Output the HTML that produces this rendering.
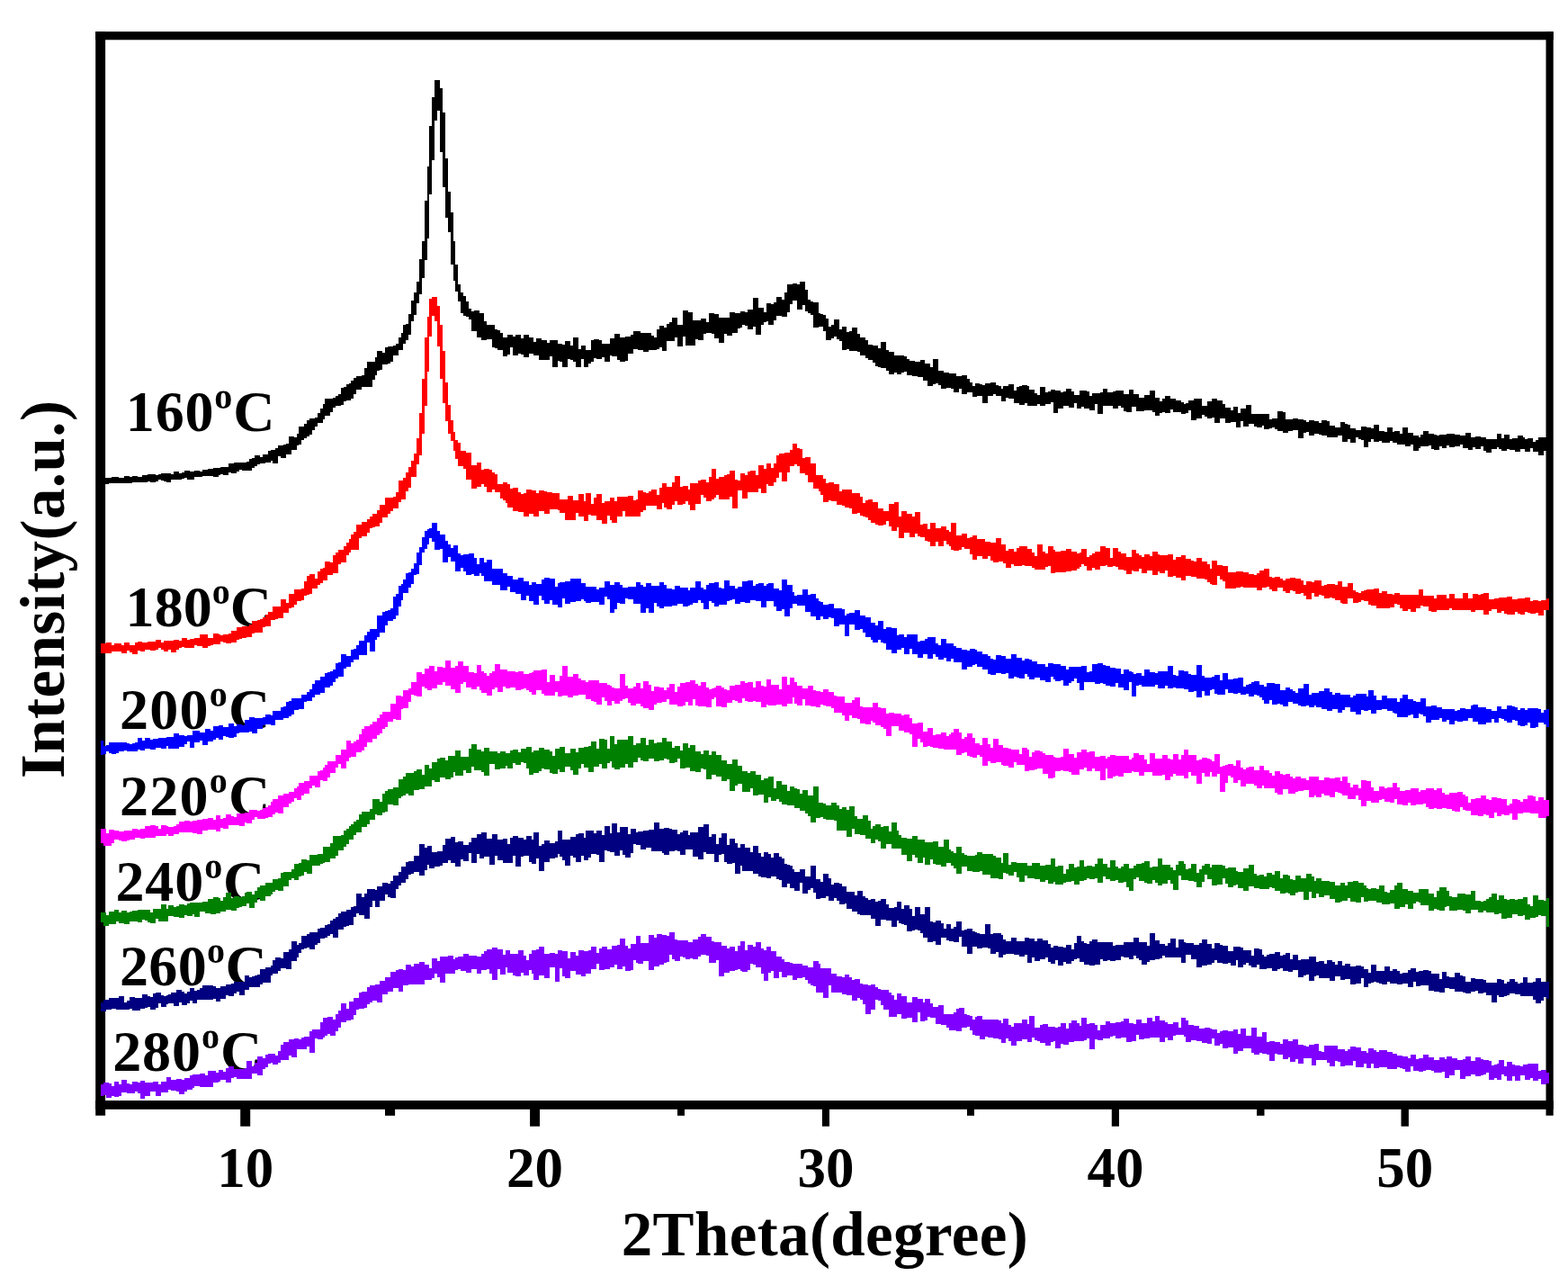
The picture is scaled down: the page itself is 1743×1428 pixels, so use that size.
<!DOCTYPE html>
<html><head><meta charset="utf-8"><title>XRD patterns</title>
<style>
html,body{margin:0;padding:0;background:#fff;}
body{width:1743px;height:1428px;overflow:hidden;}
svg{display:block;}
.tk{font-size:63px;}
.cl{font-size:64px;}
.sup{font-size:40px;}
.xl{font-size:69px;}
.yl{font-size:69px;}
</style></head>
<body>
<svg width="1743" height="1428" viewBox="0 0 1743 1428">
<rect width="1743" height="1428" fill="#fff"/>
<g fill="#000" font-family="'Liberation Serif', serif" font-weight="bold">
<text x="139.8" y="478.7" class="cl" textLength="165.6" lengthAdjust="spacing">160<tspan class="sup" dy="-25">o</tspan><tspan dy="25">C</tspan></text>
<text x="139.6" y="695.6" class="cl" textLength="162.4" lengthAdjust="spacing">180<tspan class="sup" dy="-25">o</tspan><tspan dy="25">C</tspan></text>
<text x="132.9" y="809.9" class="cl" textLength="167.3" lengthAdjust="spacing">200<tspan class="sup" dy="-25">o</tspan><tspan dy="25">C</tspan></text>
<text x="132.9" y="905.7" class="cl" textLength="167.3" lengthAdjust="spacing">220<tspan class="sup" dy="-25">o</tspan><tspan dy="25">C</tspan></text>
<text x="128.4" y="1000.5" class="cl" textLength="165.9" lengthAdjust="spacing">240<tspan class="sup" dy="-25">o</tspan><tspan dy="25">C</tspan></text>
<text x="132.9" y="1094.6" class="cl" textLength="163.8" lengthAdjust="spacing">260<tspan class="sup" dy="-25">o</tspan><tspan dy="25">C</tspan></text>
<text x="125.2" y="1189.5" class="cl" textLength="165.9" lengthAdjust="spacing">280<tspan class="sup" dy="-25">o</tspan><tspan dy="25">C</tspan></text>
</g>
<g fill="#000">
<rect x="106.2" y="35.1" width="10.9" height="1204.6"/>
<rect x="106.2" y="35.1" width="1620.5" height="9.2"/>
<rect x="1718.5" y="35.1" width="8.2" height="1204.6"/>
<rect x="106.2" y="1223.0" width="1620.5" height="9.8"/>
<rect x="267.2" y="1232.0" width="11.0" height="19.7"/>
<rect x="589.1" y="1232.0" width="10.9" height="19.7"/>
<rect x="913.9" y="1232.0" width="8.1" height="19.7"/>
<rect x="1235.8" y="1232.0" width="8.2" height="19.7"/>
<rect x="1557.5" y="1232.0" width="8.4" height="19.7"/>
<rect x="428.0" y="1232.0" width="11.1" height="7.8"/>
<rect x="753.0" y="1232.0" width="8.0" height="7.8"/>
<rect x="1075.0" y="1232.0" width="8.0" height="7.8"/>
<rect x="1397.0" y="1232.0" width="8.5" height="7.8"/>
</g>
<g shape-rendering="crispEdges">
<path fill="#000000" d="M112.0 532.1H114.9V538.0H112.0ZM114.9 530.5H117.8V538.2H114.9ZM117.8 530.5H120.7V538.2H117.8ZM120.7 531.4H123.6V537.1H120.7ZM123.6 530.0H126.5V537.1H123.6ZM126.5 530.0H129.4V536.5H126.5ZM129.4 530.4H132.3V536.9H129.4ZM132.3 531.2H135.2V536.9H132.3ZM135.2 530.9H138.1V536.9H135.2ZM138.1 529.4H141.0V536.8H138.1ZM141.0 529.4H143.9V536.9H141.0ZM143.9 529.5H146.8V536.9H143.9ZM146.8 528.8H149.7V536.2H146.8ZM149.7 528.8H152.6V535.7H149.7ZM152.6 529.6H155.5V535.7H152.6ZM155.5 529.9H158.4V535.7H155.5ZM158.4 528.0H161.3V536.4H158.4ZM161.3 528.0H164.2V536.4H161.3ZM164.2 527.4H167.1V535.3H164.2ZM167.1 526.8H170.0V536.0H167.1ZM170.0 526.8H172.9V536.0H170.0ZM172.9 527.8H175.8V535.2H172.9ZM175.8 526.7H178.7V533.1H175.8ZM178.7 526.3H181.6V534.1H178.7ZM181.6 526.3H184.5V535.2H181.6ZM184.5 525.9H187.4V535.7H184.5ZM187.4 525.9H190.3V535.7H187.4ZM190.3 526.6H193.2V533.0H190.3ZM193.2 524.0H196.1V533.0H193.2ZM196.1 524.0H199.0V532.8H196.1ZM199.0 525.6H201.9V532.8H199.0ZM201.9 524.8H204.8V532.2H201.9ZM204.8 523.1H207.7V530.5H204.8ZM207.7 523.1H210.6V533.0H207.7ZM210.6 524.3H213.5V533.0H210.6ZM213.5 524.3H216.4V533.0H213.5ZM216.4 522.6H219.3V530.1H216.4ZM219.3 522.6H222.2V529.9H219.3ZM222.2 523.7H225.1V529.9H222.2ZM225.1 521.6H228.0V528.8H225.1ZM228.0 521.6H230.9V529.2H228.0ZM230.9 521.4H233.8V529.2H230.9ZM233.8 520.9H236.7V529.3H233.8ZM236.7 519.8H239.6V529.7H236.7ZM239.6 519.6H242.5V529.7H239.6ZM242.5 519.6H245.4V527.7H242.5ZM245.4 519.4H248.3V527.3H245.4ZM248.3 518.7H251.2V527.6H248.3ZM251.2 518.7H254.1V527.6H251.2ZM254.1 515.0H257.0V525.3H254.1ZM257.0 515.0H259.9V525.7H257.0ZM259.9 514.0H262.8V525.7H259.9ZM262.8 514.0H265.7V524.2H262.8ZM265.7 513.7H268.6V522.3H265.7ZM268.6 513.7H271.5V523.4H268.6ZM271.5 514.0H274.4V523.4H271.5ZM274.4 512.7H277.3V522.6H274.4ZM277.3 509.9H280.2V522.6H277.3ZM280.2 509.3H283.1V520.1H280.2ZM283.1 506.1H286.0V518.3H283.1ZM286.0 506.1H288.9V516.1H286.0ZM288.9 508.3H291.8V515.1H288.9ZM291.8 504.9H294.7V515.1H291.8ZM294.7 504.7H297.6V514.4H294.7ZM297.6 500.7H300.5V514.4H297.6ZM300.5 499.7H303.4V511.5H300.5ZM303.4 499.6H306.3V515.1H303.4ZM306.3 498.2H309.2V515.1H306.3ZM309.2 495.3H312.1V506.8H309.2ZM312.1 495.2H315.0V509.3H312.1ZM315.0 494.4H317.9V509.3H315.0ZM317.9 492.8H320.8V505.1H317.9ZM320.8 485.3H323.7V505.1H320.8ZM323.7 485.3H326.6V500.0H323.7ZM326.6 485.7H329.5V500.0H326.6ZM329.5 482.2H332.4V495.2H329.5ZM332.4 474.4H335.3V493.5H332.4ZM335.3 474.4H338.2V488.9H335.3ZM338.2 471.0H341.1V487.2H338.2ZM341.1 467.0H344.0V485.1H341.1ZM344.0 464.5H346.9V483.2H344.0ZM346.9 464.5H349.8V478.1H346.9ZM349.8 463.8H352.7V473.5H349.8ZM352.7 458.9H355.6V469.7H352.7ZM355.6 454.0H358.5V469.7H355.6ZM358.5 449.4H361.4V465.7H358.5ZM361.4 442.8H364.3V461.9H361.4ZM364.3 442.8H367.2V461.9H364.3ZM367.2 443.4H370.1V458.1H367.2ZM370.1 441.6H373.0V452.9H370.1ZM373.0 440.2H375.9V451.4H373.0ZM375.9 437.7H378.8V451.4H375.9ZM378.8 431.3H381.7V449.7H378.8ZM381.7 429.7H384.6V446.0H381.7ZM384.6 426.5H387.5V445.3H384.6ZM387.5 425.8H390.4V445.3H387.5ZM390.4 423.2H393.3V442.8H390.4ZM393.3 420.2H396.2V438.1H393.3ZM396.2 417.7H399.1V433.4H396.2ZM399.1 417.7H402.0V432.7H399.1ZM402.0 417.4H404.9V430.4H402.0ZM404.9 408.7H407.8V430.4H404.9ZM407.8 401.7H410.7V429.5H407.8ZM410.7 401.7H413.6V429.5H410.7ZM413.6 401.7H416.5V422.2H413.6ZM416.5 397.1H419.4V416.5H416.5ZM419.4 390.0H422.3V411.8H419.4ZM422.3 390.0H425.2V410.8H422.3ZM425.2 391.5H428.1V405.3H425.2ZM428.1 386.4H431.0V405.3H428.1ZM431.0 385.3H433.9V403.7H431.0ZM433.9 384.9H436.8V401.8H433.9ZM436.8 384.2H439.7V394.6H436.8ZM439.7 382.0H442.6V394.6H439.7ZM442.6 374.6H445.5V388.9H442.6ZM445.5 369.7H448.4V388.9H445.5ZM448.4 360.9H451.3V382.0H448.4ZM451.3 360.3H454.2V377.5H451.3ZM454.2 348.9H457.1V371.7H454.2ZM457.1 333.6H460.0V356.8H457.1ZM460.0 325.2H462.9V350.1H460.0ZM462.9 313.1H465.8V336.8H462.9ZM465.8 288.3H468.7V327.1H465.8ZM468.7 268.0H471.6V309.4H468.7ZM471.6 222.8H474.5V288.5H471.6ZM474.5 185.1H477.4V265.3H474.5ZM477.4 139.9H480.3V215.8H477.4ZM480.3 107.8H483.2V177.7H480.3ZM483.2 89.2H486.1V134.2H483.2ZM486.1 89.2H489.0V123.1H486.1ZM489.0 98.2H491.9V168.7H489.0ZM491.9 124.8H494.8V207.5H491.9ZM494.8 175.6H497.7V241.9H494.8ZM497.7 213.4H500.6V258.4H497.7ZM500.6 236.3H503.5V293.8H500.6ZM503.5 268.4H506.4V311.8H503.5ZM506.4 294.4H509.3V324.4H506.4ZM509.3 315.7H512.2V334.6H509.3ZM512.2 324.7H515.1V347.5H512.2ZM515.1 329.0H518.0V350.5H515.1ZM518.0 334.6H520.9V352.0H518.0ZM520.9 342.6H523.8V354.9H520.9ZM523.8 346.1H526.7V368.3H523.8ZM526.7 345.2H529.6V368.3H526.7ZM529.6 345.2H532.5V375.4H529.6ZM532.5 348.3H535.4V375.4H532.5ZM535.4 348.3H538.3V377.5H535.4ZM538.3 356.5H541.2V377.5H538.3ZM541.2 360.7H544.1V377.2H541.2ZM544.1 360.6H547.0V377.2H544.1ZM547.0 360.6H549.9V386.3H547.0ZM549.9 365.6H552.8V387.4H549.9ZM552.8 367.2H555.7V388.6H552.8ZM555.7 369.8H558.6V388.6H555.7ZM558.6 374.9H561.5V395.6H558.6ZM561.5 374.9H564.4V395.6H561.5ZM564.4 371.5H567.3V393.8H564.4ZM567.3 371.5H570.2V385.9H567.3ZM570.2 374.3H573.1V395.4H570.2ZM573.1 372.2H576.0V395.4H573.1ZM576.0 372.2H578.9V392.5H576.0ZM578.9 375.5H581.8V393.9H578.9ZM581.8 372.4H584.7V397.2H581.8ZM584.7 372.4H587.6V397.2H584.7ZM587.6 375.2H590.5V392.6H587.6ZM590.5 375.2H593.4V392.7H590.5ZM593.4 379.7H596.3V394.8H593.4ZM596.3 375.5H599.2V394.8H596.3ZM599.2 375.5H602.1V399.6H599.2ZM602.1 378.2H605.0V399.6H602.1ZM605.0 378.2H607.9V399.5H605.0ZM607.9 381.4H610.8V399.5H607.9ZM610.8 378.1H613.7V396.2H610.8ZM613.7 378.1H616.6V407.9H613.7ZM616.6 378.1H619.5V407.9H616.6ZM619.5 381.9H622.4V401.0H619.5ZM622.4 381.9H625.3V401.8H622.4ZM625.3 382.9H628.2V407.9H625.3ZM628.2 379.0H631.1V407.9H628.2ZM631.1 379.0H634.0V399.1H631.1ZM634.0 383.7H636.9V399.5H634.0ZM636.9 375.0H639.8V402.2H636.9ZM639.8 375.0H642.7V407.6H639.8ZM642.7 387.7H645.6V407.6H642.7ZM645.6 383.8H648.5V399.3H645.6ZM648.5 383.8H651.4V408.3H648.5ZM651.4 389.4H654.3V408.3H651.4ZM654.3 388.8H657.2V404.2H654.3ZM657.2 377.7H660.1V402.1H657.2ZM660.1 377.3H663.0V398.2H660.1ZM663.0 377.3H665.9V399.1H663.0ZM665.9 378.3H668.8V399.1H665.9ZM668.8 382.3H671.7V396.7H668.8ZM671.7 381.7H674.6V402.1H671.7ZM674.6 381.7H677.5V402.1H674.6ZM677.5 376.0H680.4V394.6H677.5ZM680.4 376.0H683.3V396.4H680.4ZM683.3 371.3H686.2V396.4H683.3ZM686.2 371.3H689.1V400.0H686.2ZM689.1 375.4H692.0V401.9H689.1ZM692.0 375.4H694.9V401.9H692.0ZM694.9 374.2H697.8V401.1H694.9ZM697.8 374.2H700.7V393.4H697.8ZM700.7 371.9H703.6V393.4H700.7ZM703.6 367.7H706.5V387.9H703.6ZM706.5 367.5H709.4V387.9H706.5ZM709.4 367.5H712.3V389.0H709.4ZM712.3 370.3H715.2V389.0H712.3ZM715.2 370.3H718.1V390.6H715.2ZM718.1 370.1H721.0V390.6H718.1ZM721.0 370.1H723.9V388.8H721.0ZM723.9 372.6H726.8V389.2H723.9ZM726.8 374.9H729.7V389.2H726.8ZM729.7 365.5H732.6V387.5H729.7ZM732.6 362.4H735.5V386.4H732.6ZM735.5 362.4H738.4V390.0H735.5ZM738.4 364.2H741.3V390.0H738.4ZM741.3 359.9H744.2V379.2H741.3ZM744.2 357.7H747.1V378.5H744.2ZM747.1 353.4H750.0V378.5H747.1ZM750.0 353.4H752.9V374.5H750.0ZM752.9 361.1H755.8V384.9H752.9ZM755.8 360.7H758.7V384.9H755.8ZM758.7 345.1H761.6V373.6H758.7ZM761.6 345.1H764.5V383.9H761.6ZM764.5 347.3H767.4V383.9H764.5ZM767.4 347.3H770.3V383.5H767.4ZM770.3 355.6H773.2V383.5H770.3ZM773.2 355.6H776.1V377.0H773.2ZM776.1 355.9H779.0V377.5H776.1ZM779.0 353.8H781.9V377.5H779.0ZM781.9 353.8H784.8V370.6H781.9ZM784.8 357.8H787.7V370.0H784.8ZM787.7 348.4H790.6V370.0H787.7ZM790.6 348.4H793.5V371.1H790.6ZM793.5 349.4H796.4V375.9H793.5ZM796.4 349.4H799.3V375.9H796.4ZM799.3 352.6H802.2V381.1H799.3ZM802.2 352.6H805.1V381.1H802.2ZM805.1 353.2H808.0V370.9H805.1ZM808.0 353.2H810.9V373.2H808.0ZM810.9 347.4H813.8V373.2H810.9ZM813.8 347.4H816.7V369.7H813.8ZM816.7 348.0H819.6V369.7H816.7ZM819.6 348.0H822.5V364.6H819.6ZM822.5 345.6H825.4V363.8H822.5ZM825.4 345.6H828.3V361.3H825.4ZM828.3 346.9H831.2V361.8H828.3ZM831.2 343.7H834.1V365.5H831.2ZM834.1 343.7H837.0V365.5H834.1ZM837.0 330.9H839.9V362.5H837.0ZM839.9 330.9H842.8V371.7H839.9ZM842.8 341.9H845.7V371.7H842.8ZM845.7 341.9H848.6V361.1H845.7ZM848.6 347.2H851.5V358.2H848.6ZM851.5 337.2H854.4V357.0H851.5ZM854.4 337.2H857.3V360.6H854.4ZM857.3 337.5H860.2V360.6H857.3ZM860.2 335.9H863.1V355.5H860.2ZM863.1 329.8H866.0V351.1H863.1ZM866.0 329.8H868.9V351.2H866.0ZM868.9 333.2H871.8V351.7H868.9ZM871.8 324.6H874.7V351.7H871.8ZM874.7 315.7H877.6V346.7H874.7ZM877.6 315.7H880.5V337.9H877.6ZM880.5 314.9H883.4V333.7H880.5ZM883.4 314.9H886.3V333.7H883.4ZM886.3 315.7H889.2V344.4H886.3ZM889.2 313.3H892.1V344.4H889.2ZM892.1 313.3H895.0V339.0H892.1ZM895.0 321.6H897.9V345.6H895.0ZM897.9 332.8H900.8V347.5H897.9ZM900.8 334.8H903.7V349.5H900.8ZM903.7 335.5H906.6V363.5H903.7ZM906.6 335.5H909.5V363.5H906.6ZM909.5 347.6H912.4V362.9H909.5ZM912.4 348.8H915.3V363.1H912.4ZM915.3 349.6H918.2V367.9H915.3ZM918.2 353.7H921.1V377.6H918.2ZM921.1 362.9H924.0V377.6H921.1ZM924.0 361.1H926.9V376.3H924.0ZM926.9 355.4H929.8V373.9H926.9ZM929.8 355.4H932.7V377.2H929.8ZM932.7 365.6H935.6V378.5H932.7ZM935.6 362.8H938.5V388.5H935.6ZM938.5 362.8H941.4V388.5H938.5ZM941.4 368.7H944.3V388.1H941.4ZM944.3 368.3H947.2V389.6H944.3ZM947.2 364.4H950.1V389.6H947.2ZM950.1 364.4H953.0V389.5H950.1ZM953.0 370.7H955.9V390.9H953.0ZM955.9 374.9H958.8V395.4H955.9ZM958.8 374.9H961.7V395.4H958.8ZM961.7 377.7H964.6V397.6H961.7ZM964.6 382.6H967.5V400.1H964.6ZM967.5 382.6H970.4V400.1H967.5ZM970.4 383.5H973.3V402.7H970.4ZM973.3 383.5H976.2V406.5H973.3ZM976.2 387.2H979.1V407.6H976.2ZM979.1 380.1H982.0V408.7H979.1ZM982.0 380.1H984.9V408.7H982.0ZM984.9 388.9H987.8V412.2H984.9ZM987.8 391.0H990.7V416.3H987.8ZM990.7 391.0H993.6V416.3H990.7ZM993.6 394.6H996.5V414.1H993.6ZM996.5 395.2H999.4V415.7H996.5ZM999.4 395.1H1002.3V415.7H999.4ZM1002.3 395.1H1005.2V414.3H1002.3ZM1005.2 396.2H1008.1V413.2H1005.2ZM1008.1 399.0H1011.0V417.3H1008.1ZM1011.0 401.3H1013.9V417.3H1011.0ZM1013.9 401.3H1016.8V417.6H1013.9ZM1016.8 402.3H1019.7V417.6H1016.8ZM1019.7 401.8H1022.6V418.9H1019.7ZM1022.6 400.3H1025.5V418.9H1022.6ZM1025.5 400.3H1028.4V422.7H1025.5ZM1028.4 403.5H1031.3V422.7H1028.4ZM1031.3 403.5H1034.2V428.9H1031.3ZM1034.2 408.3H1037.1V428.9H1034.2ZM1037.1 399.2H1040.0V427.1H1037.1ZM1040.0 399.2H1042.9V425.8H1040.0ZM1042.9 412.0H1045.8V427.8H1042.9ZM1045.8 412.0H1048.7V431.5H1045.8ZM1048.7 413.6H1051.6V431.5H1048.7ZM1051.6 413.6H1054.5V430.6H1051.6ZM1054.5 415.3H1057.4V430.6H1054.5ZM1057.4 414.8H1060.3V431.5H1057.4ZM1060.3 414.8H1063.2V436.0H1060.3ZM1063.2 418.1H1066.1V436.0H1063.2ZM1066.1 418.1H1069.0V432.3H1066.1ZM1069.0 416.8H1071.9V437.7H1069.0ZM1071.9 416.8H1074.8V437.7H1071.9ZM1074.8 420.7H1077.7V435.8H1074.8ZM1077.7 424.9H1080.6V435.9H1077.7ZM1080.6 428.8H1083.5V441.3H1080.6ZM1083.5 425.8H1086.4V441.3H1083.5ZM1086.4 425.8H1089.3V440.1H1086.4ZM1089.3 427.2H1092.2V440.1H1089.3ZM1092.2 428.1H1095.1V448.1H1092.2ZM1095.1 426.2H1098.0V448.1H1095.1ZM1098.0 426.2H1100.9V440.0H1098.0ZM1100.9 424.5H1103.8V440.0H1100.9ZM1103.8 424.5H1106.7V438.3H1103.8ZM1106.7 428.2H1109.6V440.2H1106.7ZM1109.6 428.8H1112.5V440.2H1109.6ZM1112.5 431.9H1115.4V446.1H1112.5ZM1115.4 429.2H1118.3V446.1H1115.4ZM1118.3 429.2H1121.2V442.1H1118.3ZM1121.2 426.7H1124.1V443.1H1121.2ZM1124.1 426.7H1127.0V443.1H1124.1ZM1127.0 433.7H1129.9V447.5H1127.0ZM1129.9 430.3H1132.8V447.5H1129.9ZM1132.8 428.7H1135.7V450.2H1132.8ZM1135.7 428.4H1138.6V450.2H1135.7ZM1138.6 428.4H1141.5V448.1H1138.6ZM1141.5 429.3H1144.4V450.5H1141.5ZM1144.4 432.9H1147.3V450.5H1144.4ZM1147.3 432.9H1150.2V450.5H1147.3ZM1150.2 436.8H1153.1V450.5H1150.2ZM1153.1 438.9H1156.0V448.7H1153.1ZM1156.0 429.5H1158.9V450.6H1156.0ZM1158.9 429.5H1161.8V450.6H1158.9ZM1161.8 436.3H1164.7V449.1H1161.8ZM1164.7 434.5H1167.6V449.1H1164.7ZM1167.6 432.9H1170.5V447.2H1167.6ZM1170.5 432.9H1173.4V458.7H1170.5ZM1173.4 434.4H1176.3V458.7H1173.4ZM1176.3 434.4H1179.2V454.1H1176.3ZM1179.2 435.8H1182.1V454.1H1179.2ZM1182.1 434.9H1185.0V450.6H1182.1ZM1185.0 432.4H1187.9V450.6H1185.0ZM1187.9 432.4H1190.8V452.9H1187.9ZM1190.8 435.1H1193.7V452.9H1190.8ZM1193.7 439.2H1196.6V447.5H1193.7ZM1196.6 438.9H1199.5V454.4H1196.6ZM1199.5 434.1H1202.4V454.4H1199.5ZM1202.4 434.1H1205.3V451.9H1202.4ZM1205.3 434.4H1208.2V454.2H1205.3ZM1208.2 435.3H1211.1V454.2H1208.2ZM1211.1 440.0H1214.0V455.7H1211.1ZM1214.0 436.8H1216.9V455.7H1214.0ZM1216.9 436.8H1219.8V449.4H1216.9ZM1219.8 436.9H1222.7V460.4H1219.8ZM1222.7 435.5H1225.6V460.4H1222.7ZM1225.6 431.7H1228.5V451.2H1225.6ZM1228.5 431.7H1231.4V451.2H1228.5ZM1231.4 435.6H1234.3V451.4H1231.4ZM1234.3 435.6H1237.2V451.4H1234.3ZM1237.2 435.2H1240.1V453.8H1237.2ZM1240.1 434.3H1243.0V453.8H1240.1ZM1243.0 433.7H1245.9V451.4H1243.0ZM1245.9 433.7H1248.8V453.1H1245.9ZM1248.8 437.8H1251.7V456.8H1248.8ZM1251.7 437.8H1254.6V457.7H1251.7ZM1254.6 432.6H1257.5V457.7H1254.6ZM1257.5 432.6H1260.4V451.5H1257.5ZM1260.4 438.4H1263.3V451.5H1260.4ZM1263.3 438.4H1266.2V456.5H1263.3ZM1266.2 441.8H1269.1V457.0H1266.2ZM1269.1 441.7H1272.0V457.0H1269.1ZM1272.0 439.1H1274.9V455.7H1272.0ZM1274.9 439.1H1277.8V455.7H1274.9ZM1277.8 434.1H1280.7V455.7H1277.8ZM1280.7 434.1H1283.6V457.7H1280.7ZM1283.6 441.7H1286.5V462.4H1283.6ZM1286.5 441.7H1289.4V462.4H1286.5ZM1289.4 446.4H1292.3V459.3H1289.4ZM1292.3 442.7H1295.2V457.9H1292.3ZM1295.2 439.8H1298.1V459.2H1295.2ZM1298.1 439.8H1301.0V459.2H1298.1ZM1301.0 442.7H1303.9V454.7H1301.0ZM1303.9 442.9H1306.8V458.0H1303.9ZM1306.8 444.9H1309.7V458.0H1306.8ZM1309.7 444.9H1312.6V457.7H1309.7ZM1312.6 446.7H1315.5V459.8H1312.6ZM1315.5 448.7H1318.4V459.8H1315.5ZM1318.4 447.6H1321.3V458.7H1318.4ZM1321.3 445.1H1324.2V456.2H1321.3ZM1324.2 445.1H1327.1V466.6H1324.2ZM1327.1 443.4H1330.0V466.6H1327.1ZM1330.0 443.4H1332.9V465.0H1330.0ZM1332.9 443.4H1335.8V465.0H1332.9ZM1335.8 450.9H1338.7V461.1H1335.8ZM1338.7 450.8H1341.6V463.0H1338.7ZM1341.6 446.1H1344.5V464.9H1341.6ZM1344.5 446.1H1347.4V464.9H1344.5ZM1347.4 442.5H1350.3V463.5H1347.4ZM1350.3 442.5H1353.2V470.4H1350.3ZM1353.2 445.4H1356.1V470.4H1353.2ZM1356.1 445.4H1359.0V465.4H1356.1ZM1359.0 448.9H1361.9V465.1H1359.0ZM1361.9 452.9H1364.8V469.6H1361.9ZM1364.8 452.9H1367.7V469.6H1364.8ZM1367.7 455.8H1370.6V469.4H1367.7ZM1370.6 452.3H1373.5V468.6H1370.6ZM1373.5 452.3H1376.4V475.3H1373.5ZM1376.4 458.7H1379.3V475.3H1376.4ZM1379.3 454.1H1382.2V467.6H1379.3ZM1382.2 454.1H1385.1V474.0H1382.2ZM1385.1 450.2H1388.0V474.0H1385.1ZM1388.0 450.2H1390.9V470.9H1388.0ZM1390.9 460.0H1393.8V470.9H1390.9ZM1393.8 459.8H1396.7V474.3H1393.8ZM1396.7 459.8H1399.6V474.7H1396.7ZM1399.6 459.6H1402.5V474.7H1399.6ZM1402.5 459.6H1405.4V472.6H1402.5ZM1405.4 459.8H1408.3V476.8H1405.4ZM1408.3 459.8H1411.2V476.8H1408.3ZM1411.2 466.1H1414.1V475.7H1411.2ZM1414.1 464.8H1417.0V475.1H1414.1ZM1417.0 464.8H1419.9V476.7H1417.0ZM1419.9 457.2H1422.8V479.2H1419.9ZM1422.8 457.2H1425.7V479.2H1422.8ZM1425.7 458.0H1428.6V480.5H1425.7ZM1428.6 465.5H1431.5V480.5H1428.6ZM1431.5 465.5H1434.4V479.3H1431.5ZM1434.4 466.3H1437.3V479.3H1434.4ZM1437.3 464.8H1440.2V478.1H1437.3ZM1440.2 464.8H1443.1V478.3H1440.2ZM1443.1 466.4H1446.0V486.5H1443.1ZM1446.0 466.4H1448.9V486.5H1446.0ZM1448.9 466.6H1451.8V480.6H1448.9ZM1451.8 469.2H1454.7V479.8H1451.8ZM1454.7 467.0H1457.6V483.9H1454.7ZM1457.6 467.0H1460.5V483.9H1457.6ZM1460.5 467.8H1463.4V481.5H1460.5ZM1463.4 467.8H1466.3V481.5H1463.4ZM1466.3 470.0H1469.2V482.7H1466.3ZM1469.2 466.7H1472.1V484.2H1469.2ZM1472.1 466.7H1475.0V484.2H1472.1ZM1475.0 468.4H1477.9V485.7H1475.0ZM1477.9 473.1H1480.8V485.7H1477.9ZM1480.8 473.1H1483.7V485.5H1480.8ZM1483.7 475.0H1486.6V485.5H1483.7ZM1486.6 475.0H1489.5V483.9H1486.6ZM1489.5 469.1H1492.4V483.9H1489.5ZM1492.4 469.1H1495.3V490.9H1492.4ZM1495.3 471.0H1498.2V490.9H1495.3ZM1498.2 471.8H1501.1V487.7H1498.2ZM1501.1 476.1H1504.0V492.3H1501.1ZM1504.0 476.1H1506.9V492.3H1504.0ZM1506.9 478.2H1509.8V485.6H1506.9ZM1509.8 478.2H1512.7V487.5H1509.8ZM1512.7 473.9H1515.6V488.8H1512.7ZM1515.6 473.9H1518.5V497.0H1515.6ZM1518.5 474.5H1521.4V497.0H1518.5ZM1521.4 475.0H1524.3V491.4H1521.4ZM1524.3 476.4H1527.2V488.2H1524.3ZM1527.2 472.1H1530.1V491.3H1527.2ZM1530.1 472.1H1533.0V491.3H1530.1ZM1533.0 478.7H1535.9V489.6H1533.0ZM1535.9 478.7H1538.8V491.5H1535.9ZM1538.8 479.7H1541.7V492.2H1538.8ZM1541.7 474.6H1544.6V492.2H1541.7ZM1544.6 474.6H1547.5V489.9H1544.6ZM1547.5 479.6H1550.4V492.0H1547.5ZM1550.4 479.3H1553.3V492.0H1550.4ZM1553.3 479.3H1556.2V493.7H1553.3ZM1556.2 481.7H1559.1V494.0H1556.2ZM1559.1 475.0H1562.0V494.0H1559.1ZM1562.0 475.0H1564.9V496.3H1562.0ZM1564.9 481.2H1567.8V496.3H1564.9ZM1567.8 481.2H1570.7V493.7H1567.8ZM1570.7 484.1H1573.6V501.4H1570.7ZM1573.6 484.2H1576.5V501.4H1573.6ZM1576.5 485.5H1579.4V498.3H1576.5ZM1579.4 482.5H1582.3V495.6H1579.4ZM1582.3 479.2H1585.2V495.7H1582.3ZM1585.2 479.2H1588.1V495.7H1585.2ZM1588.1 482.1H1591.0V495.3H1588.1ZM1591.0 482.1H1593.9V499.3H1591.0ZM1593.9 482.8H1596.8V499.7H1593.9ZM1596.8 483.6H1599.7V499.7H1596.8ZM1599.7 483.1H1602.6V496.4H1599.7ZM1602.6 483.1H1605.5V498.1H1602.6ZM1605.5 483.4H1608.4V498.1H1605.5ZM1608.4 481.9H1611.3V495.0H1608.4ZM1611.3 481.9H1614.2V496.9H1611.3ZM1614.2 482.4H1617.1V496.9H1614.2ZM1617.1 482.8H1620.0V496.3H1617.1ZM1620.0 482.8H1622.9V496.3H1620.0ZM1622.9 483.9H1625.8V494.2H1622.9ZM1625.8 483.9H1628.7V497.5H1625.8ZM1628.7 481.0H1631.6V498.4H1628.7ZM1631.6 481.0H1634.5V500.2H1631.6ZM1634.5 485.7H1637.4V500.2H1634.5ZM1637.4 485.7H1640.3V497.0H1637.4ZM1640.3 485.1H1643.2V499.2H1640.3ZM1643.2 485.1H1646.1V499.2H1643.2ZM1646.1 486.2H1649.0V495.9H1646.1ZM1649.0 486.2H1651.9V500.7H1649.0ZM1651.9 488.3H1654.8V502.8H1651.9ZM1654.8 488.3H1657.7V502.8H1654.8ZM1657.7 487.5H1660.6V498.8H1657.7ZM1660.6 487.5H1663.5V498.8H1660.6ZM1663.5 482.3H1666.4V497.3H1663.5ZM1666.4 482.3H1669.3V499.1H1666.4ZM1669.3 487.3H1672.2V500.6H1669.3ZM1672.2 483.1H1675.1V500.6H1672.2ZM1675.1 483.1H1678.0V498.7H1675.1ZM1678.0 488.3H1680.9V499.7H1678.0ZM1680.9 486.6H1683.8V499.7H1680.9ZM1683.8 486.6H1686.7V502.0H1683.8ZM1686.7 484.4H1689.6V502.0H1686.7ZM1689.6 484.4H1692.5V498.7H1689.6ZM1692.5 486.4H1695.4V498.9H1692.5ZM1695.4 487.5H1698.3V501.6H1695.4ZM1698.3 486.7H1701.2V501.6H1698.3ZM1701.2 486.7H1704.1V498.2H1701.2ZM1704.1 491.4H1707.0V502.2H1704.1ZM1707.0 488.9H1709.9V502.2H1707.0ZM1709.9 486.3H1712.8V505.6H1709.9ZM1712.8 485.7H1715.7V505.6H1712.8ZM1715.7 485.7H1718.6V500.7H1715.7ZM1718.6 486.0H1721.5V501.1H1718.6ZM1721.5 491.9H1722.0V501.1H1721.5Z"/>
<path fill="#ff0000" d="M112.0 715.4H114.9V725.5H112.0ZM114.9 715.2H117.8V725.5H114.9ZM117.8 713.8H120.7V725.9H117.8ZM120.7 713.8H123.6V725.9H120.7ZM123.6 716.8H126.5V724.0H123.6ZM126.5 714.5H129.4V723.6H126.5ZM129.4 714.5H132.3V723.7H129.4ZM132.3 715.1H135.2V723.7H132.3ZM135.2 716.9H138.1V726.0H135.2ZM138.1 713.8H141.0V726.0H138.1ZM141.0 713.8H143.9V723.2H141.0ZM143.9 716.9H146.8V725.4H143.9ZM146.8 716.9H149.7V726.7H146.8ZM149.7 714.2H152.6V726.7H149.7ZM152.6 713.2H155.5V722.8H152.6ZM155.5 713.2H158.4V723.7H155.5ZM158.4 714.3H161.3V723.7H158.4ZM161.3 714.3H164.2V722.2H161.3ZM164.2 712.6H167.1V722.2H164.2ZM167.1 712.6H170.0V722.7H167.1ZM170.0 712.8H172.9V722.7H170.0ZM172.9 710.8H175.8V722.1H172.9ZM175.8 710.8H178.7V719.9H175.8ZM178.7 714.2H181.6V721.8H178.7ZM181.6 711.7H184.5V724.1H181.6ZM184.5 711.7H187.4V724.1H184.5ZM187.4 711.6H190.3V722.3H187.4ZM190.3 711.6H193.2V724.9H190.3ZM193.2 710.9H196.1V724.9H193.2ZM196.1 710.9H199.0V722.3H196.1ZM199.0 711.6H201.9V719.7H199.0ZM201.9 709.0H204.8V719.3H201.9ZM204.8 709.0H207.7V719.9H204.8ZM207.7 710.6H210.6V719.9H207.7ZM210.6 710.3H213.5V719.9H210.6ZM213.5 710.2H216.4V719.9H213.5ZM216.4 708.7H219.3V716.8H216.4ZM219.3 708.7H222.2V717.9H219.3ZM222.2 705.0H225.1V717.9H222.2ZM225.1 704.9H228.0V719.6H225.1ZM228.0 704.9H230.9V719.6H228.0ZM230.9 709.2H233.8V717.7H230.9ZM233.8 708.6H236.7V716.5H233.8ZM236.7 704.0H239.6V715.6H236.7ZM239.6 704.0H242.5V715.8H239.6ZM242.5 705.0H245.4V715.8H242.5ZM245.4 705.5H248.3V712.9H245.4ZM248.3 704.7H251.2V714.0H248.3ZM251.2 704.7H254.1V714.7H251.2ZM254.1 703.5H257.0V714.7H254.1ZM257.0 701.3H259.9V713.8H257.0ZM259.9 701.3H262.8V713.8H259.9ZM262.8 697.3H265.7V710.9H262.8ZM265.7 697.3H268.6V709.5H265.7ZM268.6 696.1H271.5V709.2H268.6ZM271.5 696.1H274.4V709.2H271.5ZM274.4 695.8H277.3V708.3H274.4ZM277.3 693.7H280.2V708.3H277.3ZM280.2 690.4H283.1V703.8H280.2ZM283.1 690.1H286.0V702.8H283.1ZM286.0 688.8H288.9V702.8H286.0ZM288.9 688.1H291.8V702.8H288.9ZM291.8 685.7H294.7V697.0H291.8ZM294.7 682.7H297.6V696.3H294.7ZM297.6 679.9H300.5V696.3H297.6ZM300.5 679.9H303.4V688.7H300.5ZM303.4 674.3H306.3V688.7H303.4ZM306.3 674.3H309.2V687.8H306.3ZM309.2 674.3H312.1V687.2H309.2ZM312.1 666.2H315.0V687.2H312.1ZM315.0 666.2H317.9V680.5H315.0ZM317.9 669.7H320.8V680.5H317.9ZM320.8 660.4H323.7V675.5H320.8ZM323.7 660.4H326.6V674.6H323.7ZM326.6 655.2H329.5V671.7H326.6ZM329.5 655.1H332.4V668.4H329.5ZM332.4 655.1H335.3V668.4H332.4ZM335.3 654.0H338.2V667.3H335.3ZM338.2 645.5H341.1V661.6H338.2ZM341.1 639.5H344.0V660.7H341.1ZM344.0 638.2H346.9V660.3H344.0ZM346.9 638.2H349.8V653.5H346.9ZM349.8 643.3H352.7V653.5H349.8ZM352.7 635.2H355.6V649.6H352.7ZM355.6 631.9H358.5V647.5H355.6ZM358.5 631.4H361.4V644.9H358.5ZM361.4 624.4H364.3V644.9H361.4ZM364.3 624.4H367.2V638.7H364.3ZM367.2 624.9H370.1V638.7H367.2ZM370.1 617.1H373.0V636.8H370.1ZM373.0 614.0H375.9V636.8H373.0ZM375.9 611.4H378.8V627.1H375.9ZM378.8 611.0H381.7V625.4H378.8ZM381.7 606.7H384.6V625.4H381.7ZM384.6 602.5H387.5V616.7H384.6ZM387.5 598.6H390.4V614.4H387.5ZM390.4 594.3H393.3V610.9H390.4ZM393.3 590.7H396.2V611.1H393.3ZM396.2 582.7H399.1V611.1H396.2ZM399.1 582.7H402.0V597.5H399.1ZM402.0 580.0H404.9V595.7H402.0ZM404.9 580.0H407.8V595.7H404.9ZM407.8 577.0H410.7V592.2H407.8ZM410.7 573.5H413.6V587.1H410.7ZM413.6 571.1H416.5V585.5H413.6ZM416.5 571.1H419.4V585.3H416.5ZM419.4 566.7H422.3V585.3H419.4ZM422.3 561.1H425.2V580.5H422.3ZM425.2 561.1H428.1V575.3H425.2ZM428.1 553.4H431.0V575.3H428.1ZM431.0 553.4H433.9V571.2H431.0ZM433.9 552.8H436.8V567.6H433.9ZM436.8 551.8H439.7V564.5H436.8ZM439.7 546.9H442.6V564.5H439.7ZM442.6 534.1H445.5V557.6H442.6ZM445.5 534.1H448.4V555.1H445.5ZM448.4 531.3H451.3V555.1H448.4ZM451.3 525.4H454.2V546.3H451.3ZM454.2 518.7H457.1V542.4H454.2ZM457.1 511.5H460.0V530.0H457.1ZM460.0 503.6H462.9V530.0H460.0ZM462.9 487.2H465.8V516.2H462.9ZM465.8 458.7H468.7V505.5H465.8ZM468.7 420.8H471.6V482.0H468.7ZM471.6 374.6H474.5V451.2H471.6ZM474.5 352.2H477.4V412.6H474.5ZM477.4 331.6H480.3V373.9H477.4ZM480.3 330.4H483.2V350.5H480.3ZM483.2 330.4H486.1V357.4H483.2ZM486.1 339.6H489.0V385.1H486.1ZM489.0 361.0H491.9V420.7H489.0ZM491.9 390.0H494.8V447.6H491.9ZM494.8 425.4H497.7V468.2H494.8ZM497.7 449.9H500.6V482.4H497.7ZM500.6 467.3H503.5V489.6H500.6ZM503.5 479.5H506.4V500.8H503.5ZM506.4 489.3H509.3V509.7H506.4ZM509.3 492.0H512.2V517.5H509.3ZM512.2 500.7H515.1V518.1H512.2ZM515.1 500.7H518.0V521.0H515.1ZM518.0 502.9H520.9V532.6H518.0ZM520.9 502.9H523.8V532.6H520.9ZM523.8 516.8H526.7V542.5H523.8ZM526.7 516.8H529.6V542.5H526.7ZM529.6 513.9H532.5V540.8H529.6ZM532.5 513.9H535.4V540.8H532.5ZM535.4 521.7H538.3V537.7H535.4ZM538.3 520.7H541.2V541.4H538.3ZM541.2 520.7H544.1V546.7H541.2ZM544.1 522.1H547.0V546.7H544.1ZM547.0 525.2H549.9V543.6H547.0ZM549.9 527.1H552.8V547.1H549.9ZM552.8 538.0H555.7V547.1H552.8ZM555.7 538.0H558.6V554.4H555.7ZM558.6 536.2H561.5V555.5H558.6ZM561.5 536.2H564.4V559.0H561.5ZM564.4 537.8H567.3V563.7H564.4ZM567.3 543.4H570.2V563.7H567.3ZM570.2 542.1H573.1V567.6H570.2ZM573.1 542.1H576.0V567.6H573.1ZM576.0 547.3H578.9V568.8H576.0ZM578.9 549.0H581.8V568.8H578.9ZM581.8 547.8H584.7V573.9H581.8ZM584.7 544.2H587.6V573.9H584.7ZM587.6 544.2H590.5V571.1H587.6ZM590.5 544.5H593.4V571.1H590.5ZM593.4 544.5H596.3V573.8H593.4ZM596.3 547.7H599.2V573.8H596.3ZM599.2 544.5H602.1V567.7H599.2ZM602.1 544.5H605.0V567.7H602.1ZM605.0 545.5H607.9V571.4H605.0ZM607.9 546.7H610.8V571.4H607.9ZM610.8 546.7H613.7V566.2H610.8ZM613.7 548.1H616.6V566.2H613.7ZM616.6 548.1H619.5V566.3H616.6ZM619.5 548.3H622.4V567.3H619.5ZM622.4 555.0H625.3V569.8H622.4ZM625.3 555.4H628.2V569.8H625.3ZM628.2 554.7H631.1V577.6H628.2ZM631.1 551.3H634.0V577.6H631.1ZM634.0 551.3H636.9V578.1H634.0ZM636.9 556.2H639.8V578.1H636.9ZM639.8 556.2H642.7V569.6H639.8ZM642.7 549.4H645.6V573.5H642.7ZM645.6 549.4H648.5V573.5H645.6ZM648.5 556.6H651.4V578.7H648.5ZM651.4 548.3H654.3V578.7H651.4ZM654.3 548.3H657.2V572.1H654.3ZM657.2 560.1H660.1V573.2H657.2ZM660.1 552.7H663.0V573.2H660.1ZM663.0 549.0H665.9V578.2H663.0ZM665.9 549.0H668.8V578.2H665.9ZM668.8 558.5H671.7V581.7H668.8ZM671.7 557.2H674.6V581.7H671.7ZM674.6 557.2H677.5V573.2H674.6ZM677.5 552.7H680.4V577.8H677.5ZM680.4 552.7H683.3V581.0H680.4ZM683.3 557.2H686.2V581.0H683.3ZM686.2 551.8H689.1V574.3H686.2ZM689.1 551.8H692.0V574.3H689.1ZM692.0 551.8H694.9V568.2H692.0ZM694.9 551.8H697.8V573.9H694.9ZM697.8 550.5H700.7V573.9H697.8ZM700.7 550.5H703.6V573.6H700.7ZM703.6 556.0H706.5V573.6H703.6ZM706.5 554.5H709.4V574.4H706.5ZM709.4 544.7H712.3V574.4H709.4ZM712.3 544.7H715.2V568.6H712.3ZM715.2 546.6H718.1V566.5H715.2ZM718.1 547.6H721.0V561.6H718.1ZM721.0 546.0H723.9V561.9H721.0ZM723.9 543.9H726.8V561.9H723.9ZM726.8 543.9H729.7V562.0H726.8ZM729.7 550.2H732.6V566.4H729.7ZM732.6 541.5H735.5V566.4H732.6ZM735.5 537.3H738.4V558.9H735.5ZM738.4 537.3H741.3V564.2H738.4ZM741.3 540.7H744.2V566.1H741.3ZM744.2 540.7H747.1V566.1H744.2ZM747.1 536.0H750.0V560.6H747.1ZM750.0 529.3H752.9V556.7H750.0ZM752.9 529.3H755.8V561.4H752.9ZM755.8 541.2H758.7V561.4H755.8ZM758.7 540.1H761.6V559.7H758.7ZM761.6 540.1H764.5V556.9H761.6ZM764.5 544.4H767.4V561.1H764.5ZM767.4 536.9H770.3V566.7H767.4ZM770.3 536.9H773.2V566.7H770.3ZM773.2 537.1H776.1V560.3H773.2ZM776.1 533.8H779.0V560.3H776.1ZM779.0 532.5H781.9V550.0H779.0ZM781.9 532.5H784.8V552.8H781.9ZM784.8 536.3H787.7V557.0H784.8ZM787.7 529.8H790.6V557.0H787.7ZM790.6 521.2H793.5V555.1H790.6ZM793.5 521.2H796.4V552.9H793.5ZM796.4 532.4H799.3V549.6H796.4ZM799.3 529.7H802.2V555.4H799.3ZM802.2 529.7H805.1V555.4H802.2ZM805.1 527.5H808.0V554.6H805.1ZM808.0 527.0H810.9V554.6H808.0ZM810.9 522.6H813.8V551.9H810.9ZM813.8 522.6H816.7V564.6H813.8ZM816.7 532.8H819.6V564.6H816.7ZM819.6 533.6H822.5V545.3H819.6ZM822.5 525.6H825.4V545.3H822.5ZM825.4 525.6H828.3V554.4H825.4ZM828.3 527.7H831.2V554.4H828.3ZM831.2 523.8H834.1V547.1H831.2ZM834.1 523.4H837.0V547.1H834.1ZM837.0 523.4H839.9V547.4H837.0ZM839.9 527.7H842.8V547.4H839.9ZM842.8 517.2H845.7V543.2H842.8ZM845.7 517.2H848.6V548.1H845.7ZM848.6 521.3H851.5V548.1H848.6ZM851.5 515.4H854.4V537.6H851.5ZM854.4 515.4H857.3V539.7H854.4ZM857.3 519.9H860.2V539.7H857.3ZM860.2 514.5H863.1V536.3H860.2ZM863.1 506.4H866.0V530.7H863.1ZM866.0 503.5H868.9V524.9H866.0ZM868.9 503.5H871.8V534.5H868.9ZM871.8 502.5H874.7V534.5H871.8ZM874.7 502.5H877.6V524.6H874.7ZM877.6 500.4H880.5V517.8H877.6ZM880.5 492.6H883.4V517.8H880.5ZM883.4 492.6H886.3V516.1H883.4ZM886.3 498.3H889.2V517.9H886.3ZM889.2 498.7H892.1V525.5H889.2ZM892.1 509.1H895.0V525.5H892.1ZM895.0 508.1H897.9V528.4H895.0ZM897.9 508.1H900.8V535.8H897.9ZM900.8 514.8H903.7V535.8H900.8ZM903.7 514.8H906.6V542.5H903.7ZM906.6 527.5H909.5V543.2H906.6ZM909.5 527.5H912.4V545.7H909.5ZM912.4 527.7H915.3V549.7H912.4ZM915.3 531.7H918.2V557.7H915.3ZM918.2 536.7H921.1V557.7H918.2ZM921.1 536.2H924.0V555.9H921.1ZM924.0 536.2H926.9V556.6H924.0ZM926.9 538.2H929.8V556.6H926.9ZM929.8 538.2H932.7V561.3H929.8ZM932.7 545.7H935.6V561.4H932.7ZM935.6 544.2H938.5V561.5H935.6ZM938.5 544.2H941.4V564.0H938.5ZM941.4 543.8H944.3V564.0H941.4ZM944.3 543.8H947.2V565.2H944.3ZM947.2 547.7H950.1V571.1H947.2ZM950.1 548.1H953.0V571.1H950.1ZM953.0 548.1H955.9V570.0H953.0ZM955.9 552.3H958.8V572.6H955.9ZM958.8 558.6H961.7V573.9H958.8ZM961.7 556.1H964.6V574.8H961.7ZM964.6 555.1H967.5V578.2H964.6ZM967.5 555.1H970.4V580.6H967.5ZM970.4 558.2H973.3V580.6H970.4ZM973.3 558.2H976.2V583.3H973.3ZM976.2 564.7H979.1V584.4H976.2ZM979.1 564.7H982.0V584.4H979.1ZM982.0 568.4H984.9V583.3H982.0ZM984.9 568.0H987.8V578.7H984.9ZM987.8 560.2H990.7V585.3H987.8ZM990.7 560.2H993.6V590.3H990.7ZM993.6 558.3H996.5V590.3H993.6ZM996.5 558.3H999.4V586.3H996.5ZM999.4 574.1H1002.3V597.6H999.4ZM1002.3 567.6H1005.2V597.6H1002.3ZM1005.2 567.6H1008.1V592.4H1005.2ZM1008.1 571.0H1011.0V592.4H1008.1ZM1011.0 571.0H1013.9V596.9H1011.0ZM1013.9 573.7H1016.8V596.9H1013.9ZM1016.8 568.9H1019.7V593.2H1016.8ZM1019.7 568.9H1022.6V595.9H1019.7ZM1022.6 583.4H1025.5V596.5H1022.6ZM1025.5 581.7H1028.4V596.5H1025.5ZM1028.4 581.7H1031.3V600.7H1028.4ZM1031.3 587.5H1034.2V602.2H1031.3ZM1034.2 581.1H1037.1V606.5H1034.2ZM1037.1 581.1H1040.0V606.5H1037.1ZM1040.0 587.0H1042.9V602.4H1040.0ZM1042.9 587.0H1045.8V607.0H1042.9ZM1045.8 585.2H1048.7V607.0H1045.8ZM1048.7 585.2H1051.6V601.0H1048.7ZM1051.6 588.6H1054.5V604.5H1051.6ZM1054.5 591.0H1057.4V607.3H1054.5ZM1057.4 580.8H1060.3V611.0H1057.4ZM1060.3 580.8H1063.2V611.7H1060.3ZM1063.2 594.9H1066.1V611.7H1063.2ZM1066.1 594.9H1069.0V611.2H1066.1ZM1069.0 593.2H1071.9V607.9H1069.0ZM1071.9 593.2H1074.8V610.3H1071.9ZM1074.8 597.7H1077.7V610.3H1074.8ZM1077.7 596.9H1080.6V616.1H1077.7ZM1080.6 594.9H1083.5V622.4H1080.6ZM1083.5 594.9H1086.4V622.4H1083.5ZM1086.4 598.9H1089.3V617.8H1086.4ZM1089.3 599.2H1092.2V617.8H1089.3ZM1092.2 599.2H1095.1V620.9H1092.2ZM1095.1 601.8H1098.0V620.9H1095.1ZM1098.0 601.8H1100.9V618.0H1098.0ZM1100.9 602.5H1103.8V623.1H1100.9ZM1103.8 602.5H1106.7V624.8H1103.8ZM1106.7 598.2H1109.6V624.8H1106.7ZM1109.6 598.2H1112.5V623.5H1109.6ZM1112.5 605.0H1115.4V623.5H1112.5ZM1115.4 605.0H1118.3V626.2H1115.4ZM1118.3 611.5H1121.2V631.4H1118.3ZM1121.2 610.3H1124.1V631.4H1121.2ZM1124.1 610.3H1127.0V626.8H1124.1ZM1127.0 612.7H1129.9V629.0H1127.0ZM1129.9 608.9H1132.8V629.0H1129.9ZM1132.8 606.8H1135.7V628.5H1132.8ZM1135.7 606.8H1138.6V627.5H1135.7ZM1138.6 606.8H1141.5V629.4H1138.6ZM1141.5 609.7H1144.4V629.4H1141.5ZM1144.4 609.7H1147.3V629.4H1144.4ZM1147.3 613.6H1150.2V631.4H1147.3ZM1150.2 617.8H1153.1V633.2H1150.2ZM1153.1 605.3H1156.0V633.2H1153.1ZM1156.0 605.3H1158.9V633.3H1156.0ZM1158.9 613.0H1161.8V633.3H1158.9ZM1161.8 615.0H1164.7V630.1H1161.8ZM1164.7 607.4H1167.6V629.4H1164.7ZM1167.6 607.4H1170.5V636.8H1167.6ZM1170.5 610.9H1173.4V636.8H1170.5ZM1173.4 613.4H1176.3V636.2H1173.4ZM1176.3 613.4H1179.2V636.2H1176.3ZM1179.2 611.5H1182.1V636.2H1179.2ZM1182.1 611.5H1185.0V636.2H1182.1ZM1185.0 609.9H1187.9V635.0H1185.0ZM1187.9 609.9H1190.8V635.0H1187.9ZM1190.8 612.8H1193.7V633.7H1190.8ZM1193.7 612.8H1196.6V633.7H1193.7ZM1196.6 614.5H1199.5V631.8H1196.6ZM1199.5 614.3H1202.4V630.1H1199.5ZM1202.4 609.7H1205.3V626.9H1202.4ZM1205.3 609.7H1208.2V628.6H1205.3ZM1208.2 618.5H1211.1V633.5H1208.2ZM1211.1 616.9H1214.0V633.5H1211.1ZM1214.0 614.9H1216.9V630.9H1214.0ZM1216.9 613.4H1219.8V632.7H1216.9ZM1219.8 613.4H1222.7V632.7H1219.8ZM1222.7 606.7H1225.6V629.2H1222.7ZM1225.6 606.7H1228.5V629.2H1225.6ZM1228.5 609.4H1231.4V628.3H1228.5ZM1231.4 609.4H1234.3V630.2H1231.4ZM1234.3 619.6H1237.2V630.2H1234.3ZM1237.2 608.8H1240.1V628.9H1237.2ZM1240.1 608.8H1243.0V630.2H1240.1ZM1243.0 612.9H1245.9V633.3H1243.0ZM1245.9 615.2H1248.8V633.3H1245.9ZM1248.8 615.4H1251.7V633.6H1248.8ZM1251.7 619.2H1254.6V638.1H1251.7ZM1254.6 619.2H1257.5V638.1H1254.6ZM1257.5 611.0H1260.4V633.7H1257.5ZM1260.4 611.0H1263.3V635.2H1260.4ZM1263.3 614.5H1266.2V635.2H1263.3ZM1266.2 616.5H1269.1V631.8H1266.2ZM1269.1 619.2H1272.0V636.6H1269.1ZM1272.0 615.7H1274.9V636.6H1272.0ZM1274.9 615.7H1277.8V633.9H1274.9ZM1277.8 617.5H1280.7V633.9H1277.8ZM1280.7 613.1H1283.6V639.1H1280.7ZM1283.6 613.1H1286.5V639.1H1283.6ZM1286.5 616.1H1289.4V635.1H1286.5ZM1289.4 616.9H1292.3V636.7H1289.4ZM1292.3 616.8H1295.2V636.7H1292.3ZM1295.2 616.8H1298.1V634.2H1295.2ZM1298.1 615.9H1301.0V640.9H1298.1ZM1301.0 615.9H1303.9V640.9H1301.0ZM1303.9 622.4H1306.8V640.2H1303.9ZM1306.8 618.5H1309.7V641.8H1306.8ZM1309.7 618.5H1312.6V642.3H1309.7ZM1312.6 617.0H1315.5V644.6H1312.6ZM1315.5 617.0H1318.4V644.6H1315.5ZM1318.4 620.7H1321.3V640.0H1318.4ZM1321.3 620.7H1324.2V640.0H1321.3ZM1324.2 622.9H1327.1V640.6H1324.2ZM1327.1 624.4H1330.0V640.6H1327.1ZM1330.0 620.1H1332.9V642.5H1330.0ZM1332.9 620.1H1335.8V643.4H1332.9ZM1335.8 624.4H1338.7V643.4H1335.8ZM1338.7 624.4H1341.6V643.8H1338.7ZM1341.6 626.7H1344.5V647.0H1341.6ZM1344.5 632.3H1347.4V649.1H1344.5ZM1347.4 623.3H1350.3V649.9H1347.4ZM1350.3 623.3H1353.2V649.9H1350.3ZM1353.2 627.6H1356.1V639.7H1353.2ZM1356.1 627.6H1359.0V644.1H1356.1ZM1359.0 628.8H1361.9V646.3H1359.0ZM1361.9 628.8H1364.8V654.0H1361.9ZM1364.8 636.4H1367.7V654.0H1364.8ZM1367.7 636.2H1370.6V653.9H1367.7ZM1370.6 636.2H1373.5V653.9H1370.6ZM1373.5 634.6H1376.4V653.1H1373.5ZM1376.4 634.6H1379.3V653.1H1376.4ZM1379.3 634.9H1382.2V652.1H1379.3ZM1382.2 635.8H1385.1V652.6H1382.2ZM1385.1 635.8H1388.0V652.6H1385.1ZM1388.0 637.5H1390.9V652.5H1388.0ZM1390.9 637.6H1393.8V652.5H1390.9ZM1393.8 639.4H1396.7V652.5H1393.8ZM1396.7 636.9H1399.6V656.1H1396.7ZM1399.6 633.8H1402.5V656.1H1399.6ZM1402.5 633.8H1405.4V653.1H1402.5ZM1405.4 632.4H1408.3V653.1H1405.4ZM1408.3 632.4H1411.2V652.2H1408.3ZM1411.2 641.1H1414.1V655.0H1411.2ZM1414.1 641.7H1417.0V656.8H1414.1ZM1417.0 641.4H1419.9V656.8H1417.0ZM1419.9 641.4H1422.8V653.4H1419.9ZM1422.8 643.4H1425.7V652.9H1422.8ZM1425.7 645.2H1428.6V656.5H1425.7ZM1428.6 642.6H1431.5V659.2H1428.6ZM1431.5 642.6H1434.4V659.2H1431.5ZM1434.4 642.3H1437.3V656.2H1434.4ZM1437.3 642.3H1440.2V656.7H1437.3ZM1440.2 642.6H1443.1V659.9H1440.2ZM1443.1 642.7H1446.0V659.9H1443.1ZM1446.0 644.9H1448.9V659.3H1446.0ZM1448.9 649.8H1451.8V661.7H1448.9ZM1451.8 646.0H1454.7V666.2H1451.8ZM1454.7 646.0H1457.6V666.2H1454.7ZM1457.6 646.5H1460.5V658.5H1457.6ZM1460.5 645.3H1463.4V662.8H1460.5ZM1463.4 645.1H1466.3V662.8H1463.4ZM1466.3 645.1H1469.2V661.1H1466.3ZM1469.2 650.8H1472.1V661.9H1469.2ZM1472.1 650.0H1475.0V665.4H1472.1ZM1475.0 649.4H1477.9V665.4H1475.0ZM1477.9 648.8H1480.8V664.0H1477.9ZM1480.8 648.8H1483.7V664.6H1480.8ZM1483.7 649.7H1486.6V666.6H1483.7ZM1486.6 645.7H1489.5V666.8H1486.6ZM1489.5 645.7H1492.4V669.7H1489.5ZM1492.4 651.6H1495.3V671.3H1492.4ZM1495.3 651.6H1498.2V671.3H1495.3ZM1498.2 648.2H1501.1V665.2H1498.2ZM1501.1 648.2H1504.0V665.4H1501.1ZM1504.0 655.7H1506.9V669.9H1504.0ZM1506.9 657.7H1509.8V669.9H1506.9ZM1509.8 658.6H1512.7V668.6H1509.8ZM1512.7 657.4H1515.6V667.4H1512.7ZM1515.6 655.7H1518.5V668.1H1515.6ZM1518.5 655.3H1521.4V668.1H1518.5ZM1521.4 655.3H1524.3V671.5H1521.4ZM1524.3 654.6H1527.2V672.6H1524.3ZM1527.2 654.3H1530.1V672.8H1527.2ZM1530.1 654.3H1533.0V675.7H1530.1ZM1533.0 659.1H1535.9V675.7H1533.0ZM1535.9 657.3H1538.8V675.5H1535.9ZM1538.8 657.3H1541.7V676.0H1538.8ZM1541.7 659.5H1544.6V676.0H1541.7ZM1544.6 659.5H1547.5V675.1H1544.6ZM1547.5 661.3H1550.4V675.1H1547.5ZM1550.4 658.8H1553.3V670.8H1550.4ZM1553.3 658.8H1556.2V671.7H1553.3ZM1556.2 661.4H1559.1V676.3H1556.2ZM1559.1 660.5H1562.0V679.0H1559.1ZM1562.0 660.5H1564.9V679.0H1562.0ZM1564.9 660.7H1567.8V676.6H1564.9ZM1567.8 660.7H1570.7V679.6H1567.8ZM1570.7 660.8H1573.6V679.6H1570.7ZM1573.6 660.8H1576.5V675.9H1573.6ZM1576.5 655.4H1579.4V675.9H1576.5ZM1579.4 655.4H1582.3V673.0H1579.4ZM1582.3 661.6H1585.2V674.0H1582.3ZM1585.2 661.6H1588.1V674.0H1585.2ZM1588.1 661.8H1591.0V679.3H1588.1ZM1591.0 661.9H1593.9V679.7H1591.0ZM1593.9 664.5H1596.8V679.7H1593.9ZM1596.8 661.2H1599.7V677.7H1596.8ZM1599.7 661.2H1602.6V677.7H1599.7ZM1602.6 661.1H1605.5V678.1H1602.6ZM1605.5 661.1H1608.4V678.3H1605.5ZM1608.4 664.5H1611.3V678.3H1608.4ZM1611.3 660.1H1614.2V675.9H1611.3ZM1614.2 660.1H1617.1V678.4H1614.2ZM1617.1 664.8H1620.0V678.4H1617.1ZM1620.0 665.2H1622.9V677.9H1620.0ZM1622.9 664.7H1625.8V678.0H1622.9ZM1625.8 658.9H1628.7V678.0H1625.8ZM1628.7 658.9H1631.6V678.1H1628.7ZM1631.6 664.9H1634.5V678.1H1631.6ZM1634.5 664.9H1637.4V679.9H1634.5ZM1637.4 660.0H1640.3V679.9H1637.4ZM1640.3 660.0H1643.2V677.5H1640.3ZM1643.2 661.2H1646.1V678.4H1643.2ZM1646.1 659.6H1649.0V678.4H1646.1ZM1649.0 659.0H1651.9V683.0H1649.0ZM1651.9 659.0H1654.8V683.0H1651.9ZM1654.8 665.9H1657.7V678.9H1654.8ZM1657.7 665.9H1660.6V676.5H1657.7ZM1660.6 665.3H1663.5V676.5H1660.6ZM1663.5 665.3H1666.4V680.9H1663.5ZM1666.4 663.5H1669.3V680.9H1666.4ZM1669.3 663.5H1672.2V679.2H1669.3ZM1672.2 664.0H1675.1V681.9H1672.2ZM1675.1 663.4H1678.0V682.5H1675.1ZM1678.0 663.4H1680.9V682.8H1678.0ZM1680.9 666.1H1683.8V682.8H1680.9ZM1683.8 666.1H1686.7V679.6H1683.8ZM1686.7 664.5H1689.6V681.5H1686.7ZM1689.6 664.5H1692.5V682.5H1689.6ZM1692.5 665.1H1695.4V682.5H1692.5ZM1695.4 663.9H1698.3V679.6H1695.4ZM1698.3 663.9H1701.2V681.0H1698.3ZM1701.2 667.8H1704.1V682.0H1701.2ZM1704.1 667.2H1707.0V682.0H1704.1ZM1707.0 667.2H1709.9V680.8H1707.0ZM1709.9 667.7H1712.8V683.8H1709.9ZM1712.8 667.3H1715.7V683.8H1712.8ZM1715.7 667.3H1718.6V678.4H1715.7ZM1718.6 664.8H1721.5V677.5H1718.6ZM1721.5 664.8H1722.0V676.5H1721.5Z"/>
<path fill="#0000ff" d="M112.0 822.5H114.9V838.5H112.0ZM114.9 828.7H117.8V838.3H114.9ZM117.8 828.4H120.7V835.2H117.8ZM120.7 825.0H123.6V837.4H120.7ZM123.6 825.0H126.5V837.9H123.6ZM126.5 825.3H129.4V837.9H126.5ZM129.4 825.3H132.3V836.6H129.4ZM132.3 825.3H135.2V835.2H132.3ZM135.2 824.7H138.1V834.9H135.2ZM138.1 824.7H141.0V833.8H138.1ZM141.0 826.2H143.9V835.0H141.0ZM143.9 827.3H146.8V835.0H143.9ZM146.8 825.6H149.7V835.1H146.8ZM149.7 825.2H152.6V835.1H149.7ZM152.6 819.6H155.5V833.3H152.6ZM155.5 819.6H158.4V834.4H155.5ZM158.4 823.2H161.3V834.4H158.4ZM161.3 820.4H164.2V831.6H161.3ZM164.2 820.4H167.1V831.6H164.2ZM167.1 821.6H170.0V832.5H167.1ZM170.0 820.5H172.9V832.5H170.0ZM172.9 820.5H175.8V831.4H172.9ZM175.8 819.5H178.7V831.4H175.8ZM178.7 819.5H181.6V832.1H178.7ZM181.6 820.2H184.5V832.1H181.6ZM184.5 819.3H187.4V829.4H184.5ZM187.4 819.2H190.3V832.2H187.4ZM190.3 819.2H193.2V832.2H190.3ZM193.2 815.2H196.1V831.8H193.2ZM196.1 815.2H199.0V831.8H196.1ZM199.0 816.7H201.9V829.5H199.0ZM201.9 816.7H204.8V829.5H201.9ZM204.8 818.2H207.7V826.7H204.8ZM207.7 816.8H210.6V824.3H207.7ZM210.6 816.8H213.5V830.8H210.6ZM213.5 811.7H216.4V830.8H213.5ZM216.4 811.7H219.3V824.7H216.4ZM219.3 812.0H222.2V824.7H219.3ZM222.2 814.0H225.1V823.3H222.2ZM225.1 814.0H228.0V827.7H225.1ZM228.0 809.7H230.9V827.7H228.0ZM230.9 809.7H233.8V824.3H230.9ZM233.8 811.5H236.7V824.3H233.8ZM236.7 807.1H239.6V822.4H236.7ZM239.6 807.1H242.5V820.1H239.6ZM242.5 806.0H245.4V821.8H242.5ZM245.4 806.0H248.3V821.8H245.4ZM248.3 807.6H251.2V818.3H248.3ZM251.2 807.6H254.1V819.4H251.2ZM254.1 804.1H257.0V820.4H254.1ZM257.0 804.1H259.9V820.4H257.0ZM259.9 807.0H262.8V818.8H259.9ZM262.8 804.5H265.7V815.1H262.8ZM265.7 804.5H268.6V813.7H265.7ZM268.6 805.7H271.5V813.7H268.6ZM271.5 799.6H274.4V814.1H271.5ZM274.4 799.6H277.3V814.1H274.4ZM277.3 797.0H280.2V813.4H277.3ZM280.2 797.0H283.1V814.5H280.2ZM283.1 797.6H286.0V814.5H283.1ZM286.0 797.6H288.9V809.6H286.0ZM288.9 798.0H291.8V809.6H288.9ZM291.8 796.8H294.7V806.2H291.8ZM294.7 794.0H297.6V804.9H294.7ZM297.6 794.0H300.5V804.9H297.6ZM300.5 794.7H303.4V806.1H300.5ZM303.4 789.7H306.3V806.1H303.4ZM306.3 789.5H309.2V799.8H306.3ZM309.2 789.5H312.1V799.9H309.2ZM312.1 786.4H315.0V799.9H312.1ZM315.0 784.6H317.9V797.5H315.0ZM317.9 779.7H320.8V797.5H317.9ZM320.8 778.6H323.7V796.4H320.8ZM323.7 776.3H326.6V794.3H323.7ZM326.6 776.3H329.5V788.9H326.6ZM329.5 776.3H332.4V788.9H329.5ZM332.4 776.1H335.3V787.6H332.4ZM335.3 772.0H338.2V787.6H335.3ZM338.2 771.8H341.1V780.4H338.2ZM341.1 768.9H344.0V778.9H341.1ZM344.0 766.4H346.9V778.6H344.0ZM346.9 759.6H349.8V774.5H346.9ZM349.8 755.8H352.7V772.2H349.8ZM352.7 755.8H355.6V772.2H352.7ZM355.6 751.7H358.5V770.1H355.6ZM358.5 751.7H361.4V770.1H358.5ZM361.4 748.4H364.3V763.8H361.4ZM364.3 746.9H367.2V763.8H364.3ZM367.2 745.7H370.1V762.1H367.2ZM370.1 744.1H373.0V758.2H370.1ZM373.0 737.0H375.9V753.7H373.0ZM375.9 736.2H378.8V751.8H375.9ZM378.8 726.9H381.7V751.8H378.8ZM381.7 726.9H384.6V742.9H381.7ZM384.6 728.9H387.5V741.2H384.6ZM387.5 728.5H390.4V741.2H387.5ZM390.4 722.2H393.3V736.1H390.4ZM393.3 721.3H396.2V733.0H393.3ZM396.2 716.6H399.1V732.6H396.2ZM399.1 711.6H402.0V727.5H399.1ZM402.0 711.6H404.9V727.8H402.0ZM404.9 705.9H407.8V727.8H404.9ZM407.8 701.8H410.7V714.4H407.8ZM410.7 698.9H413.6V723.5H410.7ZM413.6 698.9H416.5V723.5H413.6ZM416.5 699.3H419.4V711.2H416.5ZM419.4 683.8H422.3V707.5H419.4ZM422.3 683.8H425.2V703.1H422.3ZM425.2 680.0H428.1V703.1H425.2ZM428.1 679.0H431.0V694.6H428.1ZM431.0 677.5H433.9V690.1H431.0ZM433.9 676.1H436.8V690.1H433.9ZM436.8 662.6H439.7V688.3H436.8ZM439.7 659.7H442.6V683.8H439.7ZM442.6 650.6H445.5V673.8H442.6ZM445.5 648.7H448.4V667.3H445.5ZM448.4 643.9H451.3V659.3H448.4ZM451.3 637.3H454.2V659.3H451.3ZM454.2 635.8H457.1V652.7H454.2ZM457.1 631.6H460.0V648.7H457.1ZM460.0 625.8H462.9V639.2H460.0ZM462.9 614.2H465.8V637.9H462.9ZM465.8 608.2H468.7V628.3H465.8ZM468.7 596.6H471.6V614.1H468.7ZM471.6 590.0H474.5V610.2H471.6ZM474.5 588.0H477.4V605.3H474.5ZM477.4 587.0H480.3V598.4H477.4ZM480.3 580.6H483.2V601.6H480.3ZM483.2 580.6H486.1V610.6H483.2ZM486.1 589.7H489.0V610.6H486.1ZM489.0 593.5H491.9V610.3H489.0ZM491.9 593.5H494.8V624.7H491.9ZM494.8 601.1H497.7V624.7H494.8ZM497.7 604.9H500.6V619.0H497.7ZM500.6 608.7H503.5V623.7H500.6ZM503.5 605.6H506.4V623.7H503.5ZM506.4 605.6H509.3V635.0H506.4ZM509.3 615.4H512.2V635.0H509.3ZM512.2 616.5H515.1V630.9H512.2ZM515.1 615.9H518.0V634.5H515.1ZM518.0 615.9H520.9V639.0H518.0ZM520.9 615.4H523.8V639.0H520.9ZM523.8 615.4H526.7V637.6H523.8ZM526.7 619.8H529.6V639.6H526.7ZM529.6 626.6H532.5V639.6H529.6ZM532.5 619.6H535.4V637.1H532.5ZM535.4 619.6H538.3V640.2H535.4ZM538.3 624.5H541.2V646.3H538.3ZM541.2 621.9H544.1V646.3H541.2ZM544.1 621.9H547.0V645.6H544.1ZM547.0 631.8H549.9V649.8H547.0ZM549.9 632.2H552.8V649.8H549.9ZM552.8 631.7H555.7V650.2H552.8ZM555.7 631.7H558.6V655.6H555.7ZM558.6 636.7H561.5V656.4H558.6ZM561.5 636.7H564.4V656.4H561.5ZM564.4 640.3H567.3V651.9H564.4ZM567.3 640.3H570.2V657.8H567.3ZM570.2 643.9H573.1V658.2H570.2ZM573.1 644.2H576.0V660.3H573.1ZM576.0 642.4H578.9V660.3H576.0ZM578.9 642.4H581.8V666.9H578.9ZM581.8 646.2H584.7V666.9H581.8ZM584.7 646.2H587.6V662.3H584.7ZM587.6 649.5H590.5V668.1H587.6ZM590.5 646.5H593.4V668.1H590.5ZM593.4 646.5H596.3V672.2H593.4ZM596.3 648.9H599.2V672.2H596.3ZM599.2 648.9H602.1V662.4H599.2ZM602.1 644.3H605.0V666.5H602.1ZM605.0 641.8H607.9V670.9H605.0ZM607.9 641.8H610.8V670.9H607.9ZM610.8 643.2H613.7V667.3H610.8ZM613.7 643.2H616.6V672.0H613.7ZM616.6 652.1H619.5V672.0H616.6ZM619.5 647.7H622.4V674.6H619.5ZM622.4 646.6H625.3V674.6H622.4ZM625.3 646.6H628.2V664.7H625.3ZM628.2 645.6H631.1V670.6H628.2ZM631.1 645.6H634.0V670.6H631.1ZM634.0 642.6H636.9V669.2H634.0ZM636.9 642.6H639.8V668.9H636.9ZM639.8 643.3H642.7V668.3H639.8ZM642.7 643.3H645.6V668.3H642.7ZM645.6 648.2H648.5V666.0H645.6ZM648.5 648.2H651.4V668.3H648.5ZM651.4 651.5H654.3V670.1H651.4ZM654.3 651.5H657.2V670.1H654.3ZM657.2 652.0H660.1V669.1H657.2ZM660.1 652.0H663.0V669.1H660.1ZM663.0 655.0H665.9V668.8H663.0ZM665.9 652.8H668.8V672.4H665.9ZM668.8 652.8H671.7V672.4H668.8ZM671.7 646.1H674.6V662.7H671.7ZM674.6 646.1H677.5V665.8H674.6ZM677.5 650.1H680.4V680.8H677.5ZM680.4 650.1H683.3V680.8H680.4ZM683.3 646.8H686.2V676.7H683.3ZM686.2 646.8H689.1V670.2H686.2ZM689.1 649.9H692.0V670.9H689.1ZM692.0 653.0H694.9V670.9H692.0ZM694.9 652.5H697.8V665.3H694.9ZM697.8 651.7H700.7V666.2H697.8ZM700.7 651.7H703.6V666.2H700.7ZM703.6 651.8H706.5V670.6H703.6ZM706.5 646.8H709.4V670.6H706.5ZM709.4 646.8H712.3V670.6H709.4ZM712.3 650.2H715.2V681.1H712.3ZM715.2 652.4H718.1V681.1H715.2ZM718.1 648.4H721.0V676.4H718.1ZM721.0 648.4H723.9V680.6H721.0ZM723.9 651.0H726.8V680.6H723.9ZM726.8 650.8H729.7V670.0H726.8ZM729.7 650.8H732.6V674.2H729.7ZM732.6 647.1H735.5V675.8H732.6ZM735.5 647.1H738.4V675.8H735.5ZM738.4 649.8H741.3V673.7H738.4ZM741.3 654.2H744.2V673.7H741.3ZM744.2 654.2H747.1V673.7H744.2ZM747.1 654.9H750.0V673.1H747.1ZM750.0 650.9H752.9V673.1H750.0ZM752.9 650.9H755.8V670.5H752.9ZM755.8 653.4H758.7V670.7H755.8ZM758.7 653.0H761.6V673.9H758.7ZM761.6 653.0H764.5V673.9H761.6ZM764.5 655.9H767.4V673.3H764.5ZM767.4 653.2H770.3V672.3H767.4ZM770.3 653.2H773.2V670.2H770.3ZM773.2 646.0H776.1V670.2H773.2ZM776.1 646.0H779.0V666.9H776.1ZM779.0 653.1H781.9V669.8H779.0ZM781.9 655.1H784.8V677.3H781.9ZM784.8 650.0H787.7V677.3H784.8ZM787.7 647.8H790.6V667.9H787.7ZM790.6 647.8H793.5V670.4H790.6ZM793.5 647.0H796.4V673.9H793.5ZM796.4 647.0H799.3V673.9H796.4ZM799.3 652.8H802.2V671.7H799.3ZM802.2 653.6H805.1V672.1H802.2ZM805.1 645.3H808.0V672.1H805.1ZM808.0 645.3H810.9V667.9H808.0ZM810.9 651.1H813.8V666.6H810.9ZM813.8 651.1H816.7V666.4H813.8ZM816.7 653.5H819.6V671.3H816.7ZM819.6 651.7H822.5V671.3H819.6ZM822.5 651.7H825.4V669.1H822.5ZM825.4 646.1H828.3V669.1H825.4ZM828.3 646.1H831.2V669.6H828.3ZM831.2 644.5H834.1V669.6H831.2ZM834.1 644.5H837.0V666.9H834.1ZM837.0 650.7H839.9V666.9H837.0ZM839.9 648.9H842.8V668.3H839.9ZM842.8 647.6H845.7V668.3H842.8ZM845.7 647.6H848.6V675.1H845.7ZM848.6 650.9H851.5V675.1H848.6ZM851.5 648.8H854.4V667.8H851.5ZM854.4 648.2H857.3V668.4H854.4ZM857.3 648.2H860.2V668.4H857.3ZM860.2 654.0H863.1V673.9H860.2ZM863.1 654.0H866.0V679.3H863.1ZM866.0 655.5H868.9V679.3H866.0ZM868.9 643.7H871.8V677.4H868.9ZM871.8 643.7H874.7V684.5H871.8ZM874.7 649.5H877.6V684.5H874.7ZM877.6 649.5H880.5V676.3H877.6ZM880.5 657.6H883.4V670.6H880.5ZM883.4 661.9H886.3V670.6H883.4ZM886.3 661.3H889.2V672.6H886.3ZM889.2 661.3H892.1V672.6H889.2ZM892.1 654.9H895.0V672.5H892.1ZM895.0 654.9H897.9V679.8H895.0ZM897.9 661.4H900.8V679.8H897.9ZM900.8 660.3H903.7V685.3H900.8ZM903.7 660.3H906.6V685.3H903.7ZM906.6 664.7H909.5V688.7H906.6ZM909.5 667.8H912.4V688.7H909.5ZM912.4 669.0H915.3V684.5H912.4ZM915.3 671.8H918.2V687.8H915.3ZM918.2 671.8H921.1V687.8H918.2ZM921.1 671.0H924.0V685.6H921.1ZM924.0 671.0H926.9V686.7H924.0ZM926.9 675.8H929.8V696.0H926.9ZM929.8 675.7H932.7V696.0H929.8ZM932.7 675.7H935.6V693.6H932.7ZM935.6 676.6H938.5V693.6H935.6ZM938.5 683.9H941.4V707.2H938.5ZM941.4 681.5H944.3V707.2H941.4ZM944.3 680.9H947.2V693.6H944.3ZM947.2 680.9H950.1V694.3H947.2ZM950.1 677.9H953.0V700.3H950.1ZM953.0 677.9H955.9V700.3H953.0ZM955.9 684.2H958.8V699.0H955.9ZM958.8 684.3H961.7V703.2H958.8ZM961.7 686.4H964.6V708.2H961.7ZM964.6 686.4H967.5V708.2H964.6ZM967.5 691.6H970.4V710.5H967.5ZM970.4 691.6H973.3V714.2H970.4ZM973.3 694.6H976.2V714.2H973.3ZM976.2 690.3H979.1V710.5H976.2ZM979.1 690.3H982.0V713.7H979.1ZM982.0 698.6H984.9V715.4H982.0ZM984.9 697.4H987.8V722.4H984.9ZM987.8 697.4H990.7V722.4H987.8ZM990.7 697.5H993.6V725.8H990.7ZM993.6 697.5H996.5V725.8H993.6ZM996.5 706.2H999.4V721.6H996.5ZM999.4 705.2H1002.3V721.6H999.4ZM1002.3 705.2H1005.2V720.1H1002.3ZM1005.2 708.1H1008.1V726.6H1005.2ZM1008.1 704.5H1011.0V726.6H1008.1ZM1011.0 704.5H1013.9V721.0H1011.0ZM1013.9 704.9H1016.8V727.4H1013.9ZM1016.8 704.9H1019.7V727.4H1016.8ZM1019.7 713.2H1022.6V731.0H1019.7ZM1022.6 712.0H1025.5V731.0H1022.6ZM1025.5 712.0H1028.4V727.4H1025.5ZM1028.4 709.5H1031.3V727.4H1028.4ZM1031.3 708.4H1034.2V731.7H1031.3ZM1034.2 707.7H1037.1V731.7H1034.2ZM1037.1 707.7H1040.0V726.5H1037.1ZM1040.0 714.6H1042.9V730.1H1040.0ZM1042.9 717.1H1045.8V733.2H1042.9ZM1045.8 710.1H1048.7V733.2H1045.8ZM1048.7 710.1H1051.6V730.8H1048.7ZM1051.6 714.6H1054.5V735.0H1051.6ZM1054.5 714.8H1057.4V735.0H1054.5ZM1057.4 714.8H1060.3V732.2H1057.4ZM1060.3 718.4H1063.2V736.1H1060.3ZM1063.2 720.2H1066.1V736.1H1063.2ZM1066.1 720.2H1069.0V736.1H1066.1ZM1069.0 721.6H1071.9V744.1H1069.0ZM1071.9 721.6H1074.8V744.1H1071.9ZM1074.8 723.0H1077.7V740.9H1074.8ZM1077.7 721.0H1080.6V740.9H1077.7ZM1080.6 721.0H1083.5V739.4H1080.6ZM1083.5 722.3H1086.4V738.1H1083.5ZM1086.4 724.3H1089.3V740.6H1086.4ZM1089.3 724.3H1092.2V740.6H1089.3ZM1092.2 727.1H1095.1V743.9H1092.2ZM1095.1 727.1H1098.0V743.9H1095.1ZM1098.0 729.1H1100.9V748.5H1098.0ZM1100.9 731.9H1103.8V749.9H1100.9ZM1103.8 733.3H1106.7V749.9H1103.8ZM1106.7 727.9H1109.6V747.9H1106.7ZM1109.6 727.9H1112.5V747.5H1109.6ZM1112.5 729.4H1115.4V749.2H1112.5ZM1115.4 729.4H1118.3V749.2H1115.4ZM1118.3 732.0H1121.2V748.1H1118.3ZM1121.2 732.0H1124.1V754.2H1121.2ZM1124.1 727.1H1127.0V754.2H1124.1ZM1127.0 727.1H1129.9V751.8H1127.0ZM1129.9 730.6H1132.8V753.0H1129.9ZM1132.8 730.6H1135.7V753.6H1132.8ZM1135.7 733.7H1138.6V753.6H1135.7ZM1138.6 732.4H1141.5V749.0H1138.6ZM1141.5 732.4H1144.4V752.1H1141.5ZM1144.4 732.6H1147.3V755.2H1144.4ZM1147.3 734.7H1150.2V755.2H1147.3ZM1150.2 734.7H1153.1V752.5H1150.2ZM1153.1 737.8H1156.0V752.5H1153.1ZM1156.0 737.5H1158.9V755.7H1156.0ZM1158.9 737.5H1161.8V755.7H1158.9ZM1161.8 740.8H1164.7V757.7H1161.8ZM1164.7 737.0H1167.6V757.7H1164.7ZM1167.6 737.0H1170.5V752.1H1167.6ZM1170.5 737.5H1173.4V755.0H1170.5ZM1173.4 737.9H1176.3V756.5H1173.4ZM1176.3 737.9H1179.2V756.5H1176.3ZM1179.2 739.8H1182.1V755.9H1179.2ZM1182.1 739.8H1185.0V761.7H1182.1ZM1185.0 744.0H1187.9V761.7H1185.0ZM1187.9 741.3H1190.8V759.3H1187.9ZM1190.8 741.3H1193.7V757.1H1190.8ZM1193.7 740.9H1196.6V754.3H1193.7ZM1196.6 740.9H1199.5V758.9H1196.6ZM1199.5 741.1H1202.4V767.0H1199.5ZM1202.4 739.8H1205.3V767.0H1202.4ZM1205.3 739.8H1208.2V757.8H1205.3ZM1208.2 747.2H1211.1V757.8H1208.2ZM1211.1 745.8H1214.0V758.0H1211.1ZM1214.0 738.3H1216.9V758.0H1214.0ZM1216.9 738.3H1219.8V759.9H1216.9ZM1219.8 736.8H1222.7V759.9H1219.8ZM1222.7 736.8H1225.6V759.4H1222.7ZM1225.6 739.4H1228.5V759.8H1225.6ZM1228.5 740.2H1231.4V761.8H1228.5ZM1231.4 740.2H1234.3V761.8H1231.4ZM1234.3 741.6H1237.2V763.0H1234.3ZM1237.2 741.6H1240.1V763.0H1237.2ZM1240.1 742.9H1243.0V759.2H1240.1ZM1243.0 742.9H1245.9V763.9H1243.0ZM1245.9 748.7H1248.8V763.9H1245.9ZM1248.8 743.9H1251.7V766.6H1248.8ZM1251.7 743.9H1254.6V766.6H1251.7ZM1254.6 745.6H1257.5V757.5H1254.6ZM1257.5 746.8H1260.4V774.3H1257.5ZM1260.4 748.5H1263.3V774.3H1260.4ZM1263.3 748.3H1266.2V762.1H1263.3ZM1266.2 748.3H1269.1V761.0H1266.2ZM1269.1 750.7H1272.0V762.5H1269.1ZM1272.0 743.6H1274.9V762.5H1272.0ZM1274.9 743.6H1277.8V763.3H1274.9ZM1277.8 747.1H1280.7V763.3H1277.8ZM1280.7 747.1H1283.6V763.1H1280.7ZM1283.6 748.3H1286.5V761.4H1283.6ZM1286.5 746.1H1289.4V765.0H1286.5ZM1289.4 746.1H1292.3V765.0H1289.4ZM1292.3 745.8H1295.2V764.8H1292.3ZM1295.2 745.8H1298.1V761.9H1295.2ZM1298.1 740.0H1301.0V765.1H1298.1ZM1301.0 740.0H1303.9V765.1H1301.0ZM1303.9 750.4H1306.8V764.0H1303.9ZM1306.8 750.5H1309.7V765.4H1306.8ZM1309.7 745.2H1312.6V765.4H1309.7ZM1312.6 745.2H1315.5V764.6H1312.6ZM1315.5 746.3H1318.4V766.2H1315.5ZM1318.4 746.3H1321.3V766.2H1318.4ZM1321.3 749.2H1324.2V768.9H1321.3ZM1324.2 749.8H1327.1V768.9H1324.2ZM1327.1 749.8H1330.0V768.0H1327.1ZM1330.0 739.4H1332.9V774.9H1330.0ZM1332.9 739.4H1335.8V774.9H1332.9ZM1335.8 750.6H1338.7V768.0H1335.8ZM1338.7 752.9H1341.6V772.5H1338.7ZM1341.6 752.9H1344.5V772.5H1341.6ZM1344.5 753.0H1347.4V766.6H1344.5ZM1347.4 751.6H1350.3V765.9H1347.4ZM1350.3 750.2H1353.2V771.2H1350.3ZM1353.2 750.2H1356.1V772.2H1353.2ZM1356.1 756.3H1359.0V772.2H1356.1ZM1359.0 748.3H1361.9V772.2H1359.0ZM1361.9 748.3H1364.8V766.1H1361.9ZM1364.8 754.9H1367.7V770.4H1364.8ZM1367.7 754.9H1370.6V770.4H1367.7ZM1370.6 754.4H1373.5V770.6H1370.6ZM1373.5 754.4H1376.4V770.6H1373.5ZM1376.4 752.7H1379.3V770.3H1376.4ZM1379.3 752.7H1382.2V771.8H1379.3ZM1382.2 762.9H1385.1V771.8H1382.2ZM1385.1 761.0H1388.0V770.8H1385.1ZM1388.0 760.1H1390.9V774.3H1388.0ZM1390.9 757.6H1393.8V774.3H1390.9ZM1393.8 756.9H1396.7V772.0H1393.8ZM1396.7 756.9H1399.6V772.7H1396.7ZM1399.6 761.1H1402.5V774.8H1399.6ZM1402.5 761.1H1405.4V777.6H1402.5ZM1405.4 762.5H1408.3V781.6H1405.4ZM1408.3 759.4H1411.2V781.6H1408.3ZM1411.2 759.0H1414.1V777.8H1411.2ZM1414.1 759.0H1417.0V782.7H1414.1ZM1417.0 760.0H1419.9V782.7H1417.0ZM1419.9 760.0H1422.8V781.5H1419.9ZM1422.8 767.4H1425.7V782.8H1422.8ZM1425.7 767.4H1428.6V784.7H1425.7ZM1428.6 764.1H1431.5V784.7H1428.6ZM1431.5 764.1H1434.4V779.9H1431.5ZM1434.4 766.1H1437.3V779.9H1434.4ZM1437.3 767.5H1440.2V782.4H1437.3ZM1440.2 770.4H1443.1V782.4H1440.2ZM1443.1 765.2H1446.0V783.7H1443.1ZM1446.0 765.2H1448.9V785.0H1446.0ZM1448.9 759.9H1451.8V785.0H1448.9ZM1451.8 759.9H1454.7V783.9H1451.8ZM1454.7 771.5H1457.6V785.7H1454.7ZM1457.6 770.2H1460.5V785.7H1457.6ZM1460.5 770.0H1463.4V783.6H1460.5ZM1463.4 770.0H1466.3V786.2H1463.4ZM1466.3 768.0H1469.2V786.2H1466.3ZM1469.2 768.0H1472.1V787.8H1469.2ZM1472.1 765.4H1475.0V787.8H1472.1ZM1475.0 765.4H1477.9V790.2H1475.0ZM1477.9 769.3H1480.8V790.2H1477.9ZM1480.8 771.5H1483.7V788.4H1480.8ZM1483.7 770.4H1486.6V788.4H1483.7ZM1486.6 770.4H1489.5V792.0H1486.6ZM1489.5 772.0H1492.4V792.0H1489.5ZM1492.4 772.0H1495.3V788.8H1492.4ZM1495.3 771.9H1498.2V785.9H1495.3ZM1498.2 771.9H1501.1V786.4H1498.2ZM1501.1 774.9H1504.0V791.1H1501.1ZM1504.0 772.5H1506.9V791.1H1504.0ZM1506.9 771.1H1509.8V793.5H1506.9ZM1509.8 771.1H1512.7V793.5H1509.8ZM1512.7 771.4H1515.6V789.1H1512.7ZM1515.6 771.4H1518.5V789.7H1515.6ZM1518.5 774.4H1521.4V789.7H1518.5ZM1521.4 767.2H1524.3V788.8H1521.4ZM1524.3 767.2H1527.2V792.7H1524.3ZM1527.2 773.2H1530.1V792.7H1527.2ZM1530.1 777.5H1533.0V789.1H1530.1ZM1533.0 777.5H1535.9V789.1H1533.0ZM1535.9 772.8H1538.8V787.9H1535.9ZM1538.8 772.8H1541.7V787.9H1538.8ZM1541.7 775.6H1544.6V790.0H1541.7ZM1544.6 775.6H1547.5V790.0H1544.6ZM1547.5 776.1H1550.4V791.7H1547.5ZM1550.4 776.1H1553.3V793.3H1550.4ZM1553.3 779.7H1556.2V797.1H1553.3ZM1556.2 775.8H1559.1V797.1H1556.2ZM1559.1 771.9H1562.0V797.3H1559.1ZM1562.0 771.9H1564.9V797.3H1562.0ZM1564.9 777.0H1567.8V795.2H1564.9ZM1567.8 777.0H1570.7V793.7H1567.8ZM1570.7 778.6H1573.6V798.3H1570.7ZM1573.6 779.9H1576.5V798.3H1573.6ZM1576.5 779.7H1579.4V793.1H1576.5ZM1579.4 776.0H1582.3V793.9H1579.4ZM1582.3 776.0H1585.2V795.5H1582.3ZM1585.2 784.9H1588.1V802.8H1585.2ZM1588.1 784.6H1591.0V802.8H1588.1ZM1591.0 783.9H1593.9V800.1H1591.0ZM1593.9 783.9H1596.8V800.0H1593.9ZM1596.8 786.2H1599.7V800.0H1596.8ZM1599.7 786.2H1602.6V798.2H1599.7ZM1602.6 787.9H1605.5V801.6H1602.6ZM1605.5 787.5H1608.4V801.6H1605.5ZM1608.4 787.5H1611.3V800.0H1608.4ZM1611.3 787.5H1614.2V804.5H1611.3ZM1614.2 787.5H1617.1V804.5H1614.2ZM1617.1 789.9H1620.0V800.8H1617.1ZM1620.0 789.3H1622.9V802.4H1620.0ZM1622.9 786.7H1625.8V802.4H1622.9ZM1625.8 786.7H1628.7V801.4H1625.8ZM1628.7 788.1H1631.6V801.4H1628.7ZM1631.6 787.7H1634.5V798.2H1631.6ZM1634.5 783.7H1637.4V798.0H1634.5ZM1637.4 782.5H1640.3V801.7H1637.4ZM1640.3 782.5H1643.2V801.7H1640.3ZM1643.2 786.4H1646.1V805.4H1643.2ZM1646.1 785.8H1649.0V805.4H1646.1ZM1649.0 785.8H1651.9V804.6H1649.0ZM1651.9 787.9H1654.8V802.5H1651.9ZM1654.8 788.3H1657.7V802.5H1654.8ZM1657.7 789.7H1660.6V799.1H1657.7ZM1660.6 789.7H1663.5V803.2H1660.6ZM1663.5 784.5H1666.4V803.2H1663.5ZM1666.4 784.5H1669.3V798.3H1666.4ZM1669.3 787.7H1672.2V799.0H1669.3ZM1672.2 787.7H1675.1V801.0H1672.2ZM1675.1 784.1H1678.0V802.5H1675.1ZM1678.0 784.1H1680.9V802.5H1678.0ZM1680.9 784.7H1683.8V800.1H1680.9ZM1683.8 785.9H1686.7V800.8H1683.8ZM1686.7 789.3H1689.6V806.3H1686.7ZM1689.6 786.5H1692.5V806.7H1689.6ZM1692.5 786.5H1695.4V806.7H1692.5ZM1695.4 789.1H1698.3V806.2H1695.4ZM1698.3 787.4H1701.2V802.5H1698.3ZM1701.2 787.4H1704.1V808.6H1701.2ZM1704.1 787.4H1707.0V808.6H1704.1ZM1707.0 787.4H1709.9V807.7H1707.0ZM1709.9 788.0H1712.8V803.0H1709.9ZM1712.8 792.0H1715.7V803.0H1712.8ZM1715.7 789.4H1718.6V804.6H1715.7ZM1718.6 787.9H1721.5V807.9H1718.6ZM1721.5 787.9H1722.0V807.9H1721.5Z"/>
<path fill="#ff00ff" d="M112.0 921.2H114.9V936.5H112.0ZM114.9 921.2H117.8V940.1H114.9ZM117.8 926.4H120.7V940.2H117.8ZM120.7 922.4H123.6V940.2H120.7ZM123.6 922.4H126.5V936.7H123.6ZM126.5 923.0H129.4V933.1H126.5ZM129.4 923.0H132.3V933.4H129.4ZM132.3 923.8H135.2V933.7H132.3ZM135.2 923.8H138.1V935.2H135.2ZM138.1 923.4H141.0V935.2H138.1ZM141.0 922.7H143.9V934.1H141.0ZM143.9 922.7H146.8V932.9H143.9ZM146.8 921.1H149.7V932.6H146.8ZM149.7 921.1H152.6V931.3H149.7ZM152.6 921.7H155.5V931.3H152.6ZM155.5 920.5H158.4V931.9H155.5ZM158.4 920.5H161.3V931.9H158.4ZM161.3 917.5H164.2V930.7H161.3ZM164.2 917.5H167.1V930.7H164.2ZM167.1 917.2H170.0V930.6H167.1ZM170.0 917.2H172.9V930.6H170.0ZM172.9 918.4H175.8V928.5H172.9ZM175.8 920.9H178.7V929.3H175.8ZM178.7 916.8H181.6V929.4H178.7ZM181.6 916.8H184.5V929.4H181.6ZM184.5 917.9H187.4V927.1H184.5ZM187.4 918.5H190.3V929.2H187.4ZM190.3 918.9H193.2V929.2H190.3ZM193.2 918.2H196.1V927.0H193.2ZM196.1 915.5H199.0V927.0H196.1ZM199.0 913.3H201.9V924.8H199.0ZM201.9 913.3H204.8V924.6H201.9ZM204.8 912.3H207.7V925.2H204.8ZM207.7 912.3H210.6V925.2H207.7ZM210.6 913.0H213.5V925.4H210.6ZM213.5 911.5H216.4V926.0H213.5ZM216.4 911.5H219.3V926.0H216.4ZM219.3 910.7H222.2V927.1H219.3ZM222.2 910.7H225.1V927.1H222.2ZM225.1 909.7H228.0V922.5H225.1ZM228.0 909.7H230.9V922.5H228.0ZM230.9 909.2H233.8V922.0H230.9ZM233.8 909.2H236.7V921.6H233.8ZM236.7 910.9H239.6V921.6H236.7ZM239.6 905.8H242.5V923.5H239.6ZM242.5 905.8H245.4V923.5H242.5ZM245.4 910.0H248.3V920.2H245.4ZM248.3 909.1H251.2V921.1H248.3ZM251.2 905.4H254.1V921.1H251.2ZM254.1 905.4H257.0V917.2H254.1ZM257.0 906.8H259.9V917.2H257.0ZM259.9 907.5H262.8V917.2H259.9ZM262.8 904.1H265.7V917.2H262.8ZM265.7 904.0H268.6V918.4H265.7ZM268.6 903.5H271.5V918.4H268.6ZM271.5 903.4H274.4V914.2H271.5ZM274.4 903.4H277.3V915.3H274.4ZM277.3 900.3H280.2V915.3H277.3ZM280.2 900.0H283.1V911.4H280.2ZM283.1 900.0H286.0V908.2H283.1ZM286.0 900.9H288.9V909.9H286.0ZM288.9 899.7H291.8V910.3H288.9ZM291.8 897.5H294.7V910.3H291.8ZM294.7 897.2H297.6V908.6H294.7ZM297.6 894.6H300.5V907.8H297.6ZM300.5 890.8H303.4V907.8H300.5ZM303.4 888.1H306.3V904.9H303.4ZM306.3 888.1H309.2V902.9H306.3ZM309.2 884.3H312.1V903.9H309.2ZM312.1 884.3H315.0V903.9H312.1ZM315.0 882.2H317.9V896.5H315.0ZM317.9 882.2H320.8V896.5H317.9ZM320.8 879.9H323.7V893.2H320.8ZM323.7 879.9H326.6V890.6H323.7ZM326.6 875.7H329.5V886.8H326.6ZM329.5 874.4H332.4V888.8H329.5ZM332.4 870.0H335.3V888.8H332.4ZM335.3 870.0H338.2V883.9H335.3ZM338.2 867.5H341.1V882.2H338.2ZM341.1 867.5H344.0V882.2H341.1ZM344.0 861.9H346.9V875.6H344.0ZM346.9 861.9H349.8V873.0H346.9ZM349.8 862.3H352.7V874.8H349.8ZM352.7 856.9H355.6V874.8H352.7ZM355.6 856.2H358.5V866.5H355.6ZM358.5 853.4H361.4V868.1H358.5ZM361.4 850.1H364.3V868.1H361.4ZM364.3 845.5H367.2V863.6H364.3ZM367.2 845.5H370.1V858.9H367.2ZM370.1 845.6H373.0V858.9H370.1ZM373.0 838.5H375.9V852.8H373.0ZM375.9 838.5H378.8V848.8H375.9ZM378.8 833.1H381.7V854.0H378.8ZM381.7 833.1H384.6V854.0H381.7ZM384.6 823.3H387.5V846.2H384.6ZM387.5 823.3H390.4V841.8H387.5ZM390.4 826.1H393.3V840.5H390.4ZM393.3 823.6H396.2V840.5H393.3ZM396.2 822.4H399.1V836.1H396.2ZM399.1 815.6H402.0V836.1H399.1ZM402.0 810.0H404.9V833.9H402.0ZM404.9 807.4H407.8V829.8H404.9ZM407.8 807.4H410.7V824.9H407.8ZM410.7 804.5H413.6V824.9H410.7ZM413.6 802.0H416.5V820.8H413.6ZM416.5 802.0H419.4V820.8H416.5ZM419.4 798.1H422.3V817.1H419.4ZM422.3 794.3H425.2V814.5H422.3ZM425.2 790.9H428.1V809.8H425.2ZM428.1 790.9H431.0V808.1H428.1ZM431.0 791.4H433.9V802.0H431.0ZM433.9 781.8H436.8V802.0H433.9ZM436.8 781.8H439.7V798.5H436.8ZM439.7 772.8H442.6V799.9H439.7ZM442.6 772.8H445.5V799.9H442.6ZM445.5 774.3H448.4V787.5H445.5ZM448.4 767.4H451.3V787.4H448.4ZM451.3 767.4H454.2V786.9H451.3ZM454.2 764.9H457.1V780.3H454.2ZM457.1 758.4H460.0V771.7H457.1ZM460.0 758.4H462.9V772.6H460.0ZM462.9 746.7H465.8V773.5H462.9ZM465.8 746.7H468.7V773.5H465.8ZM468.7 749.0H471.6V763.3H468.7ZM471.6 742.5H474.5V765.1H471.6ZM474.5 742.5H477.4V766.5H474.5ZM477.4 740.1H480.3V766.5H477.4ZM480.3 740.1H483.2V765.0H480.3ZM483.2 746.0H486.1V765.0H483.2ZM486.1 740.6H489.0V761.4H486.1ZM489.0 740.6H491.9V761.4H489.0ZM491.9 741.9H494.8V758.2H491.9ZM494.8 734.4H497.7V762.4H494.8ZM497.7 734.4H500.6V762.4H497.7ZM500.6 742.0H503.5V766.4H500.6ZM503.5 742.0H506.4V766.4H503.5ZM506.4 740.0H509.3V769.7H506.4ZM509.3 735.0H512.2V769.7H509.3ZM512.2 735.0H515.1V759.5H512.2ZM515.1 740.1H518.0V758.0H515.1ZM518.0 740.1H520.9V763.6H518.0ZM520.9 747.2H523.8V763.6H520.9ZM523.8 747.2H526.7V765.6H523.8ZM526.7 747.6H529.6V765.6H526.7ZM529.6 739.0H532.5V762.7H529.6ZM532.5 739.0H535.4V767.3H532.5ZM535.4 746.3H538.3V769.8H535.4ZM538.3 747.6H541.2V769.8H538.3ZM541.2 750.6H544.1V772.8H541.2ZM544.1 747.7H547.0V772.8H544.1ZM547.0 745.7H549.9V765.8H547.0ZM549.9 737.9H552.8V763.6H549.9ZM552.8 737.9H555.7V768.8H552.8ZM555.7 743.7H558.6V768.8H555.7ZM558.6 743.7H561.5V762.7H558.6ZM561.5 744.0H564.4V765.1H561.5ZM564.4 746.4H567.3V765.1H564.4ZM567.3 745.6H570.2V763.5H567.3ZM570.2 745.6H573.1V763.5H570.2ZM573.1 746.9H576.0V767.3H573.1ZM576.0 745.8H578.9V767.3H576.0ZM578.9 745.8H581.8V766.1H578.9ZM581.8 749.2H584.7V765.0H581.8ZM584.7 749.4H587.6V767.0H584.7ZM587.6 748.3H590.5V768.5H587.6ZM590.5 747.4H593.4V771.6H590.5ZM593.4 744.6H596.3V771.6H593.4ZM596.3 744.6H599.2V766.8H596.3ZM599.2 744.6H602.1V766.8H599.2ZM602.1 743.9H605.0V771.2H602.1ZM605.0 743.9H607.9V773.4H605.0ZM607.9 757.8H610.8V773.4H607.9ZM610.8 750.2H613.7V772.9H610.8ZM613.7 750.2H616.6V772.9H613.7ZM616.6 757.3H619.5V769.2H616.6ZM619.5 757.3H622.4V774.0H619.5ZM622.4 750.5H625.3V774.0H622.4ZM625.3 740.3H628.2V773.2H625.3ZM628.2 740.3H631.1V773.2H628.2ZM631.1 751.6H634.0V774.8H631.1ZM634.0 751.6H636.9V774.8H634.0ZM636.9 748.5H639.8V772.5H636.9ZM639.8 748.5H642.7V772.5H639.8ZM642.7 753.7H645.6V771.7H642.7ZM645.6 756.3H648.5V772.0H645.6ZM648.5 756.3H651.4V772.4H648.5ZM651.4 757.5H654.3V777.3H651.4ZM654.3 755.8H657.2V777.3H654.3ZM657.2 755.8H660.1V778.7H657.2ZM660.1 755.5H663.0V779.8H660.1ZM663.0 755.5H665.9V783.4H663.0ZM665.9 759.1H668.8V783.4H665.9ZM668.8 759.1H671.7V774.8H668.8ZM671.7 759.1H674.6V779.0H671.7ZM674.6 761.3H677.5V783.6H674.6ZM677.5 762.2H680.4V783.6H677.5ZM680.4 763.5H683.3V778.7H680.4ZM683.3 765.3H686.2V782.4H683.3ZM686.2 765.3H689.1V782.4H686.2ZM689.1 748.8H692.0V779.3H689.1ZM692.0 748.8H694.9V777.1H692.0ZM694.9 762.0H697.8V776.4H694.9ZM697.8 765.1H700.7V781.2H697.8ZM700.7 764.7H703.6V783.5H700.7ZM703.6 762.6H706.5V783.5H703.6ZM706.5 758.8H709.4V782.2H706.5ZM709.4 758.8H712.3V782.2H709.4ZM712.3 764.8H715.2V784.7H712.3ZM715.2 756.6H718.1V787.1H715.2ZM718.1 756.6H721.0V787.1H718.1ZM721.0 761.4H723.9V789.4H721.0ZM723.9 767.9H726.8V789.4H723.9ZM726.8 763.4H729.7V783.2H726.8ZM729.7 763.4H732.6V781.3H729.7ZM732.6 763.7H735.5V781.3H732.6ZM735.5 763.7H738.4V779.7H735.5ZM738.4 766.7H741.3V779.7H738.4ZM741.3 763.5H744.2V777.1H741.3ZM744.2 760.1H747.1V783.1H744.2ZM747.1 760.1H750.0V783.1H747.1ZM750.0 769.2H752.9V782.8H750.0ZM752.9 762.6H755.8V784.8H752.9ZM755.8 759.2H758.7V784.8H755.8ZM758.7 759.2H761.6V783.9H758.7ZM761.6 758.0H764.5V780.2H761.6ZM764.5 758.0H767.4V784.1H764.5ZM767.4 755.7H770.3V784.1H767.4ZM770.3 755.7H773.2V777.4H770.3ZM773.2 760.0H776.1V784.4H773.2ZM776.1 762.3H779.0V784.8H776.1ZM779.0 758.4H781.9V784.8H779.0ZM781.9 758.4H784.8V784.6H781.9ZM784.8 764.0H787.7V785.9H784.8ZM787.7 766.4H790.6V785.9H787.7ZM790.6 764.8H793.5V777.0H790.6ZM793.5 764.2H796.4V775.3H793.5ZM796.4 761.6H799.3V784.8H796.4ZM799.3 761.6H802.2V784.8H799.3ZM802.2 763.8H805.1V786.0H802.2ZM805.1 765.8H808.0V786.0H805.1ZM808.0 766.8H810.9V781.4H808.0ZM810.9 762.0H813.8V781.4H810.9ZM813.8 762.0H816.7V777.5H813.8ZM816.7 760.8H819.6V779.4H816.7ZM819.6 760.8H822.5V780.6H819.6ZM822.5 757.1H825.4V780.6H822.5ZM825.4 757.1H828.3V775.7H825.4ZM828.3 758.8H831.2V779.0H828.3ZM831.2 758.4H834.1V779.5H831.2ZM834.1 758.4H837.0V779.5H834.1ZM837.0 763.7H839.9V778.7H837.0ZM839.9 757.4H842.8V779.7H839.9ZM842.8 757.4H845.7V779.7H842.8ZM845.7 762.1H848.6V786.1H845.7ZM848.6 762.5H851.5V786.1H848.6ZM851.5 754.7H854.4V782.5H851.5ZM854.4 754.7H857.3V784.0H854.4ZM857.3 760.6H860.2V784.2H857.3ZM860.2 760.6H863.1V784.2H860.2ZM863.1 760.8H866.0V783.3H863.1ZM866.0 765.5H868.9V783.3H866.0ZM868.9 751.5H871.8V785.0H868.9ZM871.8 751.5H874.7V785.0H871.8ZM874.7 761.4H877.6V782.1H874.7ZM877.6 753.4H880.5V782.1H877.6ZM880.5 753.4H883.4V775.1H880.5ZM883.4 757.8H886.3V782.4H883.4ZM886.3 762.0H889.2V783.6H886.3ZM889.2 762.0H892.1V783.6H889.2ZM892.1 765.3H895.0V776.7H892.1ZM895.0 765.4H897.9V784.4H895.0ZM897.9 761.8H900.8V784.4H897.9ZM900.8 761.8H903.7V784.5H900.8ZM903.7 766.6H906.6V784.5H903.7ZM906.6 767.8H909.5V786.0H906.6ZM909.5 767.8H912.4V786.0H909.5ZM912.4 769.2H915.3V782.6H912.4ZM915.3 765.9H918.2V783.7H915.3ZM918.2 765.9H921.1V785.4H918.2ZM921.1 768.6H924.0V785.4H921.1ZM924.0 768.6H926.9V787.4H924.0ZM926.9 773.1H929.8V791.6H926.9ZM929.8 773.6H932.7V791.7H929.8ZM932.7 773.6H935.6V791.7H932.7ZM935.6 774.1H938.5V795.3H935.6ZM938.5 781.1H941.4V800.5H938.5ZM941.4 781.1H944.3V800.5H941.4ZM944.3 781.4H947.2V795.2H944.3ZM947.2 778.2H950.1V797.8H947.2ZM950.1 774.5H953.0V797.8H950.1ZM953.0 774.5H955.9V798.9H953.0ZM955.9 784.7H958.8V804.4H955.9ZM958.8 785.7H961.7V804.4H958.8ZM961.7 785.7H964.6V805.2H961.7ZM964.6 786.0H967.5V805.2H964.6ZM967.5 786.0H970.4V800.6H967.5ZM970.4 781.1H973.3V803.1H970.4ZM973.3 781.1H976.2V805.5H973.3ZM976.2 785.9H979.1V805.5H976.2ZM979.1 787.3H982.0V808.1H979.1ZM982.0 787.3H984.9V810.3H982.0ZM984.9 792.7H987.8V817.6H984.9ZM987.8 791.8H990.7V817.6H987.8ZM990.7 791.8H993.6V806.6H990.7ZM993.6 792.8H996.5V807.4H993.6ZM996.5 793.4H999.4V807.4H996.5ZM999.4 793.4H1002.3V811.5H999.4ZM1002.3 795.0H1005.2V812.0H1002.3ZM1005.2 794.0H1008.1V814.2H1005.2ZM1008.1 794.0H1011.0V814.2H1008.1ZM1011.0 798.2H1013.9V815.9H1011.0ZM1013.9 803.7H1016.8V830.0H1013.9ZM1016.8 803.7H1019.7V830.0H1016.8ZM1019.7 803.0H1022.6V821.2H1019.7ZM1022.6 803.0H1025.5V824.7H1022.6ZM1025.5 812.5H1028.4V830.0H1025.5ZM1028.4 812.7H1031.3V830.0H1028.4ZM1031.3 808.5H1034.2V828.7H1031.3ZM1034.2 808.5H1037.1V829.5H1034.2ZM1037.1 816.6H1040.0V831.1H1037.1ZM1040.0 815.9H1042.9V831.1H1040.0ZM1042.9 815.9H1045.8V832.2H1042.9ZM1045.8 813.7H1048.7V832.2H1045.8ZM1048.7 813.7H1051.6V833.4H1048.7ZM1051.6 817.8H1054.5V833.4H1051.6ZM1054.5 816.2H1057.4V833.0H1054.5ZM1057.4 814.2H1060.3V832.6H1057.4ZM1060.3 810.1H1063.2V832.6H1060.3ZM1063.2 810.1H1066.1V838.7H1063.2ZM1066.1 814.4H1069.0V838.7H1066.1ZM1069.0 821.2H1071.9V837.4H1069.0ZM1071.9 818.5H1074.8V836.1H1071.9ZM1074.8 815.4H1077.7V840.0H1074.8ZM1077.7 815.4H1080.6V841.0H1077.7ZM1080.6 820.1H1083.5V842.0H1080.6ZM1083.5 826.0H1086.4V842.0H1083.5ZM1086.4 826.0H1089.3V838.6H1086.4ZM1089.3 827.6H1092.2V841.3H1089.3ZM1092.2 820.3H1095.1V851.1H1092.2ZM1095.1 820.3H1098.0V851.1H1095.1ZM1098.0 826.5H1100.9V846.4H1098.0ZM1100.9 830.5H1103.8V848.1H1100.9ZM1103.8 820.7H1106.7V848.1H1103.8ZM1106.7 820.7H1109.6V847.3H1106.7ZM1109.6 828.4H1112.5V847.3H1109.6ZM1112.5 828.4H1115.4V850.1H1112.5ZM1115.4 830.8H1118.3V850.8H1115.4ZM1118.3 830.8H1121.2V850.8H1118.3ZM1121.2 831.7H1124.1V853.1H1121.2ZM1124.1 832.7H1127.0V853.1H1124.1ZM1127.0 832.5H1129.9V846.6H1127.0ZM1129.9 832.5H1132.8V849.7H1129.9ZM1132.8 838.1H1135.7V849.8H1132.8ZM1135.7 830.7H1138.6V849.8H1135.7ZM1138.6 830.7H1141.5V856.5H1138.6ZM1141.5 833.1H1144.4V856.5H1141.5ZM1144.4 840.8H1147.3V855.5H1144.4ZM1147.3 835.9H1150.2V855.5H1147.3ZM1150.2 833.5H1153.1V855.4H1150.2ZM1153.1 833.5H1156.0V854.2H1153.1ZM1156.0 834.9H1158.9V854.2H1156.0ZM1158.9 837.3H1161.8V859.5H1158.9ZM1161.8 838.8H1164.7V859.5H1161.8ZM1164.7 839.1H1167.6V864.6H1164.7ZM1167.6 839.1H1170.5V864.6H1167.6ZM1170.5 840.7H1173.4V863.8H1170.5ZM1173.4 842.2H1176.3V856.8H1173.4ZM1176.3 842.2H1179.2V856.8H1176.3ZM1179.2 841.1H1182.1V855.6H1179.2ZM1182.1 831.7H1185.0V857.2H1182.1ZM1185.0 831.7H1187.9V857.2H1185.0ZM1187.9 837.9H1190.8V857.7H1187.9ZM1190.8 838.1H1193.7V860.7H1190.8ZM1193.7 841.7H1196.6V860.7H1193.7ZM1196.6 835.6H1199.5V860.6H1196.6ZM1199.5 835.6H1202.4V855.4H1199.5ZM1202.4 833.2H1205.3V855.4H1202.4ZM1205.3 833.2H1208.2V853.2H1205.3ZM1208.2 835.7H1211.1V857.2H1208.2ZM1211.1 835.0H1214.0V857.2H1211.1ZM1214.0 835.0H1216.9V854.2H1214.0ZM1216.9 840.5H1219.8V857.1H1216.9ZM1219.8 840.5H1222.7V857.1H1219.8ZM1222.7 840.0H1225.6V867.1H1222.7ZM1225.6 840.0H1228.5V867.1H1225.6ZM1228.5 842.5H1231.4V853.9H1228.5ZM1231.4 841.2H1234.3V864.6H1231.4ZM1234.3 839.0H1237.2V864.6H1234.3ZM1237.2 839.0H1240.1V863.1H1237.2ZM1240.1 840.0H1243.0V861.7H1240.1ZM1243.0 839.8H1245.9V863.1H1243.0ZM1245.9 839.8H1248.8V863.1H1245.9ZM1248.8 840.4H1251.7V859.3H1248.8ZM1251.7 840.4H1254.6V858.8H1251.7ZM1254.6 844.1H1257.5V858.8H1254.6ZM1257.5 841.6H1260.4V856.5H1257.5ZM1260.4 836.7H1263.3V858.4H1260.4ZM1263.3 836.7H1266.2V858.4H1263.3ZM1266.2 838.5H1269.1V861.6H1266.2ZM1269.1 838.5H1272.0V861.6H1269.1ZM1272.0 843.8H1274.9V858.3H1272.0ZM1274.9 848.5H1277.8V858.4H1274.9ZM1277.8 837.4H1280.7V858.4H1277.8ZM1280.7 837.4H1283.6V861.9H1280.7ZM1283.6 842.6H1286.5V861.9H1283.6ZM1286.5 842.6H1289.4V861.5H1286.5ZM1289.4 843.2H1292.3V861.5H1289.4ZM1292.3 838.8H1295.2V860.9H1292.3ZM1295.2 838.8H1298.1V867.3H1295.2ZM1298.1 843.3H1301.0V867.3H1298.1ZM1301.0 843.7H1303.9V862.8H1301.0ZM1303.9 838.0H1306.8V859.7H1303.9ZM1306.8 838.0H1309.7V861.7H1306.8ZM1309.7 844.0H1312.6V861.7H1309.7ZM1312.6 839.4H1315.5V861.5H1312.6ZM1315.5 833.4H1318.4V864.9H1315.5ZM1318.4 833.4H1321.3V864.9H1318.4ZM1321.3 839.2H1324.2V857.5H1321.3ZM1324.2 839.4H1327.1V862.1H1324.2ZM1327.1 839.4H1330.0V862.1H1327.1ZM1330.0 845.3H1332.9V870.5H1330.0ZM1332.9 843.8H1335.8V870.5H1332.9ZM1335.8 841.6H1338.7V858.9H1335.8ZM1338.7 841.6H1341.6V863.4H1338.7ZM1341.6 843.1H1344.5V863.4H1341.6ZM1344.5 844.3H1347.4V858.3H1344.5ZM1347.4 845.7H1350.3V862.5H1347.4ZM1350.3 838.1H1353.2V862.5H1350.3ZM1353.2 838.1H1356.1V860.2H1353.2ZM1356.1 852.4H1359.0V879.6H1356.1ZM1359.0 851.0H1361.9V879.6H1359.0ZM1361.9 849.7H1364.8V869.5H1361.9ZM1364.8 849.2H1367.7V861.9H1364.8ZM1367.7 849.2H1370.6V863.9H1367.7ZM1370.6 851.2H1373.5V870.3H1370.6ZM1373.5 845.4H1376.4V870.3H1373.5ZM1376.4 845.4H1379.3V867.1H1376.4ZM1379.3 852.9H1382.2V874.2H1379.3ZM1382.2 855.3H1385.1V874.2H1382.2ZM1385.1 853.1H1388.0V871.4H1385.1ZM1388.0 851.6H1390.9V871.2H1388.0ZM1390.9 851.6H1393.8V871.2H1390.9ZM1393.8 855.6H1396.7V873.3H1393.8ZM1396.7 855.6H1399.6V875.6H1396.7ZM1399.6 850.8H1402.5V875.6H1399.6ZM1402.5 850.8H1405.4V873.3H1402.5ZM1405.4 855.9H1408.3V875.7H1405.4ZM1408.3 856.3H1411.2V875.7H1408.3ZM1411.2 858.8H1414.1V876.1H1411.2ZM1414.1 862.2H1417.0V876.1H1414.1ZM1417.0 856.6H1419.9V881.3H1417.0ZM1419.9 856.6H1422.8V882.6H1419.9ZM1422.8 859.8H1425.7V882.6H1422.8ZM1425.7 861.1H1428.6V877.3H1425.7ZM1428.6 860.2H1431.5V877.3H1428.6ZM1431.5 860.2H1434.4V881.5H1431.5ZM1434.4 862.5H1437.3V882.3H1434.4ZM1437.3 864.7H1440.2V882.3H1437.3ZM1440.2 863.0H1443.1V880.4H1440.2ZM1443.1 863.0H1446.0V879.4H1443.1ZM1446.0 865.3H1448.9V879.4H1446.0ZM1448.9 865.3H1451.8V878.0H1448.9ZM1451.8 866.8H1454.7V877.9H1451.8ZM1454.7 862.9H1457.6V885.9H1454.7ZM1457.6 862.9H1460.5V885.9H1457.6ZM1460.5 863.4H1463.4V883.8H1460.5ZM1463.4 863.4H1466.3V885.7H1463.4ZM1466.3 866.8H1469.2V885.7H1466.3ZM1469.2 866.8H1472.1V881.8H1469.2ZM1472.1 864.4H1475.0V883.8H1472.1ZM1475.0 864.4H1477.9V883.8H1475.0ZM1477.9 864.5H1480.8V886.0H1477.9ZM1480.8 864.5H1483.7V886.0H1480.8ZM1483.7 863.5H1486.6V879.6H1483.7ZM1486.6 863.5H1489.5V880.7H1486.6ZM1489.5 867.5H1492.4V882.2H1489.5ZM1492.4 862.7H1495.3V883.8H1492.4ZM1495.3 862.7H1498.2V883.8H1495.3ZM1498.2 870.0H1501.1V888.0H1498.2ZM1501.1 875.1H1504.0V888.0H1501.1ZM1504.0 872.2H1506.9V887.9H1504.0ZM1506.9 872.2H1509.8V884.4H1506.9ZM1509.8 876.2H1512.7V888.9H1509.8ZM1512.7 867.4H1515.6V895.8H1512.7ZM1515.6 867.4H1518.5V895.8H1515.6ZM1518.5 867.5H1521.4V890.2H1518.5ZM1521.4 867.5H1524.3V890.0H1521.4ZM1524.3 875.4H1527.2V892.1H1524.3ZM1527.2 878.8H1530.1V892.1H1527.2ZM1530.1 878.8H1533.0V891.9H1530.1ZM1533.0 874.4H1535.9V889.0H1533.0ZM1535.9 874.4H1538.8V888.4H1535.9ZM1538.8 876.3H1541.7V891.4H1538.8ZM1541.7 874.7H1544.6V891.4H1541.7ZM1544.6 874.7H1547.5V892.4H1544.6ZM1547.5 870.2H1550.4V892.4H1547.5ZM1550.4 870.2H1553.3V888.0H1550.4ZM1553.3 874.8H1556.2V893.6H1553.3ZM1556.2 879.2H1559.1V893.6H1556.2ZM1559.1 879.2H1562.0V894.7H1559.1ZM1562.0 877.5H1564.9V894.7H1562.0ZM1564.9 877.5H1567.8V891.9H1564.9ZM1567.8 875.5H1570.7V894.5H1567.8ZM1570.7 875.5H1573.6V894.5H1570.7ZM1573.6 876.3H1576.5V893.6H1573.6ZM1576.5 879.9H1579.4V893.9H1576.5ZM1579.4 877.5H1582.3V893.9H1579.4ZM1582.3 877.5H1585.2V893.3H1582.3ZM1585.2 876.2H1588.1V896.5H1585.2ZM1588.1 875.8H1591.0V898.7H1588.1ZM1591.0 875.8H1593.9V898.7H1591.0ZM1593.9 877.5H1596.8V898.0H1593.9ZM1596.8 876.2H1599.7V898.8H1596.8ZM1599.7 876.2H1602.6V898.8H1599.7ZM1602.6 881.1H1605.5V897.6H1602.6ZM1605.5 882.5H1608.4V897.7H1605.5ZM1608.4 882.7H1611.3V898.9H1608.4ZM1611.3 881.3H1614.2V898.9H1611.3ZM1614.2 880.6H1617.1V901.3H1614.2ZM1617.1 880.6H1620.0V901.5H1617.1ZM1620.0 880.0H1622.9V901.5H1620.0ZM1622.9 880.0H1625.8V897.1H1622.9ZM1625.8 882.5H1628.7V899.6H1625.8ZM1628.7 884.9H1631.6V901.2H1628.7ZM1631.6 891.7H1634.5V901.2H1631.6ZM1634.5 887.7H1637.4V906.0H1634.5ZM1637.4 887.7H1640.3V906.4H1637.4ZM1640.3 887.4H1643.2V906.4H1640.3ZM1643.2 887.4H1646.1V907.0H1643.2ZM1646.1 883.7H1649.0V907.0H1646.1ZM1649.0 883.7H1651.9V905.0H1649.0ZM1651.9 887.8H1654.8V905.5H1651.9ZM1654.8 888.6H1657.7V908.8H1654.8ZM1657.7 885.9H1660.6V908.8H1657.7ZM1660.6 885.9H1663.5V903.3H1660.6ZM1663.5 886.7H1666.4V907.2H1663.5ZM1666.4 886.7H1669.3V907.2H1666.4ZM1669.3 888.2H1672.2V905.2H1669.3ZM1672.2 888.2H1675.1V906.4H1672.2ZM1675.1 894.8H1678.0V906.4H1675.1ZM1678.0 892.7H1680.9V903.6H1678.0ZM1680.9 888.0H1683.8V910.8H1680.9ZM1683.8 888.0H1686.7V910.8H1683.8ZM1686.7 888.8H1689.6V904.2H1686.7ZM1689.6 891.0H1692.5V904.2H1689.6ZM1692.5 888.4H1695.4V902.7H1692.5ZM1695.4 888.4H1698.3V903.4H1695.4ZM1698.3 883.7H1701.2V903.4H1698.3ZM1701.2 883.7H1704.1V904.2H1701.2ZM1704.1 884.8H1707.0V904.2H1704.1ZM1707.0 889.8H1709.9V903.6H1707.0ZM1709.9 885.6H1712.8V909.2H1709.9ZM1712.8 885.6H1715.7V909.2H1712.8ZM1715.7 888.9H1718.6V908.7H1715.7ZM1718.6 888.9H1721.5V906.9H1718.6ZM1721.5 892.3H1722.0V905.8H1721.5Z"/>
<path fill="#008000" d="M112.0 1014.0H114.9V1025.0H112.0ZM114.9 1014.0H117.8V1029.1H114.9ZM117.8 1016.7H120.7V1029.1H117.8ZM120.7 1013.4H123.6V1027.4H120.7ZM123.6 1013.2H126.5V1027.4H123.6ZM126.5 1010.6H129.4V1026.5H126.5ZM129.4 1010.6H132.3V1024.0H129.4ZM132.3 1013.5H135.2V1026.3H132.3ZM135.2 1012.2H138.1V1026.3H135.2ZM138.1 1012.2H141.0V1027.0H138.1ZM141.0 1013.7H143.9V1027.0H141.0ZM143.9 1012.9H146.8V1024.1H143.9ZM146.8 1012.2H149.7V1024.1H146.8ZM149.7 1012.2H152.6V1023.9H149.7ZM152.6 1011.3H155.5V1025.3H152.6ZM155.5 1010.7H158.4V1025.3H155.5ZM158.4 1010.7H161.3V1022.1H158.4ZM161.3 1010.7H164.2V1022.6H161.3ZM164.2 1010.7H167.1V1024.6H164.2ZM167.1 1013.5H170.0V1025.5H167.1ZM170.0 1010.2H172.9V1025.5H170.0ZM172.9 1010.2H175.8V1020.8H172.9ZM175.8 1010.4H178.7V1023.9H175.8ZM178.7 1005.4H181.6V1023.9H178.7ZM181.6 1005.4H184.5V1023.7H181.6ZM184.5 1009.9H187.4V1023.7H184.5ZM187.4 1006.4H190.3V1018.1H187.4ZM190.3 1006.4H193.2V1018.1H190.3ZM193.2 1007.5H196.1V1018.8H193.2ZM196.1 1007.1H199.0V1018.8H196.1ZM199.0 1005.1H201.9V1020.2H199.0ZM201.9 1005.1H204.8V1020.2H201.9ZM204.8 1006.4H207.7V1016.9H204.8ZM207.7 1003.8H210.6V1017.8H207.7ZM210.6 1002.9H213.5V1017.8H210.6ZM213.5 1002.5H216.4V1016.2H213.5ZM216.4 1002.5H219.3V1019.3H216.4ZM219.3 1003.3H222.2V1019.3H219.3ZM222.2 1002.5H225.1V1013.1H222.2ZM225.1 1002.3H228.0V1013.1H225.1ZM228.0 1002.3H230.9V1014.9H228.0ZM230.9 999.3H233.8V1014.9H230.9ZM233.8 999.3H236.7V1015.5H233.8ZM236.7 997.3H239.6V1015.5H236.7ZM239.6 997.3H242.5V1015.1H239.6ZM242.5 998.1H245.4V1015.1H242.5ZM245.4 1000.6H248.3V1012.7H245.4ZM248.3 996.6H251.2V1012.7H248.3ZM251.2 991.6H254.1V1010.8H251.2ZM254.1 991.6H257.0V1010.7H254.1ZM257.0 997.6H259.9V1012.3H257.0ZM259.9 995.8H262.8V1012.3H259.9ZM262.8 995.8H265.7V1009.1H262.8ZM265.7 997.0H268.6V1007.6H265.7ZM268.6 995.9H271.5V1006.5H268.6ZM271.5 991.7H274.4V1006.5H271.5ZM274.4 991.1H277.3V1004.3H274.4ZM277.3 991.1H280.2V1009.3H277.3ZM280.2 993.5H283.1V1009.3H280.2ZM283.1 990.2H286.0V1002.8H283.1ZM286.0 985.8H288.9V998.4H286.0ZM288.9 983.7H291.8V1000.9H288.9ZM291.8 983.5H294.7V1000.9H291.8ZM294.7 981.2H297.6V995.7H294.7ZM297.6 981.2H300.5V995.7H297.6ZM300.5 981.4H303.4V993.7H300.5ZM303.4 977.2H306.3V991.4H303.4ZM306.3 977.2H309.2V989.3H306.3ZM309.2 975.7H312.1V989.8H309.2ZM312.1 970.2H315.0V989.8H312.1ZM315.0 969.0H317.9V984.7H315.0ZM317.9 968.8H320.8V984.7H317.9ZM320.8 968.8H323.7V978.4H320.8ZM323.7 966.0H326.6V976.0H323.7ZM326.6 959.9H329.5V977.9H326.6ZM329.5 959.9H332.4V977.9H329.5ZM332.4 959.4H335.3V974.2H332.4ZM335.3 954.6H338.2V973.0H335.3ZM338.2 954.6H341.1V968.8H338.2ZM341.1 956.1H344.0V970.6H341.1ZM344.0 950.1H346.9V970.6H344.0ZM346.9 949.5H349.8V962.3H346.9ZM349.8 949.5H352.7V961.7H349.8ZM352.7 948.6H355.6V961.7H352.7ZM355.6 948.5H358.5V960.3H355.6ZM358.5 940.9H361.4V959.0H358.5ZM361.4 940.9H364.3V957.6H361.4ZM364.3 940.8H367.2V957.6H364.3ZM367.2 937.4H370.1V954.3H367.2ZM370.1 928.8H373.0V954.3H370.1ZM373.0 928.8H375.9V951.1H373.0ZM375.9 928.9H378.8V945.2H375.9ZM378.8 927.8H381.7V944.8H378.8ZM381.7 922.8H384.6V941.1H381.7ZM384.6 921.0H387.5V937.7H384.6ZM387.5 917.9H390.4V933.3H387.5ZM390.4 915.9H393.3V933.3H390.4ZM393.3 913.0H396.2V927.9H393.3ZM396.2 910.5H399.1V924.8H396.2ZM399.1 904.7H402.0V924.8H399.1ZM402.0 902.0H404.9V919.3H402.0ZM404.9 902.0H407.8V919.3H404.9ZM407.8 902.2H410.7V916.4H407.8ZM410.7 898.9H413.6V911.2H410.7ZM413.6 887.6H416.5V910.7H413.6ZM416.5 887.6H419.4V904.8H416.5ZM419.4 887.8H422.3V905.7H419.4ZM422.3 890.6H425.2V905.7H422.3ZM425.2 881.6H428.1V903.4H425.2ZM428.1 879.3H431.0V901.5H428.1ZM431.0 876.5H433.9V894.0H431.0ZM433.9 876.5H436.8V894.0H433.9ZM436.8 874.9H439.7V894.8H436.8ZM439.7 874.9H442.6V894.8H439.7ZM442.6 865.6H445.5V886.5H442.6ZM445.5 865.6H448.4V884.9H445.5ZM448.4 863.3H451.3V884.2H448.4ZM451.3 859.0H454.2V882.1H451.3ZM454.2 859.0H457.1V883.7H454.2ZM457.1 859.4H460.0V883.7H457.1ZM460.0 857.0H462.9V877.6H460.0ZM462.9 855.4H465.8V877.6H462.9ZM465.8 855.4H468.7V876.6H465.8ZM468.7 860.5H471.6V876.6H468.7ZM471.6 849.9H474.5V874.3H471.6ZM474.5 849.9H477.4V874.4H474.5ZM477.4 854.4H480.3V874.4H477.4ZM480.3 847.3H483.2V867.0H480.3ZM483.2 847.3H486.1V869.2H483.2ZM486.1 842.7H489.0V869.2H486.1ZM489.0 842.1H491.9V863.8H489.0ZM491.9 842.1H494.8V863.8H491.9ZM494.8 845.4H497.7V865.8H494.8ZM497.7 840.0H500.6V865.8H497.7ZM500.6 839.8H503.5V864.3H500.6ZM503.5 839.8H506.4V858.3H503.5ZM506.4 834.4H509.3V861.6H506.4ZM509.3 834.4H512.2V861.6H509.3ZM512.2 840.7H515.1V861.5H512.2ZM515.1 840.7H518.0V856.3H515.1ZM518.0 841.3H520.9V859.0H518.0ZM520.9 832.0H523.8V859.0H520.9ZM523.8 827.3H526.7V851.8H523.8ZM526.7 827.3H529.6V856.4H526.7ZM529.6 832.6H532.5V856.4H529.6ZM532.5 832.6H535.4V856.0H532.5ZM535.4 834.8H538.3V857.9H535.4ZM538.3 830.6H541.2V862.4H538.3ZM541.2 830.6H544.1V862.4H541.2ZM544.1 834.8H547.0V849.2H544.1ZM547.0 834.8H549.9V848.9H547.0ZM549.9 835.2H552.8V854.6H549.9ZM552.8 836.5H555.7V854.6H552.8ZM555.7 835.1H558.6V853.9H555.7ZM558.6 835.1H561.5V853.9H558.6ZM561.5 836.8H564.4V850.8H561.5ZM564.4 837.2H567.3V854.1H564.4ZM567.3 833.7H570.2V854.1H567.3ZM570.2 832.7H573.1V847.8H570.2ZM573.1 832.7H576.0V850.2H573.1ZM576.0 835.7H578.9V850.2H576.0ZM578.9 832.2H581.8V847.3H578.9ZM581.8 832.2H584.7V847.8H581.8ZM584.7 829.7H587.6V853.8H584.7ZM587.6 829.7H590.5V860.5H587.6ZM590.5 836.0H593.4V860.5H590.5ZM593.4 833.6H596.3V859.4H593.4ZM596.3 833.6H599.2V859.4H596.3ZM599.2 830.6H602.1V857.0H599.2ZM602.1 830.6H605.0V854.0H602.1ZM605.0 832.8H607.9V854.8H605.0ZM607.9 832.8H610.8V854.8H607.9ZM610.8 834.7H613.7V858.8H610.8ZM613.7 839.9H616.6V860.4H613.7ZM616.6 832.4H619.5V860.4H616.6ZM619.5 832.4H622.4V854.8H619.5ZM622.4 830.1H625.3V857.7H622.4ZM625.3 830.1H628.2V857.7H625.3ZM628.2 836.6H631.1V851.7H628.2ZM631.1 836.6H634.0V851.7H631.1ZM634.0 831.5H636.9V856.1H634.0ZM636.9 831.5H639.8V860.9H636.9ZM639.8 836.0H642.7V860.9H639.8ZM642.7 830.6H645.6V854.2H642.7ZM645.6 830.6H648.5V849.2H645.6ZM648.5 830.2H651.4V852.6H648.5ZM651.4 830.2H654.3V852.6H651.4ZM654.3 828.5H657.2V858.3H654.3ZM657.2 824.4H660.1V858.3H657.2ZM660.1 824.4H663.0V851.9H660.1ZM663.0 831.9H665.9V851.9H663.0ZM665.9 820.7H668.8V849.2H665.9ZM668.8 820.7H671.7V853.5H668.8ZM671.7 821.7H674.6V853.5H671.7ZM674.6 831.6H677.5V848.3H674.6ZM677.5 818.2H680.4V845.9H677.5ZM680.4 818.2H683.3V852.8H680.4ZM683.3 827.4H686.2V854.5H683.3ZM686.2 822.4H689.1V854.5H686.2ZM689.1 822.4H692.0V853.3H689.1ZM692.0 821.5H694.9V853.3H692.0ZM694.9 821.5H697.8V848.6H694.9ZM697.8 817.5H700.7V852.5H697.8ZM700.7 817.5H703.6V852.5H700.7ZM703.6 827.7H706.5V847.1H703.6ZM706.5 825.9H709.4V847.1H706.5ZM709.4 825.9H712.3V841.9H709.4ZM712.3 819.9H715.2V844.5H712.3ZM715.2 819.9H718.1V846.1H715.2ZM718.1 827.5H721.0V846.1H718.1ZM721.0 822.2H723.9V842.6H721.0ZM723.9 822.2H726.8V842.6H723.9ZM726.8 825.7H729.7V846.1H726.8ZM729.7 825.2H732.6V846.1H729.7ZM732.6 825.2H735.5V844.9H732.6ZM735.5 820.4H738.4V844.9H735.5ZM738.4 820.4H741.3V843.4H738.4ZM741.3 823.6H744.2V844.3H741.3ZM744.2 823.6H747.1V847.9H744.2ZM747.1 831.3H750.0V847.9H747.1ZM750.0 828.8H752.9V846.8H750.0ZM752.9 828.8H755.8V842.8H752.9ZM755.8 833.7H758.7V853.8H755.8ZM758.7 825.7H761.6V853.8H758.7ZM761.6 825.7H764.5V853.3H761.6ZM764.5 831.4H767.4V853.3H764.5ZM767.4 828.1H770.3V857.0H767.4ZM770.3 828.1H773.2V857.0H770.3ZM773.2 835.0H776.1V858.3H773.2ZM776.1 835.1H779.0V858.3H776.1ZM779.0 837.7H781.9V854.3H779.0ZM781.9 834.4H784.8V854.5H781.9ZM784.8 834.4H787.7V865.9H784.8ZM787.7 839.1H790.6V865.9H787.7ZM790.6 834.7H793.5V860.5H790.6ZM793.5 834.7H796.4V860.5H793.5ZM796.4 839.2H799.3V862.5H796.4ZM799.3 839.2H802.2V862.5H799.3ZM802.2 844.9H805.1V868.4H802.2ZM805.1 844.9H808.0V868.4H805.1ZM808.0 848.5H810.9V866.1H808.0ZM810.9 848.5H813.8V878.9H810.9ZM813.8 843.6H816.7V878.9H813.8ZM816.7 843.6H819.6V873.1H816.7ZM819.6 850.5H822.5V870.6H819.6ZM822.5 850.5H825.4V870.6H822.5ZM825.4 857.1H828.3V879.5H825.4ZM828.3 857.1H831.2V880.3H828.3ZM831.2 858.5H834.1V880.3H831.2ZM834.1 857.4H837.0V876.3H834.1ZM837.0 857.4H839.9V883.6H837.0ZM839.9 861.0H842.8V883.6H839.9ZM842.8 861.0H845.7V883.3H842.8ZM845.7 866.9H848.6V883.3H845.7ZM848.6 865.3H851.5V892.1H848.6ZM851.5 865.3H854.4V892.1H851.5ZM854.4 863.4H857.3V885.7H854.4ZM857.3 863.4H860.2V890.4H857.3ZM860.2 875.7H863.1V890.4H860.2ZM863.1 868.1H866.0V888.3H863.1ZM866.0 868.1H868.9V890.9H866.0ZM868.9 871.7H871.8V893.7H868.9ZM871.8 871.7H874.7V893.7H871.8ZM874.7 878.6H877.6V895.3H874.7ZM877.6 873.9H880.5V895.3H877.6ZM880.5 873.9H883.4V895.0H880.5ZM883.4 875.9H886.3V897.8H883.4ZM886.3 877.3H889.2V897.8H886.3ZM889.2 881.5H892.1V901.1H889.2ZM892.1 877.5H895.0V901.1H892.1ZM895.0 877.5H897.9V903.9H895.0ZM897.9 883.6H900.8V906.5H897.9ZM900.8 883.6H903.7V913.5H900.8ZM903.7 873.6H906.6V913.5H903.7ZM906.6 873.6H909.5V909.4H906.6ZM909.5 892.4H912.4V909.4H909.5ZM912.4 892.4H915.3V907.6H912.4ZM915.3 893.3H918.2V909.9H915.3ZM918.2 894.9H921.1V910.9H918.2ZM921.1 895.0H924.0V911.2H921.1ZM924.0 892.4H926.9V911.2H924.0ZM926.9 892.4H929.8V911.8H926.9ZM929.8 894.5H932.7V922.9H929.8ZM932.7 898.5H935.6V922.9H932.7ZM935.6 897.4H938.5V923.3H935.6ZM938.5 897.4H941.4V923.3H938.5ZM941.4 899.7H944.3V929.6H941.4ZM944.3 895.6H947.2V929.6H944.3ZM947.2 895.6H950.1V920.7H947.2ZM950.1 907.3H953.0V927.2H950.1ZM953.0 910.0H955.9V927.2H953.0ZM955.9 910.0H958.8V928.4H955.9ZM958.8 906.2H961.7V928.4H958.8ZM961.7 906.2H964.6V931.6H961.7ZM964.6 912.3H967.5V931.6H964.6ZM967.5 921.0H970.4V936.5H967.5ZM970.4 917.9H973.3V936.5H970.4ZM973.3 915.7H976.2V932.8H973.3ZM976.2 915.7H979.1V934.7H976.2ZM979.1 919.2H982.0V943.2H979.1ZM982.0 917.9H984.9V943.2H982.0ZM984.9 917.9H987.8V937.5H984.9ZM987.8 923.5H990.7V937.5H987.8ZM990.7 914.3H993.6V942.8H990.7ZM993.6 914.3H996.5V942.8H993.6ZM996.5 922.7H999.4V942.7H996.5ZM999.4 927.5H1002.3V942.7H999.4ZM1002.3 930.9H1005.2V949.8H1002.3ZM1005.2 930.9H1008.1V949.8H1005.2ZM1008.1 931.8H1011.0V956.7H1008.1ZM1011.0 931.8H1013.9V956.7H1011.0ZM1013.9 929.4H1016.8V949.7H1013.9ZM1016.8 929.4H1019.7V953.1H1016.8ZM1019.7 933.3H1022.6V959.3H1019.7ZM1022.6 932.5H1025.5V959.3H1022.6ZM1025.5 932.5H1028.4V953.1H1025.5ZM1028.4 936.4H1031.3V960.9H1028.4ZM1031.3 935.8H1034.2V960.9H1031.3ZM1034.2 935.8H1037.1V955.2H1034.2ZM1037.1 934.7H1040.0V960.4H1037.1ZM1040.0 934.7H1042.9V960.6H1040.0ZM1042.9 941.2H1045.8V960.6H1042.9ZM1045.8 941.2H1048.7V963.0H1045.8ZM1048.7 932.5H1051.6V963.0H1048.7ZM1051.6 932.5H1054.5V958.8H1051.6ZM1054.5 944.0H1057.4V959.0H1054.5ZM1057.4 945.5H1060.3V961.7H1057.4ZM1060.3 947.8H1063.2V965.4H1060.3ZM1063.2 941.2H1066.1V970.5H1063.2ZM1066.1 941.2H1069.0V970.5H1066.1ZM1069.0 948.2H1071.9V962.7H1069.0ZM1071.9 949.8H1074.8V962.7H1071.9ZM1074.8 951.0H1077.7V967.5H1074.8ZM1077.7 950.6H1080.6V967.5H1077.7ZM1080.6 950.6H1083.5V968.9H1080.6ZM1083.5 950.1H1086.4V969.2H1083.5ZM1086.4 946.8H1089.3V969.2H1086.4ZM1089.3 946.8H1092.2V967.5H1089.3ZM1092.2 948.7H1095.1V971.8H1092.2ZM1095.1 948.7H1098.0V971.8H1095.1ZM1098.0 948.9H1100.9V972.1H1098.0ZM1100.9 948.9H1103.8V975.9H1100.9ZM1103.8 950.7H1106.7V975.9H1103.8ZM1106.7 952.5H1109.6V975.5H1106.7ZM1109.6 952.5H1112.5V976.8H1109.6ZM1112.5 958.8H1115.4V976.8H1112.5ZM1115.4 948.3H1118.3V969.7H1115.4ZM1118.3 948.3H1121.2V971.3H1118.3ZM1121.2 961.1H1124.1V973.2H1121.2ZM1124.1 958.3H1127.0V973.2H1124.1ZM1127.0 958.3H1129.9V969.3H1127.0ZM1129.9 958.5H1132.8V974.9H1129.9ZM1132.8 958.9H1135.7V980.1H1132.8ZM1135.7 958.9H1138.6V980.1H1135.7ZM1138.6 958.9H1141.5V973.3H1138.6ZM1141.5 962.3H1144.4V976.3H1141.5ZM1144.4 962.3H1147.3V976.3H1144.4ZM1147.3 959.3H1150.2V976.1H1147.3ZM1150.2 958.5H1153.1V976.8H1150.2ZM1153.1 958.5H1156.0V976.8H1153.1ZM1156.0 961.7H1158.9V979.6H1156.0ZM1158.9 961.7H1161.8V979.6H1158.9ZM1161.8 960.5H1164.7V978.4H1161.8ZM1164.7 960.5H1167.6V982.2H1164.7ZM1167.6 954.2H1170.5V982.2H1167.6ZM1170.5 954.2H1173.4V979.6H1170.5ZM1173.4 963.0H1176.3V983.2H1173.4ZM1176.3 961.9H1179.2V983.2H1176.3ZM1179.2 961.9H1182.1V982.7H1179.2ZM1182.1 970.9H1185.0V980.9H1182.1ZM1185.0 965.5H1187.9V980.0H1185.0ZM1187.9 960.0H1190.8V980.0H1187.9ZM1190.8 960.0H1193.7V978.6H1190.8ZM1193.7 963.5H1196.6V983.3H1193.7ZM1196.6 962.9H1199.5V983.3H1196.6ZM1199.5 955.8H1202.4V978.6H1199.5ZM1202.4 955.8H1205.3V978.5H1202.4ZM1205.3 962.7H1208.2V977.6H1205.3ZM1208.2 962.1H1211.1V975.7H1208.2ZM1211.1 962.1H1214.0V977.0H1211.1ZM1214.0 962.5H1216.9V977.0H1214.0ZM1216.9 959.9H1219.8V976.3H1216.9ZM1219.8 953.6H1222.7V981.2H1219.8ZM1222.7 953.6H1225.6V981.2H1222.7ZM1225.6 959.5H1228.5V974.3H1225.6ZM1228.5 959.5H1231.4V977.3H1228.5ZM1231.4 963.5H1234.3V977.3H1231.4ZM1234.3 956.3H1237.2V979.3H1234.3ZM1237.2 956.3H1240.1V979.3H1237.2ZM1240.1 963.1H1243.0V977.8H1240.1ZM1243.0 964.5H1245.9V981.1H1243.0ZM1245.9 963.4H1248.8V981.1H1245.9ZM1248.8 960.4H1251.7V980.0H1248.8ZM1251.7 960.4H1254.6V986.1H1251.7ZM1254.6 964.7H1257.5V989.5H1254.6ZM1257.5 964.7H1260.4V989.5H1257.5ZM1260.4 961.6H1263.3V976.9H1260.4ZM1263.3 960.0H1266.2V975.1H1263.3ZM1266.2 960.0H1269.1V979.0H1266.2ZM1269.1 959.1H1272.0V979.0H1269.1ZM1272.0 957.0H1274.9V980.6H1272.0ZM1274.9 957.0H1277.8V982.3H1274.9ZM1277.8 963.8H1280.7V982.3H1277.8ZM1280.7 963.0H1283.6V978.1H1280.7ZM1283.6 962.9H1286.5V980.5H1283.6ZM1286.5 953.8H1289.4V983.7H1286.5ZM1289.4 953.8H1292.3V983.7H1289.4ZM1292.3 961.1H1295.2V981.8H1292.3ZM1295.2 961.3H1298.1V981.8H1295.2ZM1298.1 961.3H1301.0V978.0H1298.1ZM1301.0 964.3H1303.9V981.5H1301.0ZM1303.9 967.0H1306.8V988.9H1303.9ZM1306.8 960.5H1309.7V988.9H1306.8ZM1309.7 956.8H1312.6V973.2H1309.7ZM1312.6 956.8H1315.5V977.8H1312.6ZM1315.5 959.5H1318.4V977.8H1315.5ZM1318.4 965.8H1321.3V977.6H1318.4ZM1321.3 965.1H1324.2V979.4H1321.3ZM1324.2 960.3H1327.1V979.4H1324.2ZM1327.1 960.3H1330.0V980.0H1327.1ZM1330.0 969.5H1332.9V986.4H1330.0ZM1332.9 965.5H1335.8V986.4H1332.9ZM1335.8 961.7H1338.7V979.6H1335.8ZM1338.7 959.6H1341.6V972.1H1338.7ZM1341.6 959.6H1344.5V977.1H1341.6ZM1344.5 964.1H1347.4V977.1H1344.5ZM1347.4 961.4H1350.3V983.8H1347.4ZM1350.3 961.4H1353.2V983.8H1350.3ZM1353.2 960.7H1356.1V983.0H1353.2ZM1356.1 960.7H1359.0V983.0H1356.1ZM1359.0 962.4H1361.9V976.2H1359.0ZM1361.9 964.8H1364.8V981.6H1361.9ZM1364.8 963.8H1367.7V985.6H1364.8ZM1367.7 963.8H1370.6V985.6H1367.7ZM1370.6 963.9H1373.5V983.9H1370.6ZM1373.5 967.7H1376.4V983.0H1373.5ZM1376.4 968.5H1379.3V986.7H1376.4ZM1379.3 968.5H1382.2V986.7H1379.3ZM1382.2 965.2H1385.1V990.2H1382.2ZM1385.1 965.2H1388.0V990.2H1385.1ZM1388.0 960.6H1390.9V985.2H1388.0ZM1390.9 960.6H1393.8V985.2H1390.9ZM1393.8 971.2H1396.7V986.5H1393.8ZM1396.7 972.5H1399.6V986.5H1396.7ZM1399.6 972.1H1402.5V987.7H1399.6ZM1402.5 972.1H1405.4V987.7H1402.5ZM1405.4 974.3H1408.3V987.7H1405.4ZM1408.3 970.2H1411.2V987.7H1408.3ZM1411.2 970.2H1414.1V986.0H1411.2ZM1414.1 971.9H1417.0V986.5H1414.1ZM1417.0 967.6H1419.9V989.6H1417.0ZM1419.9 967.6H1422.8V989.6H1419.9ZM1422.8 976.2H1425.7V992.7H1422.8ZM1425.7 971.7H1428.6V992.7H1425.7ZM1428.6 971.7H1431.5V992.0H1428.6ZM1431.5 973.4H1434.4V993.3H1431.5ZM1434.4 976.8H1437.3V995.4H1434.4ZM1437.3 977.9H1440.2V995.4H1437.3ZM1440.2 973.4H1443.1V991.9H1440.2ZM1443.1 973.4H1446.0V990.8H1443.1ZM1446.0 975.9H1448.9V990.7H1446.0ZM1448.9 975.9H1451.8V999.9H1448.9ZM1451.8 970.7H1454.7V999.9H1451.8ZM1454.7 970.7H1457.6V990.9H1454.7ZM1457.6 974.1H1460.5V998.3H1457.6ZM1460.5 978.8H1463.4V998.3H1460.5ZM1463.4 976.4H1466.3V992.9H1463.4ZM1466.3 976.4H1469.2V996.9H1466.3ZM1469.2 978.5H1472.1V996.9H1469.2ZM1472.1 978.5H1475.0V994.6H1472.1ZM1475.0 979.4H1477.9V994.6H1475.0ZM1477.9 980.0H1480.8V999.1H1477.9ZM1480.8 980.0H1483.7V999.1H1480.8ZM1483.7 983.7H1486.6V1002.9H1483.7ZM1486.6 983.7H1489.5V1002.9H1486.6ZM1489.5 981.1H1492.4V1002.0H1489.5ZM1492.4 981.1H1495.3V1000.6H1492.4ZM1495.3 984.2H1498.2V1000.6H1495.3ZM1498.2 980.2H1501.1V998.2H1498.2ZM1501.1 980.2H1504.0V1001.6H1501.1ZM1504.0 978.8H1506.9V1001.6H1504.0ZM1506.9 978.8H1509.8V1003.2H1506.9ZM1509.8 980.9H1512.7V1003.2H1509.8ZM1512.7 980.9H1515.6V997.3H1512.7ZM1515.6 983.7H1518.5V1002.2H1515.6ZM1518.5 986.7H1521.4V1002.2H1518.5ZM1521.4 987.8H1524.3V1000.6H1521.4ZM1524.3 987.4H1527.2V1001.1H1524.3ZM1527.2 987.4H1530.1V1001.1H1527.2ZM1530.1 988.3H1533.0V1002.8H1530.1ZM1533.0 984.3H1535.9V1002.8H1533.0ZM1535.9 984.3H1538.8V1005.2H1535.9ZM1538.8 991.3H1541.7V1005.2H1538.8ZM1541.7 991.7H1544.6V1004.6H1541.7ZM1544.6 988.9H1547.5V1004.1H1544.6ZM1547.5 988.9H1550.4V1004.1H1547.5ZM1550.4 983.5H1553.3V1010.2H1550.4ZM1553.3 981.3H1556.2V1010.2H1553.3ZM1556.2 981.3H1559.1V1008.3H1556.2ZM1559.1 988.4H1562.0V1007.8H1559.1ZM1562.0 988.4H1564.9V1004.6H1562.0ZM1564.9 990.3H1567.8V1010.2H1564.9ZM1567.8 990.3H1570.7V1010.2H1567.8ZM1570.7 991.6H1573.6V1003.5H1570.7ZM1573.6 991.6H1576.5V1001.9H1573.6ZM1576.5 988.2H1579.4V1002.8H1576.5ZM1579.4 988.2H1582.3V1005.8H1579.4ZM1582.3 987.7H1585.2V1005.9H1582.3ZM1585.2 987.7H1588.1V1006.1H1585.2ZM1588.1 993.0H1591.0V1011.6H1588.1ZM1591.0 993.0H1593.9V1011.6H1591.0ZM1593.9 996.5H1596.8V1009.6H1593.9ZM1596.8 990.2H1599.7V1011.0H1596.8ZM1599.7 986.4H1602.6V1012.3H1599.7ZM1602.6 985.5H1605.5V1012.3H1602.6ZM1605.5 985.5H1608.4V1008.1H1605.5ZM1608.4 990.4H1611.3V1006.9H1608.4ZM1611.3 996.0H1614.2V1011.8H1611.3ZM1614.2 996.8H1617.1V1012.0H1614.2ZM1617.1 996.8H1620.0V1012.0H1617.1ZM1620.0 992.8H1622.9V1010.7H1620.0ZM1622.9 992.8H1625.8V1010.7H1622.9ZM1625.8 993.3H1628.7V1012.1H1625.8ZM1628.7 994.4H1631.6V1014.7H1628.7ZM1631.6 994.4H1634.5V1014.7H1631.6ZM1634.5 990.3H1637.4V1011.3H1634.5ZM1637.4 990.3H1640.3V1011.0H1637.4ZM1640.3 1000.6H1643.2V1011.0H1640.3ZM1643.2 1000.6H1646.1V1014.2H1643.2ZM1646.1 1001.5H1649.0V1014.2H1646.1ZM1649.0 1000.9H1651.9V1012.2H1649.0ZM1651.9 999.3H1654.8V1014.0H1651.9ZM1654.8 996.7H1657.7V1014.0H1654.8ZM1657.7 992.8H1660.6V1013.8H1657.7ZM1660.6 992.8H1663.5V1016.2H1660.6ZM1663.5 999.9H1666.4V1016.2H1663.5ZM1666.4 994.9H1669.3V1015.3H1666.4ZM1669.3 994.9H1672.2V1020.9H1669.3ZM1672.2 998.7H1675.1V1020.9H1672.2ZM1675.1 999.9H1678.0V1019.7H1675.1ZM1678.0 999.2H1680.9V1019.7H1678.0ZM1680.9 999.2H1683.8V1016.4H1680.9ZM1683.8 999.5H1686.7V1016.4H1683.8ZM1686.7 999.2H1689.6V1017.6H1686.7ZM1689.6 999.2H1692.5V1017.6H1689.6ZM1692.5 996.9H1695.4V1016.8H1692.5ZM1695.4 996.9H1698.3V1022.4H1695.4ZM1698.3 1004.7H1701.2V1022.4H1698.3ZM1701.2 1006.7H1704.1V1020.0H1701.2ZM1704.1 995.2H1707.0V1020.0H1704.1ZM1707.0 995.2H1709.9V1018.8H1707.0ZM1709.9 999.6H1712.8V1017.1H1709.9ZM1712.8 999.6H1715.7V1017.7H1712.8ZM1715.7 1000.6H1718.6V1017.7H1715.7ZM1718.6 998.1H1721.5V1029.5H1718.6ZM1721.5 998.1H1722.0V1029.5H1721.5Z"/>
<path fill="#000080" d="M112.0 1113.5H114.9V1124.2H112.0ZM114.9 1110.7H117.8V1124.2H114.9ZM117.8 1110.7H120.7V1121.8H117.8ZM120.7 1109.0H123.6V1121.8H120.7ZM123.6 1109.0H126.5V1121.2H123.6ZM126.5 1109.1H129.4V1120.7H126.5ZM129.4 1109.1H132.3V1122.2H129.4ZM132.3 1107.4H135.2V1122.2H132.3ZM135.2 1107.4H138.1V1121.6H135.2ZM138.1 1113.8H141.0V1121.9H138.1ZM141.0 1112.3H143.9V1121.9H141.0ZM143.9 1107.5H146.8V1120.5H143.9ZM146.8 1107.5H149.7V1123.3H146.8ZM149.7 1109.2H152.6V1123.3H149.7ZM152.6 1109.2H155.5V1122.5H152.6ZM155.5 1109.4H158.4V1121.4H155.5ZM158.4 1105.4H161.3V1121.4H158.4ZM161.3 1105.4H164.2V1119.7H161.3ZM164.2 1107.1H167.1V1118.9H164.2ZM167.1 1108.2H170.0V1121.9H167.1ZM170.0 1104.4H172.9V1121.9H170.0ZM172.9 1102.5H175.8V1120.4H172.9ZM175.8 1102.5H178.7V1115.0H175.8ZM178.7 1106.4H181.6V1118.5H178.7ZM181.6 1107.1H184.5V1118.5H181.6ZM184.5 1105.5H187.4V1115.6H184.5ZM187.4 1105.1H190.3V1114.8H187.4ZM190.3 1102.5H193.2V1114.8H190.3ZM193.2 1102.5H196.1V1118.3H193.2ZM196.1 1100.4H199.0V1118.3H196.1ZM199.0 1100.4H201.9V1114.4H199.0ZM201.9 1101.7H204.8V1116.6H201.9ZM204.8 1104.3H207.7V1116.6H204.8ZM207.7 1101.5H210.6V1115.0H207.7ZM210.6 1098.3H213.5V1111.6H210.6ZM213.5 1098.3H216.4V1115.0H213.5ZM216.4 1101.4H219.3V1115.0H216.4ZM219.3 1100.4H222.2V1111.2H219.3ZM222.2 1098.4H225.1V1111.1H222.2ZM225.1 1095.2H228.0V1110.5H225.1ZM228.0 1095.2H230.9V1110.5H228.0ZM230.9 1095.4H233.8V1110.6H230.9ZM233.8 1095.4H236.7V1110.6H233.8ZM236.7 1096.4H239.6V1109.9H236.7ZM239.6 1097.5H242.5V1112.5H239.6ZM242.5 1098.1H245.4V1112.5H242.5ZM245.4 1095.7H248.3V1109.6H245.4ZM248.3 1095.7H251.2V1109.6H248.3ZM251.2 1093.8H254.1V1105.8H251.2ZM254.1 1093.8H257.0V1106.7H254.1ZM257.0 1092.6H259.9V1106.7H257.0ZM259.9 1091.0H262.8V1104.4H259.9ZM262.8 1091.0H265.7V1102.3H262.8ZM265.7 1091.2H268.6V1106.1H265.7ZM268.6 1091.2H271.5V1106.1H268.6ZM271.5 1084.4H274.4V1099.8H271.5ZM274.4 1084.4H277.3V1099.8H274.4ZM277.3 1085.5H280.2V1096.8H277.3ZM280.2 1085.0H283.1V1097.2H280.2ZM283.1 1083.8H286.0V1097.2H283.1ZM286.0 1083.0H288.9V1096.7H286.0ZM288.9 1076.9H291.8V1093.6H288.9ZM291.8 1076.9H294.7V1091.8H291.8ZM294.7 1074.8H297.6V1092.3H294.7ZM297.6 1074.8H300.5V1092.3H297.6ZM300.5 1072.8H303.4V1084.3H300.5ZM303.4 1067.2H306.3V1081.8H303.4ZM306.3 1064.2H309.2V1081.8H306.3ZM309.2 1064.2H312.1V1079.4H309.2ZM312.1 1064.6H315.0V1076.1H312.1ZM315.0 1058.4H317.9V1076.1H315.0ZM317.9 1058.4H320.8V1076.8H317.9ZM320.8 1054.8H323.7V1076.8H320.8ZM323.7 1046.0H326.6V1067.9H323.7ZM326.6 1046.0H329.5V1067.9H326.6ZM329.5 1049.5H332.4V1064.2H329.5ZM332.4 1047.7H335.3V1059.3H332.4ZM335.3 1039.6H338.2V1055.2H335.3ZM338.2 1039.6H341.1V1054.2H338.2ZM341.1 1037.9H344.0V1053.4H341.1ZM344.0 1036.2H346.9V1055.1H344.0ZM346.9 1036.2H349.8V1055.1H346.9ZM349.8 1035.5H352.7V1049.7H349.8ZM352.7 1031.9H355.6V1048.2H352.7ZM355.6 1031.4H358.5V1042.7H355.6ZM358.5 1031.4H361.4V1042.7H358.5ZM361.4 1027.9H364.3V1041.7H361.4ZM364.3 1027.3H367.2V1040.2H364.3ZM367.2 1022.5H370.1V1037.8H367.2ZM370.1 1021.3H373.0V1041.9H370.1ZM373.0 1019.4H375.9V1041.9H373.0ZM375.9 1015.0H378.8V1032.9H375.9ZM378.8 1012.5H381.7V1032.9H378.8ZM381.7 1012.5H384.6V1029.6H381.7ZM384.6 1010.6H387.5V1029.0H384.6ZM387.5 1010.6H390.4V1028.1H387.5ZM390.4 1007.9H393.3V1028.1H390.4ZM393.3 1006.5H396.2V1019.4H393.3ZM396.2 993.4H399.1V1014.7H396.2ZM399.1 993.4H402.0V1016.6H399.1ZM402.0 996.7H404.9V1016.6H402.0ZM404.9 993.2H407.8V1021.0H404.9ZM407.8 987.6H410.7V1021.0H407.8ZM410.7 987.6H413.6V1007.5H410.7ZM413.6 988.3H416.5V1000.5H413.6ZM416.5 988.8H419.4V1008.4H416.5ZM419.4 984.7H422.3V1008.4H419.4ZM422.3 984.7H425.2V1000.7H422.3ZM425.2 980.7H428.1V1000.7H425.2ZM428.1 980.7H431.0V994.2H428.1ZM431.0 981.9H433.9V996.8H431.0ZM433.9 978.9H436.8V998.2H433.9ZM436.8 972.6H439.7V998.2H436.8ZM439.7 972.6H442.6V987.6H439.7ZM442.6 968.8H445.5V983.7H442.6ZM445.5 963.4H448.4V980.6H445.5ZM448.4 963.4H451.3V980.6H448.4ZM451.3 957.7H454.2V977.2H451.3ZM454.2 956.9H457.1V972.2H454.2ZM457.1 956.9H460.0V971.0H457.1ZM460.0 951.3H462.9V968.9H460.0ZM462.9 951.3H465.8V969.3H462.9ZM465.8 938.3H468.7V972.8H465.8ZM468.7 938.3H471.6V972.8H468.7ZM471.6 942.4H474.5V966.6H471.6ZM474.5 939.6H477.4V960.9H474.5ZM477.4 939.6H480.3V964.5H477.4ZM480.3 947.0H483.2V964.5H480.3ZM483.2 947.0H486.1V963.4H483.2ZM486.1 945.9H489.0V963.4H486.1ZM489.0 945.9H491.9V962.4H489.0ZM491.9 939.1H494.8V958.7H491.9ZM494.8 931.6H497.7V958.7H494.8ZM497.7 931.6H500.6V956.0H497.7ZM500.6 930.2H503.5V959.3H500.6ZM503.5 930.2H506.4V959.3H503.5ZM506.4 936.1H509.3V963.4H506.4ZM509.3 935.2H512.2V963.4H509.3ZM512.2 935.2H515.1V954.6H512.2ZM515.1 939.4H518.0V956.6H515.1ZM518.0 939.1H520.9V956.6H518.0ZM520.9 935.5H523.8V947.8H520.9ZM523.8 930.5H526.7V958.5H523.8ZM526.7 930.5H529.6V958.5H526.7ZM529.6 927.1H532.5V948.5H529.6ZM532.5 927.1H535.4V954.3H532.5ZM535.4 925.0H538.3V954.3H535.4ZM538.3 925.0H541.2V951.5H538.3ZM541.2 931.6H544.1V951.5H541.2ZM544.1 931.6H547.0V960.9H544.1ZM547.0 927.3H549.9V960.9H547.0ZM549.9 927.3H552.8V950.9H549.9ZM552.8 932.7H555.7V956.3H552.8ZM555.7 933.3H558.6V956.3H555.7ZM558.6 932.0H561.5V958.8H558.6ZM561.5 932.0H564.4V958.8H561.5ZM564.4 937.6H567.3V959.4H564.4ZM567.3 931.2H570.2V959.4H567.3ZM570.2 929.0H573.1V951.2H570.2ZM573.1 929.0H576.0V962.5H573.1ZM576.0 930.6H578.9V962.5H576.0ZM578.9 930.6H581.8V952.4H578.9ZM581.8 933.1H584.7V951.0H581.8ZM584.7 928.5H587.6V951.0H584.7ZM587.6 928.5H590.5V958.4H587.6ZM590.5 933.0H593.4V959.6H590.5ZM593.4 924.6H596.3V959.6H593.4ZM596.3 924.6H599.2V953.5H596.3ZM599.2 940.1H602.1V968.4H599.2ZM602.1 938.2H605.0V968.4H602.1ZM605.0 934.1H607.9V957.8H605.0ZM607.9 934.1H610.8V957.8H607.9ZM610.8 936.6H613.7V954.4H610.8ZM613.7 937.1H616.6V954.4H613.7ZM616.6 935.2H619.5V953.4H616.6ZM619.5 922.8H622.4V948.9H619.5ZM622.4 922.8H625.3V952.4H622.4ZM625.3 933.0H628.2V955.5H625.3ZM628.2 933.0H631.1V962.2H628.2ZM631.1 933.4H634.0V962.2H631.1ZM634.0 930.1H636.9V950.8H634.0ZM636.9 930.1H639.8V952.7H636.9ZM639.8 927.1H642.7V958.0H639.8ZM642.7 926.0H645.6V958.0H642.7ZM645.6 926.0H648.5V951.3H645.6ZM648.5 931.3H651.4V956.3H648.5ZM651.4 923.4H654.3V956.3H651.4ZM654.3 922.6H657.2V953.3H654.3ZM657.2 922.6H660.1V949.1H657.2ZM660.1 925.8H663.0V949.1H660.1ZM663.0 923.1H665.9V950.4H663.0ZM665.9 923.1H668.8V958.1H665.9ZM668.8 927.9H671.7V958.1H668.8ZM671.7 918.3H674.6V944.6H671.7ZM674.6 918.3H677.5V946.0H674.6ZM677.5 926.4H680.4V947.1H677.5ZM680.4 914.5H683.3V947.1H680.4ZM683.3 914.5H686.2V951.0H683.3ZM686.2 925.2H689.1V951.0H686.2ZM689.1 919.2H692.0V945.3H689.1ZM692.0 918.8H694.9V949.6H692.0ZM694.9 918.8H697.8V952.6H694.9ZM697.8 926.5H700.7V952.6H697.8ZM700.7 920.9H703.6V947.6H700.7ZM703.6 920.9H706.5V937.6H703.6ZM706.5 924.7H709.4V938.6H706.5ZM709.4 923.8H712.3V938.6H709.4ZM712.3 923.8H715.2V944.1H712.3ZM715.2 922.8H718.1V944.1H715.2ZM718.1 922.8H721.0V942.4H718.1ZM721.0 921.8H723.9V942.4H721.0ZM723.9 921.8H726.8V945.5H723.9ZM726.8 913.5H729.7V946.2H726.8ZM729.7 913.5H732.6V946.2H729.7ZM732.6 921.1H735.5V945.9H732.6ZM735.5 921.1H738.4V947.9H735.5ZM738.4 920.3H741.3V950.4H738.4ZM741.3 920.3H744.2V950.4H741.3ZM744.2 920.8H747.1V945.9H744.2ZM747.1 921.5H750.0V945.9H747.1ZM750.0 921.5H752.9V944.8H750.0ZM752.9 926.9H755.8V946.2H752.9ZM755.8 924.7H758.7V950.2H755.8ZM758.7 922.9H761.6V950.2H758.7ZM761.6 922.9H764.5V943.5H761.6ZM764.5 928.1H767.4V943.8H764.5ZM767.4 925.3H770.3V943.8H767.4ZM770.3 925.3H773.2V951.5H770.3ZM773.2 925.4H776.1V951.5H773.2ZM776.1 919.0H779.0V954.9H776.1ZM779.0 919.0H781.9V954.9H779.0ZM781.9 916.3H784.8V947.1H781.9ZM784.8 916.3H787.7V949.0H784.8ZM787.7 930.0H790.6V949.0H787.7ZM790.6 926.8H793.5V948.9H790.6ZM793.5 926.8H796.4V957.6H793.5ZM796.4 938.0H799.3V957.6H796.4ZM799.3 930.6H802.2V950.1H799.3ZM802.2 926.0H805.1V949.1H802.2ZM805.1 926.0H808.0V957.8H805.1ZM808.0 938.8H810.9V959.9H808.0ZM810.9 931.6H813.8V959.9H810.9ZM813.8 931.6H816.7V958.6H813.8ZM816.7 937.3H819.6V970.6H816.7ZM819.6 941.5H822.5V970.6H819.6ZM822.5 938.0H825.4V962.1H822.5ZM825.4 938.0H828.3V968.1H825.4ZM828.3 942.2H831.2V968.1H828.3ZM831.2 942.2H834.1V967.9H831.2ZM834.1 946.7H837.0V967.9H834.1ZM837.0 940.4H839.9V971.3H837.0ZM839.9 940.4H842.8V971.3H839.9ZM842.8 948.4H845.7V974.4H842.8ZM845.7 952.3H848.6V975.2H845.7ZM848.6 947.0H851.5V975.2H848.6ZM851.5 947.0H854.4V975.9H851.5ZM854.4 948.8H857.3V975.9H854.4ZM857.3 952.6H860.2V974.2H857.3ZM860.2 947.6H863.1V973.7H860.2ZM863.1 947.6H866.0V976.7H863.1ZM866.0 952.3H868.9V978.1H866.0ZM868.9 953.6H871.8V985.8H868.9ZM871.8 959.9H874.7V985.8H871.8ZM874.7 961.0H877.6V981.8H874.7ZM877.6 961.7H880.5V986.9H877.6ZM880.5 965.9H883.4V986.9H880.5ZM883.4 968.9H886.3V990.3H883.4ZM886.3 969.1H889.2V990.3H886.3ZM889.2 966.4H892.1V980.6H889.2ZM892.1 966.4H895.0V993.1H892.1ZM895.0 973.7H897.9V993.1H895.0ZM897.9 973.5H900.8V989.1H897.9ZM900.8 962.2H903.7V987.3H900.8ZM903.7 962.2H906.6V991.6H903.7ZM906.6 977.3H909.5V998.8H906.6ZM909.5 977.3H912.4V998.8H909.5ZM912.4 980.1H915.3V998.1H912.4ZM915.3 971.2H918.2V998.1H915.3ZM918.2 971.2H921.1V996.0H918.2ZM921.1 976.2H924.0V1000.8H921.1ZM924.0 982.9H926.9V1000.8H924.0ZM926.9 981.1H929.8V998.4H926.9ZM929.8 981.1H932.7V1000.7H929.8ZM932.7 982.0H935.6V1004.5H932.7ZM935.6 985.2H938.5V1004.5H935.6ZM938.5 985.2H941.4V1004.2H938.5ZM941.4 991.1H944.3V1010.0H941.4ZM944.3 991.1H947.2V1010.0H944.3ZM947.2 991.2H950.1V1012.6H947.2ZM950.1 994.6H953.0V1012.6H950.1ZM953.0 990.0H955.9V1016.4H953.0ZM955.9 990.0H958.8V1017.1H955.9ZM958.8 995.6H961.7V1017.1H958.8ZM961.7 998.4H964.6V1017.4H961.7ZM964.6 999.7H967.5V1017.4H964.6ZM967.5 998.6H970.4V1021.3H967.5ZM970.4 998.6H973.3V1021.3H970.4ZM973.3 1001.9H976.2V1028.6H973.3ZM976.2 1000.9H979.1V1028.6H976.2ZM979.1 999.0H982.0V1021.9H979.1ZM982.0 999.0H984.9V1021.9H982.0ZM984.9 1005.3H987.8V1023.3H984.9ZM987.8 1008.5H990.7V1023.3H987.8ZM990.7 1008.9H993.6V1029.9H990.7ZM993.6 1007.9H996.5V1029.9H993.6ZM996.5 1002.2H999.4V1023.4H996.5ZM999.4 1002.2H1002.3V1026.3H999.4ZM1002.3 1010.2H1005.2V1027.3H1002.3ZM1005.2 1006.4H1008.1V1028.4H1005.2ZM1008.1 1006.4H1011.0V1034.6H1008.1ZM1011.0 1010.3H1013.9V1034.6H1011.0ZM1013.9 1017.7H1016.8V1033.5H1013.9ZM1016.8 1008.1H1019.7V1033.1H1016.8ZM1019.7 1008.1H1022.6V1034.0H1019.7ZM1022.6 1016.4H1025.5V1036.8H1022.6ZM1025.5 1016.4H1028.4V1041.5H1025.5ZM1028.4 1007.8H1031.3V1041.5H1028.4ZM1031.3 1007.8H1034.2V1046.6H1031.3ZM1034.2 1023.9H1037.1V1046.6H1034.2ZM1037.1 1025.3H1040.0V1045.9H1037.1ZM1040.0 1022.9H1042.9V1049.7H1040.0ZM1042.9 1022.9H1045.8V1049.7H1042.9ZM1045.8 1025.7H1048.7V1042.0H1045.8ZM1048.7 1031.6H1051.6V1042.0H1048.7ZM1051.6 1027.0H1054.5V1044.8H1051.6ZM1054.5 1027.0H1057.4V1046.0H1054.5ZM1057.4 1031.9H1060.3V1046.0H1057.4ZM1060.3 1030.3H1063.2V1046.6H1060.3ZM1063.2 1023.8H1066.1V1046.6H1063.2ZM1066.1 1023.8H1069.0V1041.2H1066.1ZM1069.0 1033.6H1071.9V1051.6H1069.0ZM1071.9 1033.4H1074.8V1051.6H1071.9ZM1074.8 1031.6H1077.7V1059.6H1074.8ZM1077.7 1031.6H1080.6V1059.6H1077.7ZM1080.6 1034.5H1083.5V1051.7H1080.6ZM1083.5 1036.3H1086.4V1051.7H1083.5ZM1086.4 1036.9H1089.3V1053.9H1086.4ZM1089.3 1038.1H1092.2V1053.9H1089.3ZM1092.2 1038.1H1095.1V1053.3H1092.2ZM1095.1 1027.4H1098.0V1052.5H1095.1ZM1098.0 1027.4H1100.9V1054.3H1098.0ZM1100.9 1038.3H1103.8V1060.3H1100.9ZM1103.8 1036.9H1106.7V1060.3H1103.8ZM1106.7 1036.6H1109.6V1058.2H1106.7ZM1109.6 1036.6H1112.5V1063.9H1109.6ZM1112.5 1039.1H1115.4V1063.9H1112.5ZM1115.4 1043.9H1118.3V1060.8H1115.4ZM1118.3 1045.9H1121.2V1059.6H1118.3ZM1121.2 1045.9H1124.1V1060.3H1121.2ZM1124.1 1042.3H1127.0V1060.3H1124.1ZM1127.0 1042.3H1129.9V1060.9H1127.0ZM1129.9 1045.6H1132.8V1060.9H1129.9ZM1132.8 1045.6H1135.7V1062.7H1132.8ZM1135.7 1046.0H1138.6V1062.7H1135.7ZM1138.6 1041.5H1141.5V1061.2H1138.6ZM1141.5 1041.5H1144.4V1070.1H1141.5ZM1144.4 1042.8H1147.3V1070.1H1144.4ZM1147.3 1042.8H1150.2V1064.3H1147.3ZM1150.2 1045.9H1153.1V1068.1H1150.2ZM1153.1 1043.0H1156.0V1068.1H1153.1ZM1156.0 1043.0H1158.9V1065.7H1156.0ZM1158.9 1044.5H1161.8V1065.7H1158.9ZM1161.8 1044.5H1164.7V1063.8H1161.8ZM1164.7 1049.2H1167.6V1068.7H1164.7ZM1167.6 1053.0H1170.5V1070.5H1167.6ZM1170.5 1051.1H1173.4V1070.5H1170.5ZM1173.4 1051.1H1176.3V1067.4H1173.4ZM1176.3 1052.2H1179.2V1073.2H1176.3ZM1179.2 1052.2H1182.1V1073.2H1179.2ZM1182.1 1053.2H1185.0V1068.7H1182.1ZM1185.0 1049.5H1187.9V1071.1H1185.0ZM1187.9 1049.5H1190.8V1071.1H1187.9ZM1190.8 1054.9H1193.7V1068.0H1190.8ZM1193.7 1047.5H1196.6V1065.8H1193.7ZM1196.6 1040.4H1199.5V1064.7H1196.6ZM1199.5 1040.4H1202.4V1069.4H1199.5ZM1202.4 1046.1H1205.3V1069.4H1202.4ZM1205.3 1048.3H1208.2V1071.6H1205.3ZM1208.2 1048.7H1211.1V1071.6H1208.2ZM1211.1 1046.4H1214.0V1073.0H1211.1ZM1214.0 1044.2H1216.9V1073.0H1214.0ZM1216.9 1044.2H1219.8V1072.0H1216.9ZM1219.8 1047.4H1222.7V1072.0H1219.8ZM1222.7 1047.4H1225.6V1065.5H1222.7ZM1225.6 1047.3H1228.5V1068.1H1225.6ZM1228.5 1047.3H1231.4V1068.1H1228.5ZM1231.4 1046.8H1234.3V1066.9H1231.4ZM1234.3 1046.8H1237.2V1067.9H1234.3ZM1237.2 1051.4H1240.1V1067.9H1237.2ZM1240.1 1049.7H1243.0V1066.6H1240.1ZM1243.0 1049.7H1245.9V1066.6H1243.0ZM1245.9 1050.0H1248.8V1062.8H1245.9ZM1248.8 1046.6H1251.7V1064.0H1248.8ZM1251.7 1046.6H1254.6V1064.0H1251.7ZM1254.6 1047.2H1257.5V1065.9H1254.6ZM1257.5 1047.2H1260.4V1065.9H1257.5ZM1260.4 1041.8H1263.3V1062.2H1260.4ZM1263.3 1041.8H1266.2V1064.9H1263.3ZM1266.2 1046.5H1269.1V1066.8H1266.2ZM1269.1 1046.5H1272.0V1072.3H1269.1ZM1272.0 1046.8H1274.9V1072.3H1272.0ZM1274.9 1050.7H1277.8V1069.3H1274.9ZM1277.8 1036.5H1280.7V1066.8H1277.8ZM1280.7 1036.5H1283.6V1066.8H1280.7ZM1283.6 1045.0H1286.5V1066.1H1283.6ZM1286.5 1045.0H1289.4V1066.1H1286.5ZM1289.4 1049.4H1292.3V1064.9H1289.4ZM1292.3 1049.4H1295.2V1062.4H1292.3ZM1295.2 1051.2H1298.1V1064.3H1295.2ZM1298.1 1047.8H1301.0V1064.3H1298.1ZM1301.0 1043.2H1303.9V1064.1H1301.0ZM1303.9 1043.2H1306.8V1064.1H1303.9ZM1306.8 1052.9H1309.7V1064.1H1306.8ZM1309.7 1043.6H1312.6V1063.6H1309.7ZM1312.6 1043.6H1315.5V1069.8H1312.6ZM1315.5 1046.5H1318.4V1069.8H1315.5ZM1318.4 1048.1H1321.3V1060.6H1318.4ZM1321.3 1048.2H1324.2V1060.8H1321.3ZM1324.2 1048.2H1327.1V1065.6H1324.2ZM1327.1 1049.8H1330.0V1065.6H1327.1ZM1330.0 1049.8H1332.9V1074.5H1330.0ZM1332.9 1048.4H1335.8V1074.5H1332.9ZM1335.8 1044.2H1338.7V1072.8H1335.8ZM1338.7 1044.2H1341.6V1072.8H1338.7ZM1341.6 1048.6H1344.5V1071.7H1341.6ZM1344.5 1048.6H1347.4V1071.7H1344.5ZM1347.4 1054.2H1350.3V1069.6H1347.4ZM1350.3 1047.7H1353.2V1067.1H1350.3ZM1353.2 1047.7H1356.1V1069.9H1353.2ZM1356.1 1050.3H1359.0V1069.9H1356.1ZM1359.0 1051.4H1361.9V1071.2H1359.0ZM1361.9 1051.4H1364.8V1071.2H1361.9ZM1364.8 1056.8H1367.7V1070.2H1364.8ZM1367.7 1056.8H1370.6V1073.1H1367.7ZM1370.6 1052.2H1373.5V1073.1H1370.6ZM1373.5 1052.2H1376.4V1067.2H1373.5ZM1376.4 1052.2H1379.3V1074.8H1376.4ZM1379.3 1052.9H1382.2V1074.8H1379.3ZM1382.2 1055.8H1385.1V1072.3H1382.2ZM1385.1 1056.0H1388.0V1070.0H1385.1ZM1388.0 1056.0H1390.9V1072.9H1388.0ZM1390.9 1062.2H1393.8V1074.7H1390.9ZM1393.8 1054.0H1396.7V1074.7H1393.8ZM1396.7 1054.0H1399.6V1071.8H1396.7ZM1399.6 1054.9H1402.5V1076.6H1399.6ZM1402.5 1061.0H1405.4V1076.6H1402.5ZM1405.4 1062.6H1408.3V1076.5H1405.4ZM1408.3 1061.1H1411.2V1076.4H1408.3ZM1411.2 1059.8H1414.1V1075.8H1411.2ZM1414.1 1059.8H1417.0V1078.7H1414.1ZM1417.0 1057.5H1419.9V1078.7H1417.0ZM1419.9 1057.5H1422.8V1077.4H1419.9ZM1422.8 1061.5H1425.7V1075.5H1422.8ZM1425.7 1061.1H1428.6V1079.1H1425.7ZM1428.6 1059.0H1431.5V1079.1H1428.6ZM1431.5 1059.0H1434.4V1079.9H1431.5ZM1434.4 1065.8H1437.3V1079.9H1434.4ZM1437.3 1060.6H1440.2V1078.1H1437.3ZM1440.2 1060.6H1443.1V1078.1H1440.2ZM1443.1 1066.9H1446.0V1086.2H1443.1ZM1446.0 1066.0H1448.9V1086.2H1446.0ZM1448.9 1066.0H1451.8V1084.0H1448.9ZM1451.8 1065.7H1454.7V1082.7H1451.8ZM1454.7 1062.5H1457.6V1089.5H1454.7ZM1457.6 1062.5H1460.5V1089.5H1457.6ZM1460.5 1062.8H1463.4V1084.5H1460.5ZM1463.4 1069.4H1466.3V1084.4H1463.4ZM1466.3 1067.6H1469.2V1086.9H1466.3ZM1469.2 1067.6H1472.1V1087.2H1469.2ZM1472.1 1070.7H1475.0V1087.2H1472.1ZM1475.0 1067.0H1477.9V1086.7H1475.0ZM1477.9 1067.0H1480.8V1089.9H1477.9ZM1480.8 1069.1H1483.7V1089.9H1480.8ZM1483.7 1072.1H1486.6V1085.4H1483.7ZM1486.6 1067.5H1489.5V1085.4H1486.6ZM1489.5 1067.5H1492.4V1089.1H1489.5ZM1492.4 1072.6H1495.3V1089.1H1492.4ZM1495.3 1071.3H1498.2V1088.0H1495.3ZM1498.2 1071.3H1501.1V1088.0H1498.2ZM1501.1 1074.0H1504.0V1094.1H1501.1ZM1504.0 1073.6H1506.9V1094.1H1504.0ZM1506.9 1073.0H1509.8V1092.5H1506.9ZM1509.8 1073.0H1512.7V1092.5H1509.8ZM1512.7 1073.9H1515.6V1087.2H1512.7ZM1515.6 1076.6H1518.5V1097.3H1515.6ZM1518.5 1076.6H1521.4V1097.3H1518.5ZM1521.4 1080.8H1524.3V1092.7H1521.4ZM1524.3 1071.5H1527.2V1091.5H1524.3ZM1527.2 1071.5H1530.1V1090.6H1527.2ZM1530.1 1079.2H1533.0V1091.6H1530.1ZM1533.0 1079.4H1535.9V1092.9H1533.0ZM1535.9 1079.2H1538.8V1094.0H1535.9ZM1538.8 1073.9H1541.7V1094.0H1538.8ZM1541.7 1073.9H1544.6V1091.4H1541.7ZM1544.6 1078.8H1547.5V1092.9H1544.6ZM1547.5 1077.4H1550.4V1093.3H1547.5ZM1550.4 1077.4H1553.3V1093.3H1550.4ZM1553.3 1079.1H1556.2V1094.0H1553.3ZM1556.2 1082.0H1559.1V1094.0H1556.2ZM1559.1 1080.8H1562.0V1092.5H1559.1ZM1562.0 1080.8H1564.9V1092.5H1562.0ZM1564.9 1078.2H1567.8V1096.8H1564.9ZM1567.8 1076.2H1570.7V1096.8H1567.8ZM1570.7 1076.2H1573.6V1091.0H1570.7ZM1573.6 1079.5H1576.5V1095.5H1573.6ZM1576.5 1079.0H1579.4V1095.5H1576.5ZM1579.4 1079.0H1582.3V1094.8H1579.4ZM1582.3 1078.3H1585.2V1095.3H1582.3ZM1585.2 1078.3H1588.1V1095.3H1585.2ZM1588.1 1079.3H1591.0V1101.1H1588.1ZM1591.0 1081.5H1593.9V1101.1H1591.0ZM1593.9 1082.4H1596.8V1102.2H1593.9ZM1596.8 1082.4H1599.7V1102.2H1596.8ZM1599.7 1087.5H1602.6V1103.2H1599.7ZM1602.6 1079.5H1605.5V1103.2H1602.6ZM1605.5 1079.5H1608.4V1097.6H1605.5ZM1608.4 1085.0H1611.3V1097.6H1608.4ZM1611.3 1085.9H1614.2V1098.6H1611.3ZM1614.2 1085.9H1617.1V1098.6H1614.2ZM1617.1 1080.7H1620.0V1101.6H1617.1ZM1620.0 1080.7H1622.9V1102.0H1620.0ZM1622.9 1084.1H1625.8V1102.0H1622.9ZM1625.8 1085.3H1628.7V1102.9H1625.8ZM1628.7 1091.0H1631.6V1104.3H1628.7ZM1631.6 1091.0H1634.5V1104.3H1631.6ZM1634.5 1087.0H1637.4V1101.9H1634.5ZM1637.4 1087.0H1640.3V1101.9H1637.4ZM1640.3 1088.1H1643.2V1100.9H1640.3ZM1643.2 1088.0H1646.1V1103.6H1643.2ZM1646.1 1088.0H1649.0V1103.6H1646.1ZM1649.0 1089.4H1651.9V1102.8H1649.0ZM1651.9 1091.6H1654.8V1105.7H1651.9ZM1654.8 1091.6H1657.7V1105.7H1654.8ZM1657.7 1091.8H1660.6V1113.6H1657.7ZM1660.6 1091.8H1663.5V1113.6H1660.6ZM1663.5 1088.0H1666.4V1105.9H1663.5ZM1666.4 1088.0H1669.3V1107.5H1666.4ZM1669.3 1088.6H1672.2V1107.5H1669.3ZM1672.2 1092.7H1675.1V1106.8H1672.2ZM1675.1 1091.2H1678.0V1105.9H1675.1ZM1678.0 1088.4H1680.9V1104.1H1678.0ZM1680.9 1088.4H1683.8V1104.1H1680.9ZM1683.8 1091.3H1686.7V1105.2H1683.8ZM1686.7 1093.1H1689.6V1105.2H1686.7ZM1689.6 1091.9H1692.5V1106.5H1689.6ZM1692.5 1085.8H1695.4V1106.5H1692.5ZM1695.4 1085.8H1698.3V1106.9H1695.4ZM1698.3 1091.5H1701.2V1106.9H1698.3ZM1701.2 1091.5H1704.1V1106.5H1701.2ZM1704.1 1090.6H1707.0V1110.8H1704.1ZM1707.0 1087.3H1709.9V1115.3H1707.0ZM1709.9 1087.3H1712.8V1115.3H1709.9ZM1712.8 1090.6H1715.7V1112.0H1712.8ZM1715.7 1090.6H1718.6V1107.9H1715.7ZM1718.6 1090.9H1721.5V1109.6H1718.6ZM1721.5 1099.8H1722.0V1109.6H1721.5Z"/>
<path fill="#8000ff" d="M112.0 1205.1H114.9V1218.4H112.0ZM114.9 1203.4H117.8V1217.0H114.9ZM117.8 1203.4H120.7V1219.8H117.8ZM120.7 1204.0H123.6V1219.8H120.7ZM123.6 1206.7H126.5V1218.0H123.6ZM126.5 1202.0H129.4V1219.4H126.5ZM129.4 1202.0H132.3V1219.4H129.4ZM132.3 1204.9H135.2V1218.4H132.3ZM135.2 1200.4H138.1V1213.5H135.2ZM138.1 1200.4H141.0V1213.7H138.1ZM141.0 1203.8H143.9V1215.3H141.0ZM143.9 1204.9H146.8V1215.3H143.9ZM146.8 1202.4H149.7V1214.7H146.8ZM149.7 1202.4H152.6V1213.3H149.7ZM152.6 1202.6H155.5V1214.8H152.6ZM155.5 1201.4H158.4V1220.5H155.5ZM158.4 1201.4H161.3V1220.5H158.4ZM161.3 1202.6H164.2V1218.1H161.3ZM164.2 1202.6H167.1V1218.1H164.2ZM167.1 1203.1H170.0V1213.4H167.1ZM170.0 1201.6H172.9V1213.4H170.0ZM172.9 1201.6H175.8V1217.8H172.9ZM175.8 1205.2H178.7V1217.8H175.8ZM178.7 1202.0H181.6V1214.2H178.7ZM181.6 1202.0H184.5V1214.1H181.6ZM184.5 1196.7H187.4V1214.1H184.5ZM187.4 1196.7H190.3V1210.6H187.4ZM190.3 1199.9H193.2V1211.7H190.3ZM193.2 1199.6H196.1V1211.7H193.2ZM196.1 1199.4H199.0V1212.5H196.1ZM199.0 1199.4H201.9V1215.6H199.0ZM201.9 1200.2H204.8V1215.6H201.9ZM204.8 1197.6H207.7V1213.4H204.8ZM207.7 1197.6H210.6V1210.5H207.7ZM210.6 1194.8H213.5V1210.5H210.6ZM213.5 1194.4H216.4V1209.0H213.5ZM216.4 1193.5H219.3V1207.3H216.4ZM219.3 1193.5H222.2V1206.8H219.3ZM222.2 1193.0H225.1V1208.0H222.2ZM225.1 1193.0H228.0V1208.0H225.1ZM228.0 1194.8H230.9V1207.8H228.0ZM230.9 1189.5H233.8V1208.3H230.9ZM233.8 1189.5H236.7V1208.3H233.8ZM236.7 1190.0H239.6V1202.8H236.7ZM239.6 1191.8H242.5V1202.8H239.6ZM242.5 1188.9H245.4V1201.8H242.5ZM245.4 1188.9H248.3V1199.5H245.4ZM248.3 1191.0H251.2V1199.5H248.3ZM251.2 1186.5H254.1V1202.9H251.2ZM254.1 1184.9H257.0V1202.9H254.1ZM257.0 1184.9H259.9V1197.6H257.0ZM259.9 1187.8H262.8V1196.5H259.9ZM262.8 1187.8H265.7V1199.4H262.8ZM265.7 1188.0H268.6V1199.4H265.7ZM268.6 1188.0H271.5V1199.0H268.6ZM271.5 1186.9H274.4V1198.8H271.5ZM274.4 1178.7H277.3V1198.5H274.4ZM277.3 1178.7H280.2V1198.5H277.3ZM280.2 1185.0H283.1V1192.5H280.2ZM283.1 1180.6H286.0V1192.5H283.1ZM286.0 1174.2H288.9V1194.9H286.0ZM288.9 1174.2H291.8V1194.9H288.9ZM291.8 1176.2H294.7V1188.2H291.8ZM294.7 1171.7H297.6V1185.8H294.7ZM297.6 1171.4H300.5V1181.7H297.6ZM300.5 1170.5H303.4V1180.9H300.5ZM303.4 1170.5H306.3V1182.7H303.4ZM306.3 1173.1H309.2V1182.7H306.3ZM309.2 1168.4H312.1V1181.3H309.2ZM312.1 1160.6H315.0V1178.3H312.1ZM315.0 1158.3H317.9V1178.4H315.0ZM317.9 1158.3H320.8V1178.4H317.9ZM320.8 1154.5H323.7V1172.6H320.8ZM323.7 1154.5H326.6V1174.5H323.7ZM326.6 1154.2H329.5V1174.5H326.6ZM329.5 1154.2H332.4V1166.4H329.5ZM332.4 1154.8H335.3V1166.4H332.4ZM335.3 1152.5H338.2V1166.1H335.3ZM338.2 1151.6H341.1V1166.1H338.2ZM341.1 1151.6H344.0V1163.4H341.1ZM344.0 1145.9H346.9V1170.0H344.0ZM346.9 1143.8H349.8V1170.0H346.9ZM349.8 1143.8H352.7V1154.3H349.8ZM352.7 1144.4H355.6V1154.7H352.7ZM355.6 1136.4H358.5V1154.7H355.6ZM358.5 1131.0H361.4V1153.1H358.5ZM361.4 1131.0H364.3V1150.8H361.4ZM364.3 1129.9H367.2V1149.4H364.3ZM367.2 1129.9H370.1V1151.3H367.2ZM370.1 1133.2H373.0V1151.3H370.1ZM373.0 1127.4H375.9V1146.3H373.0ZM375.9 1123.2H378.8V1141.8H375.9ZM378.8 1115.1H381.7V1135.9H378.8ZM381.7 1115.1H384.6V1135.9H381.7ZM384.6 1120.8H387.5V1134.1H384.6ZM387.5 1112.7H390.4V1134.1H387.5ZM390.4 1112.7H393.3V1133.1H390.4ZM393.3 1109.0H396.2V1127.8H393.3ZM396.2 1109.0H399.1V1121.7H396.2ZM399.1 1102.9H402.0V1120.7H399.1ZM402.0 1101.8H404.9V1120.7H402.0ZM404.9 1101.8H407.8V1119.8H404.9ZM407.8 1097.3H410.7V1116.1H407.8ZM410.7 1094.7H413.6V1114.2H410.7ZM413.6 1094.7H416.5V1112.4H413.6ZM416.5 1093.7H419.4V1112.4H416.5ZM419.4 1093.7H422.3V1114.4H419.4ZM422.3 1090.3H425.2V1114.4H422.3ZM425.2 1090.0H428.1V1105.4H425.2ZM428.1 1085.7H431.0V1105.4H428.1ZM431.0 1085.7H433.9V1102.2H431.0ZM433.9 1080.0H436.8V1102.2H433.9ZM436.8 1080.0H439.7V1097.7H436.8ZM439.7 1077.9H442.6V1098.0H439.7ZM442.6 1076.6H445.5V1102.0H442.6ZM445.5 1076.6H448.4V1102.0H445.5ZM448.4 1077.6H451.3V1095.0H448.4ZM451.3 1071.7H454.2V1095.0H451.3ZM454.2 1071.7H457.1V1093.8H454.2ZM457.1 1073.7H460.0V1093.8H457.1ZM460.0 1071.4H462.9V1093.8H460.0ZM462.9 1071.4H465.8V1093.8H462.9ZM465.8 1069.3H468.7V1094.3H465.8ZM468.7 1069.3H471.6V1094.3H468.7ZM471.6 1072.3H474.5V1089.4H471.6ZM474.5 1072.3H477.4V1088.5H474.5ZM477.4 1075.5H480.3V1088.5H477.4ZM480.3 1064.5H483.2V1086.6H480.3ZM483.2 1064.5H486.1V1081.7H483.2ZM486.1 1067.9H489.0V1085.5H486.1ZM489.0 1063.4H491.9V1091.5H489.0ZM491.9 1062.5H494.8V1091.5H491.9ZM494.8 1062.5H497.7V1082.1H494.8ZM497.7 1062.3H500.6V1082.1H497.7ZM500.6 1062.3H503.5V1081.6H500.6ZM503.5 1066.1H506.4V1081.6H503.5ZM506.4 1063.9H509.3V1077.6H506.4ZM509.3 1063.3H512.2V1077.1H509.3ZM512.2 1063.3H515.1V1078.7H512.2ZM515.1 1059.9H518.0V1078.7H515.1ZM518.0 1059.9H520.9V1081.1H518.0ZM520.9 1061.7H523.8V1081.1H520.9ZM523.8 1061.6H526.7V1077.0H523.8ZM526.7 1061.6H529.6V1077.0H526.7ZM529.6 1062.5H532.5V1082.1H529.6ZM532.5 1063.0H535.4V1082.1H532.5ZM535.4 1059.9H538.3V1077.5H535.4ZM538.3 1056.8H541.2V1077.5H538.3ZM541.2 1055.0H544.1V1076.8H541.2ZM544.1 1055.0H547.0V1082.4H544.1ZM547.0 1052.5H549.9V1089.0H547.0ZM549.9 1052.5H552.8V1089.0H549.9ZM552.8 1054.8H555.7V1077.2H552.8ZM555.7 1054.8H558.6V1082.7H555.7ZM558.6 1061.3H561.5V1082.7H558.6ZM561.5 1056.4H564.4V1075.0H561.5ZM564.4 1056.4H567.3V1081.1H564.4ZM567.3 1060.4H570.2V1081.1H567.3ZM570.2 1059.9H573.1V1084.0H570.2ZM573.1 1059.9H576.0V1084.5H573.1ZM576.0 1056.2H578.9V1084.5H576.0ZM578.9 1056.2H581.8V1081.1H578.9ZM581.8 1062.1H584.7V1084.0H581.8ZM584.7 1067.0H587.6V1084.0H584.7ZM587.6 1059.6H590.5V1077.9H587.6ZM590.5 1055.7H593.4V1082.4H590.5ZM593.4 1055.7H596.3V1089.4H593.4ZM596.3 1054.5H599.2V1089.4H596.3ZM599.2 1052.2H602.1V1083.8H599.2ZM602.1 1052.2H605.0V1083.8H602.1ZM605.0 1060.0H607.9V1087.2H605.0ZM607.9 1060.0H610.8V1087.2H607.9ZM610.8 1058.6H613.7V1074.6H610.8ZM613.7 1058.6H616.6V1074.6H613.7ZM616.6 1059.8H619.5V1091.0H616.6ZM619.5 1056.0H622.4V1091.0H619.5ZM622.4 1056.0H625.3V1076.1H622.4ZM625.3 1057.3H628.2V1084.5H625.3ZM628.2 1057.3H631.1V1087.0H628.2ZM631.1 1065.0H634.0V1087.0H631.1ZM634.0 1058.1H636.9V1079.1H634.0ZM636.9 1058.1H639.8V1079.1H636.9ZM639.8 1061.6H642.7V1083.0H639.8ZM642.7 1055.9H645.6V1083.0H642.7ZM645.6 1055.9H648.5V1084.9H645.6ZM648.5 1057.3H651.4V1084.9H648.5ZM651.4 1057.3H654.3V1082.3H651.4ZM654.3 1056.4H657.2V1082.3H654.3ZM657.2 1051.8H660.1V1076.9H657.2ZM660.1 1051.8H663.0V1076.9H660.1ZM663.0 1058.8H665.9V1071.0H663.0ZM665.9 1054.4H668.8V1078.1H665.9ZM668.8 1052.2H671.7V1078.1H668.8ZM671.7 1052.2H674.6V1076.6H671.7ZM674.6 1055.0H677.5V1076.6H674.6ZM677.5 1054.9H680.4V1074.9H677.5ZM680.4 1051.0H683.3V1074.9H680.4ZM683.3 1051.0H686.2V1072.3H683.3ZM686.2 1050.1H689.1V1077.2H686.2ZM689.1 1042.7H692.0V1077.2H689.1ZM692.0 1042.7H694.9V1074.0H692.0ZM694.9 1050.9H697.8V1079.1H694.9ZM697.8 1054.0H700.7V1079.1H697.8ZM700.7 1049.4H703.6V1077.8H700.7ZM703.6 1049.4H706.5V1066.6H703.6ZM706.5 1039.6H709.4V1070.2H706.5ZM709.4 1039.6H712.3V1070.7H709.4ZM712.3 1047.8H715.2V1070.7H712.3ZM715.2 1047.8H718.1V1067.5H715.2ZM718.1 1048.0H721.0V1067.5H718.1ZM721.0 1038.5H723.9V1077.8H721.0ZM723.9 1038.5H726.8V1077.8H723.9ZM726.8 1042.2H729.7V1074.2H726.8ZM729.7 1037.9H732.6V1074.2H729.7ZM732.6 1037.9H735.5V1072.1H732.6ZM735.5 1038.6H738.4V1072.1H735.5ZM738.4 1038.6H741.3V1070.2H738.4ZM741.3 1039.8H744.2V1069.2H741.3ZM744.2 1036.1H747.1V1060.9H744.2ZM747.1 1036.1H750.0V1065.9H747.1ZM750.0 1044.3H752.9V1068.1H750.0ZM752.9 1045.2H755.8V1068.1H752.9ZM755.8 1045.2H758.7V1063.1H755.8ZM758.7 1044.6H761.6V1063.6H758.7ZM761.6 1044.6H764.5V1065.8H761.6ZM764.5 1046.9H767.4V1065.8H764.5ZM767.4 1046.9H770.3V1065.2H767.4ZM770.3 1044.3H773.2V1065.5H770.3ZM773.2 1044.3H776.1V1065.5H773.2ZM776.1 1041.2H779.0V1063.3H776.1ZM779.0 1038.1H781.9V1060.8H779.0ZM781.9 1038.1H784.8V1060.8H781.9ZM784.8 1040.9H787.7V1061.7H784.8ZM787.7 1040.9H790.6V1070.4H787.7ZM790.6 1046.4H793.5V1070.4H790.6ZM793.5 1047.3H796.4V1070.0H793.5ZM796.4 1047.3H799.3V1067.1H796.4ZM799.3 1047.3H802.2V1085.1H799.3ZM802.2 1050.9H805.1V1085.1H802.2ZM805.1 1050.9H808.0V1081.4H805.1ZM808.0 1054.0H810.9V1081.4H808.0ZM810.9 1051.8H813.8V1079.1H810.9ZM813.8 1051.8H816.7V1079.1H813.8ZM816.7 1057.4H819.6V1078.4H816.7ZM819.6 1051.1H822.5V1077.1H819.6ZM822.5 1046.3H825.4V1079.1H822.5ZM825.4 1046.3H828.3V1080.4H825.4ZM828.3 1055.8H831.2V1080.4H828.3ZM831.2 1049.7H834.1V1078.4H831.2ZM834.1 1049.7H837.0V1071.2H834.1ZM837.0 1052.0H839.9V1071.6H837.0ZM839.9 1047.2H842.8V1074.9H839.9ZM842.8 1047.2H845.7V1074.9H842.8ZM845.7 1053.9H848.6V1081.7H845.7ZM848.6 1056.2H851.5V1089.9H848.6ZM851.5 1051.5H854.4V1089.9H851.5ZM854.4 1051.5H857.3V1081.0H854.4ZM857.3 1056.9H860.2V1079.4H857.3ZM860.2 1056.9H863.1V1087.4H860.2ZM863.1 1063.3H866.0V1087.4H863.1ZM866.0 1063.3H868.9V1080.3H866.0ZM868.9 1065.6H871.8V1086.1H868.9ZM871.8 1068.9H874.7V1086.1H871.8ZM874.7 1068.9H877.6V1084.0H874.7ZM877.6 1070.3H880.5V1084.0H877.6ZM880.5 1071.4H883.4V1088.7H880.5ZM883.4 1071.4H886.3V1088.7H883.4ZM886.3 1070.5H889.2V1086.8H886.3ZM889.2 1070.5H892.1V1086.5H889.2ZM892.1 1073.4H895.0V1085.9H892.1ZM895.0 1073.4H897.9V1088.8H895.0ZM897.9 1074.6H900.8V1092.7H897.9ZM900.8 1074.6H903.7V1095.1H900.8ZM903.7 1068.1H906.6V1096.1H903.7ZM906.6 1068.1H909.5V1103.2H906.6ZM909.5 1070.9H912.4V1103.2H909.5ZM912.4 1076.3H915.3V1102.7H912.4ZM915.3 1076.3H918.2V1108.8H915.3ZM918.2 1075.5H921.1V1108.8H918.2ZM921.1 1075.5H924.0V1094.9H921.1ZM924.0 1082.0H926.9V1103.4H924.0ZM926.9 1082.0H929.8V1103.4H926.9ZM929.8 1085.4H932.7V1102.8H929.8ZM932.7 1085.4H935.6V1102.8H932.7ZM935.6 1086.2H938.5V1105.4H935.6ZM938.5 1083.2H941.4V1105.4H938.5ZM941.4 1083.2H944.3V1106.3H941.4ZM944.3 1085.5H947.2V1106.3H944.3ZM947.2 1089.2H950.1V1112.1H947.2ZM950.1 1088.3H953.0V1112.1H950.1ZM953.0 1088.3H955.9V1109.3H953.0ZM955.9 1092.6H958.8V1110.7H955.9ZM958.8 1094.2H961.7V1115.5H958.8ZM961.7 1094.2H964.6V1126.9H961.7ZM964.6 1094.5H967.5V1126.9H964.6ZM967.5 1093.7H970.4V1121.6H967.5ZM970.4 1093.7H973.3V1121.6H970.4ZM973.3 1096.5H976.2V1110.6H973.3ZM976.2 1099.1H979.1V1112.4H976.2ZM979.1 1099.6H982.0V1116.9H979.1ZM982.0 1099.6H984.9V1121.9H982.0ZM984.9 1099.6H987.8V1121.9H984.9ZM987.8 1103.1H990.7V1130.1H987.8ZM990.7 1106.2H993.6V1130.3H990.7ZM993.6 1110.8H996.5V1130.3H993.6ZM996.5 1103.6H999.4V1127.1H996.5ZM999.4 1103.6H1002.3V1127.1H999.4ZM1002.3 1106.6H1005.2V1132.2H1002.3ZM1005.2 1106.6H1008.1V1132.2H1005.2ZM1008.1 1113.7H1011.0V1130.6H1008.1ZM1011.0 1113.7H1013.9V1130.6H1011.0ZM1013.9 1107.5H1016.8V1136.3H1013.9ZM1016.8 1107.5H1019.7V1136.3H1016.8ZM1019.7 1110.3H1022.6V1125.3H1019.7ZM1022.6 1110.3H1025.5V1134.7H1022.6ZM1025.5 1113.7H1028.4V1134.7H1025.5ZM1028.4 1109.7H1031.3V1133.5H1028.4ZM1031.3 1109.7H1034.2V1129.9H1031.3ZM1034.2 1115.4H1037.1V1131.4H1034.2ZM1037.1 1119.3H1040.0V1131.4H1037.1ZM1040.0 1119.3H1042.9V1137.7H1040.0ZM1042.9 1116.6H1045.8V1138.1H1042.9ZM1045.8 1116.6H1048.7V1138.5H1045.8ZM1048.7 1126.8H1051.6V1138.5H1048.7ZM1051.6 1126.8H1054.5V1141.7H1051.6ZM1054.5 1127.2H1057.4V1145.4H1054.5ZM1057.4 1126.5H1060.3V1145.4H1057.4ZM1060.3 1125.4H1063.2V1145.2H1060.3ZM1063.2 1121.1H1066.1V1146.2H1063.2ZM1066.1 1120.0H1069.0V1146.2H1066.1ZM1069.0 1120.0H1071.9V1142.2H1069.0ZM1071.9 1126.6H1074.8V1141.7H1071.9ZM1074.8 1127.8H1077.7V1140.6H1074.8ZM1077.7 1129.1H1080.6V1144.5H1077.7ZM1080.6 1133.1H1083.5V1150.1H1080.6ZM1083.5 1130.3H1086.4V1151.1H1083.5ZM1086.4 1129.4H1089.3V1151.1H1086.4ZM1089.3 1129.4H1092.2V1155.1H1089.3ZM1092.2 1133.1H1095.1V1155.1H1092.2ZM1095.1 1133.1H1098.0V1151.6H1095.1ZM1098.0 1133.2H1100.9V1152.7H1098.0ZM1100.9 1133.2H1103.8V1152.7H1100.9ZM1103.8 1133.2H1106.7V1154.0H1103.8ZM1106.7 1133.2H1109.6V1154.0H1106.7ZM1109.6 1134.2H1112.5V1155.1H1109.6ZM1112.5 1137.0H1115.4V1158.6H1112.5ZM1115.4 1132.2H1118.3V1158.6H1115.4ZM1118.3 1132.2H1121.2V1153.9H1118.3ZM1121.2 1138.6H1124.1V1156.9H1121.2ZM1124.1 1141.3H1127.0V1161.9H1124.1ZM1127.0 1137.4H1129.9V1161.9H1127.0ZM1129.9 1137.4H1132.8V1156.8H1129.9ZM1132.8 1137.4H1135.7V1156.8H1132.8ZM1135.7 1132.7H1138.6V1155.0H1135.7ZM1138.6 1132.7H1141.5V1154.5H1138.6ZM1141.5 1137.9H1144.4V1157.6H1141.5ZM1144.4 1128.8H1147.3V1157.6H1144.4ZM1147.3 1128.8H1150.2V1152.7H1147.3ZM1150.2 1141.7H1153.1V1155.6H1150.2ZM1153.1 1141.9H1156.0V1157.2H1153.1ZM1156.0 1138.6H1158.9V1158.8H1156.0ZM1158.9 1138.4H1161.8V1158.8H1158.9ZM1161.8 1138.4H1164.7V1162.0H1161.8ZM1164.7 1141.1H1167.6V1162.0H1164.7ZM1167.6 1140.5H1170.5V1157.5H1167.6ZM1170.5 1140.5H1173.4V1156.9H1170.5ZM1173.4 1142.1H1176.3V1164.7H1173.4ZM1176.3 1141.0H1179.2V1164.7H1176.3ZM1179.2 1136.6H1182.1V1160.2H1179.2ZM1182.1 1136.6H1185.0V1161.3H1182.1ZM1185.0 1143.4H1187.9V1161.3H1185.0ZM1187.9 1136.9H1190.8V1157.7H1187.9ZM1190.8 1134.1H1193.7V1157.7H1190.8ZM1193.7 1134.1H1196.6V1156.6H1193.7ZM1196.6 1137.4H1199.5V1156.6H1196.6ZM1199.5 1139.5H1202.4V1156.5H1199.5ZM1202.4 1131.3H1205.3V1156.5H1202.4ZM1205.3 1131.3H1208.2V1155.6H1205.3ZM1208.2 1138.0H1211.1V1154.3H1208.2ZM1211.1 1137.2H1214.0V1166.0H1211.1ZM1214.0 1137.2H1216.9V1166.0H1214.0ZM1216.9 1139.2H1219.8V1155.4H1216.9ZM1219.8 1144.9H1222.7V1155.8H1219.8ZM1222.7 1138.8H1225.6V1155.8H1222.7ZM1225.6 1138.8H1228.5V1154.4H1225.6ZM1228.5 1135.0H1231.4V1154.4H1228.5ZM1231.4 1135.0H1234.3V1154.1H1231.4ZM1234.3 1137.4H1237.2V1152.1H1234.3ZM1237.2 1137.4H1240.1V1151.4H1237.2ZM1240.1 1135.6H1243.0V1153.5H1240.1ZM1243.0 1135.6H1245.9V1153.5H1243.0ZM1245.9 1135.1H1248.8V1152.5H1245.9ZM1248.8 1131.6H1251.7V1152.5H1248.8ZM1251.7 1131.6H1254.6V1157.8H1251.7ZM1254.6 1137.4H1257.5V1157.8H1254.6ZM1257.5 1137.4H1260.4V1157.1H1257.5ZM1260.4 1138.3H1263.3V1156.5H1260.4ZM1263.3 1133.0H1266.2V1149.8H1263.3ZM1266.2 1133.0H1269.1V1155.4H1266.2ZM1269.1 1137.4H1272.0V1155.4H1269.1ZM1272.0 1137.4H1274.9V1154.0H1272.0ZM1274.9 1130.6H1277.8V1154.0H1274.9ZM1277.8 1130.6H1280.7V1153.0H1277.8ZM1280.7 1134.9H1283.6V1153.0H1280.7ZM1283.6 1129.3H1286.5V1152.9H1283.6ZM1286.5 1129.3H1289.4V1152.9H1286.5ZM1289.4 1133.5H1292.3V1158.3H1289.4ZM1292.3 1133.5H1295.2V1158.3H1292.3ZM1295.2 1136.3H1298.1V1153.3H1295.2ZM1298.1 1138.3H1301.0V1156.2H1298.1ZM1301.0 1138.3H1303.9V1156.2H1301.0ZM1303.9 1135.8H1306.8V1151.1H1303.9ZM1306.8 1135.8H1309.7V1149.6H1306.8ZM1309.7 1141.6H1312.6V1149.5H1309.7ZM1312.6 1131.1H1315.5V1149.7H1312.6ZM1315.5 1131.1H1318.4V1151.8H1315.5ZM1318.4 1134.3H1321.3V1157.9H1318.4ZM1321.3 1139.1H1324.2V1157.9H1321.3ZM1324.2 1139.1H1327.1V1155.6H1324.2ZM1327.1 1140.1H1330.0V1155.8H1327.1ZM1330.0 1140.1H1332.9V1156.7H1330.0ZM1332.9 1143.0H1335.8V1156.7H1332.9ZM1335.8 1143.0H1338.7V1159.0H1335.8ZM1338.7 1141.9H1341.6V1159.0H1338.7ZM1341.6 1141.9H1344.5V1160.0H1341.6ZM1344.5 1142.9H1347.4V1160.0H1344.5ZM1347.4 1143.8H1350.3V1153.9H1347.4ZM1350.3 1143.8H1353.2V1162.1H1350.3ZM1353.2 1148.1H1356.1V1162.1H1353.2ZM1356.1 1146.2H1359.0V1160.4H1356.1ZM1359.0 1144.6H1361.9V1164.6H1359.0ZM1361.9 1144.6H1364.8V1164.6H1361.9ZM1364.8 1145.6H1367.7V1164.2H1364.8ZM1367.7 1145.6H1370.6V1163.8H1367.7ZM1370.6 1143.6H1373.5V1170.9H1370.6ZM1373.5 1143.6H1376.4V1170.9H1373.5ZM1376.4 1149.3H1379.3V1168.2H1376.4ZM1379.3 1142.9H1382.2V1168.2H1379.3ZM1382.2 1142.9H1385.1V1164.9H1382.2ZM1385.1 1150.6H1388.0V1164.9H1385.1ZM1388.0 1150.8H1390.9V1164.6H1388.0ZM1390.9 1141.6H1393.8V1169.7H1390.9ZM1393.8 1141.6H1396.7V1172.3H1393.8ZM1396.7 1151.9H1399.6V1172.3H1396.7ZM1399.6 1151.6H1402.5V1169.9H1399.6ZM1402.5 1147.0H1405.4V1170.6H1402.5ZM1405.4 1147.0H1408.3V1170.6H1405.4ZM1408.3 1157.6H1411.2V1171.7H1408.3ZM1411.2 1157.0H1414.1V1178.9H1411.2ZM1414.1 1157.0H1417.0V1178.9H1414.1ZM1417.0 1158.1H1419.9V1170.9H1417.0ZM1419.9 1158.2H1422.8V1172.0H1419.9ZM1422.8 1159.8H1425.7V1172.0H1422.8ZM1425.7 1155.1H1428.6V1176.5H1425.7ZM1428.6 1155.1H1431.5V1176.5H1428.6ZM1431.5 1157.4H1434.4V1174.7H1431.5ZM1434.4 1157.4H1437.3V1179.8H1434.4ZM1437.3 1154.8H1440.2V1179.8H1437.3ZM1440.2 1154.8H1443.1V1177.4H1440.2ZM1443.1 1161.1H1446.0V1182.2H1443.1ZM1446.0 1161.1H1448.9V1182.2H1446.0ZM1448.9 1162.3H1451.8V1175.8H1448.9ZM1451.8 1162.5H1454.7V1175.8H1451.8ZM1454.7 1161.0H1457.6V1176.2H1454.7ZM1457.6 1161.0H1460.5V1183.7H1457.6ZM1460.5 1159.9H1463.4V1183.7H1460.5ZM1463.4 1159.9H1466.3V1177.5H1463.4ZM1466.3 1168.3H1469.2V1178.2H1466.3ZM1469.2 1169.0H1472.1V1178.2H1469.2ZM1472.1 1161.7H1475.0V1177.9H1472.1ZM1475.0 1161.7H1477.9V1181.0H1475.0ZM1477.9 1161.6H1480.8V1184.9H1477.9ZM1480.8 1161.6H1483.7V1184.9H1480.8ZM1483.7 1162.4H1486.6V1178.6H1483.7ZM1486.6 1165.8H1489.5V1180.2H1486.6ZM1489.5 1165.6H1492.4V1184.6H1489.5ZM1492.4 1165.6H1495.3V1184.6H1492.4ZM1495.3 1167.5H1498.2V1184.1H1495.3ZM1498.2 1166.0H1501.1V1184.2H1498.2ZM1501.1 1163.3H1504.0V1184.2H1501.1ZM1504.0 1163.3H1506.9V1178.5H1504.0ZM1506.9 1163.7H1509.8V1185.5H1506.9ZM1509.8 1163.7H1512.7V1185.5H1509.8ZM1512.7 1167.7H1515.6V1185.5H1512.7ZM1515.6 1167.7H1518.5V1181.5H1515.6ZM1518.5 1170.1H1521.4V1186.8H1518.5ZM1521.4 1165.0H1524.3V1186.8H1521.4ZM1524.3 1165.0H1527.2V1182.4H1524.3ZM1527.2 1167.1H1530.1V1187.3H1527.2ZM1530.1 1168.7H1533.0V1187.3H1530.1ZM1533.0 1166.7H1535.9V1186.3H1533.0ZM1535.9 1166.7H1538.8V1186.3H1535.9ZM1538.8 1167.4H1541.7V1185.5H1538.8ZM1541.7 1168.5H1544.6V1187.8H1541.7ZM1544.6 1168.5H1547.5V1187.8H1544.6ZM1547.5 1170.5H1550.4V1188.2H1547.5ZM1550.4 1170.5H1553.3V1188.2H1550.4ZM1553.3 1173.2H1556.2V1186.3H1553.3ZM1556.2 1173.2H1559.1V1187.2H1556.2ZM1559.1 1174.3H1562.0V1187.9H1559.1ZM1562.0 1174.3H1564.9V1190.9H1562.0ZM1564.9 1175.9H1567.8V1190.9H1564.9ZM1567.8 1171.5H1570.7V1184.5H1567.8ZM1570.7 1171.5H1573.6V1190.4H1570.7ZM1573.6 1177.1H1576.5V1190.4H1573.6ZM1576.5 1175.8H1579.4V1190.5H1576.5ZM1579.4 1175.8H1582.3V1190.5H1579.4ZM1582.3 1172.1H1585.2V1189.5H1582.3ZM1585.2 1172.1H1588.1V1189.2H1585.2ZM1588.1 1174.6H1591.0V1189.2H1588.1ZM1591.0 1174.6H1593.9V1189.6H1591.0ZM1593.9 1178.1H1596.8V1191.5H1593.9ZM1596.8 1177.9H1599.7V1191.7H1596.8ZM1599.7 1174.6H1602.6V1191.7H1599.7ZM1602.6 1174.6H1605.5V1190.9H1602.6ZM1605.5 1177.4H1608.4V1197.7H1605.5ZM1608.4 1174.0H1611.3V1197.7H1608.4ZM1611.3 1174.0H1614.2V1195.1H1611.3ZM1614.2 1175.8H1617.1V1195.1H1614.2ZM1617.1 1175.8H1620.0V1188.6H1617.1ZM1620.0 1177.9H1622.9V1188.6H1620.0ZM1622.9 1177.9H1625.8V1199.0H1622.9ZM1625.8 1176.9H1628.7V1199.0H1625.8ZM1628.7 1173.5H1631.6V1196.2H1628.7ZM1631.6 1173.5H1634.5V1196.2H1631.6ZM1634.5 1178.5H1637.4V1193.6H1634.5ZM1637.4 1178.5H1640.3V1193.6H1637.4ZM1640.3 1174.6H1643.2V1195.6H1640.3ZM1643.2 1174.6H1646.1V1195.6H1643.2ZM1646.1 1176.5H1649.0V1194.9H1646.1ZM1649.0 1178.2H1651.9V1194.3H1649.0ZM1651.9 1178.2H1654.8V1192.3H1651.9ZM1654.8 1178.6H1657.7V1199.7H1654.8ZM1657.7 1184.4H1660.6V1199.7H1657.7ZM1660.6 1182.9H1663.5V1197.8H1660.6ZM1663.5 1182.4H1666.4V1199.8H1663.5ZM1666.4 1177.5H1669.3V1199.8H1666.4ZM1669.3 1177.5H1672.2V1193.7H1669.3ZM1672.2 1185.4H1675.1V1195.7H1672.2ZM1675.1 1180.0H1678.0V1200.6H1675.1ZM1678.0 1180.0H1680.9V1200.6H1678.0ZM1680.9 1182.9H1683.8V1196.1H1680.9ZM1683.8 1183.6H1686.7V1201.3H1683.8ZM1686.7 1183.6H1689.6V1201.3H1686.7ZM1689.6 1184.5H1692.5V1194.7H1689.6ZM1692.5 1183.1H1695.4V1194.7H1692.5ZM1695.4 1182.7H1698.3V1200.2H1695.4ZM1698.3 1181.7H1701.2V1200.2H1698.3ZM1701.2 1181.7H1704.1V1198.4H1701.2ZM1704.1 1182.0H1707.0V1200.9H1704.1ZM1707.0 1182.0H1709.9V1200.9H1707.0ZM1709.9 1190.4H1712.8V1199.3H1709.9ZM1712.8 1189.4H1715.7V1204.9H1712.8ZM1715.7 1189.4H1718.6V1204.9H1715.7ZM1718.6 1191.7H1721.5V1203.8H1718.6ZM1721.5 1191.7H1722.0V1203.8H1721.5Z"/>
</g>
<g fill="#000" font-family="'Liberation Serif', serif" font-weight="bold">
<text x="272.7" y="1318.5" text-anchor="middle" class="tk">10</text>
<text x="594.6" y="1318.5" text-anchor="middle" class="tk">20</text>
<text x="918.0" y="1318.5" text-anchor="middle" class="tk">30</text>
<text x="1239.9" y="1318.5" text-anchor="middle" class="tk">40</text>
<text x="1561.7" y="1318.5" text-anchor="middle" class="tk">50</text>
<text x="916.7" y="1394.5" text-anchor="middle" class="xl" textLength="452" lengthAdjust="spacing">2Theta(degree)</text>
<text transform="translate(70.5,655) rotate(-90)" text-anchor="middle" class="yl" textLength="420" lengthAdjust="spacing">Intensity(a.u.)</text>
</g>
</svg>
</body></html>
